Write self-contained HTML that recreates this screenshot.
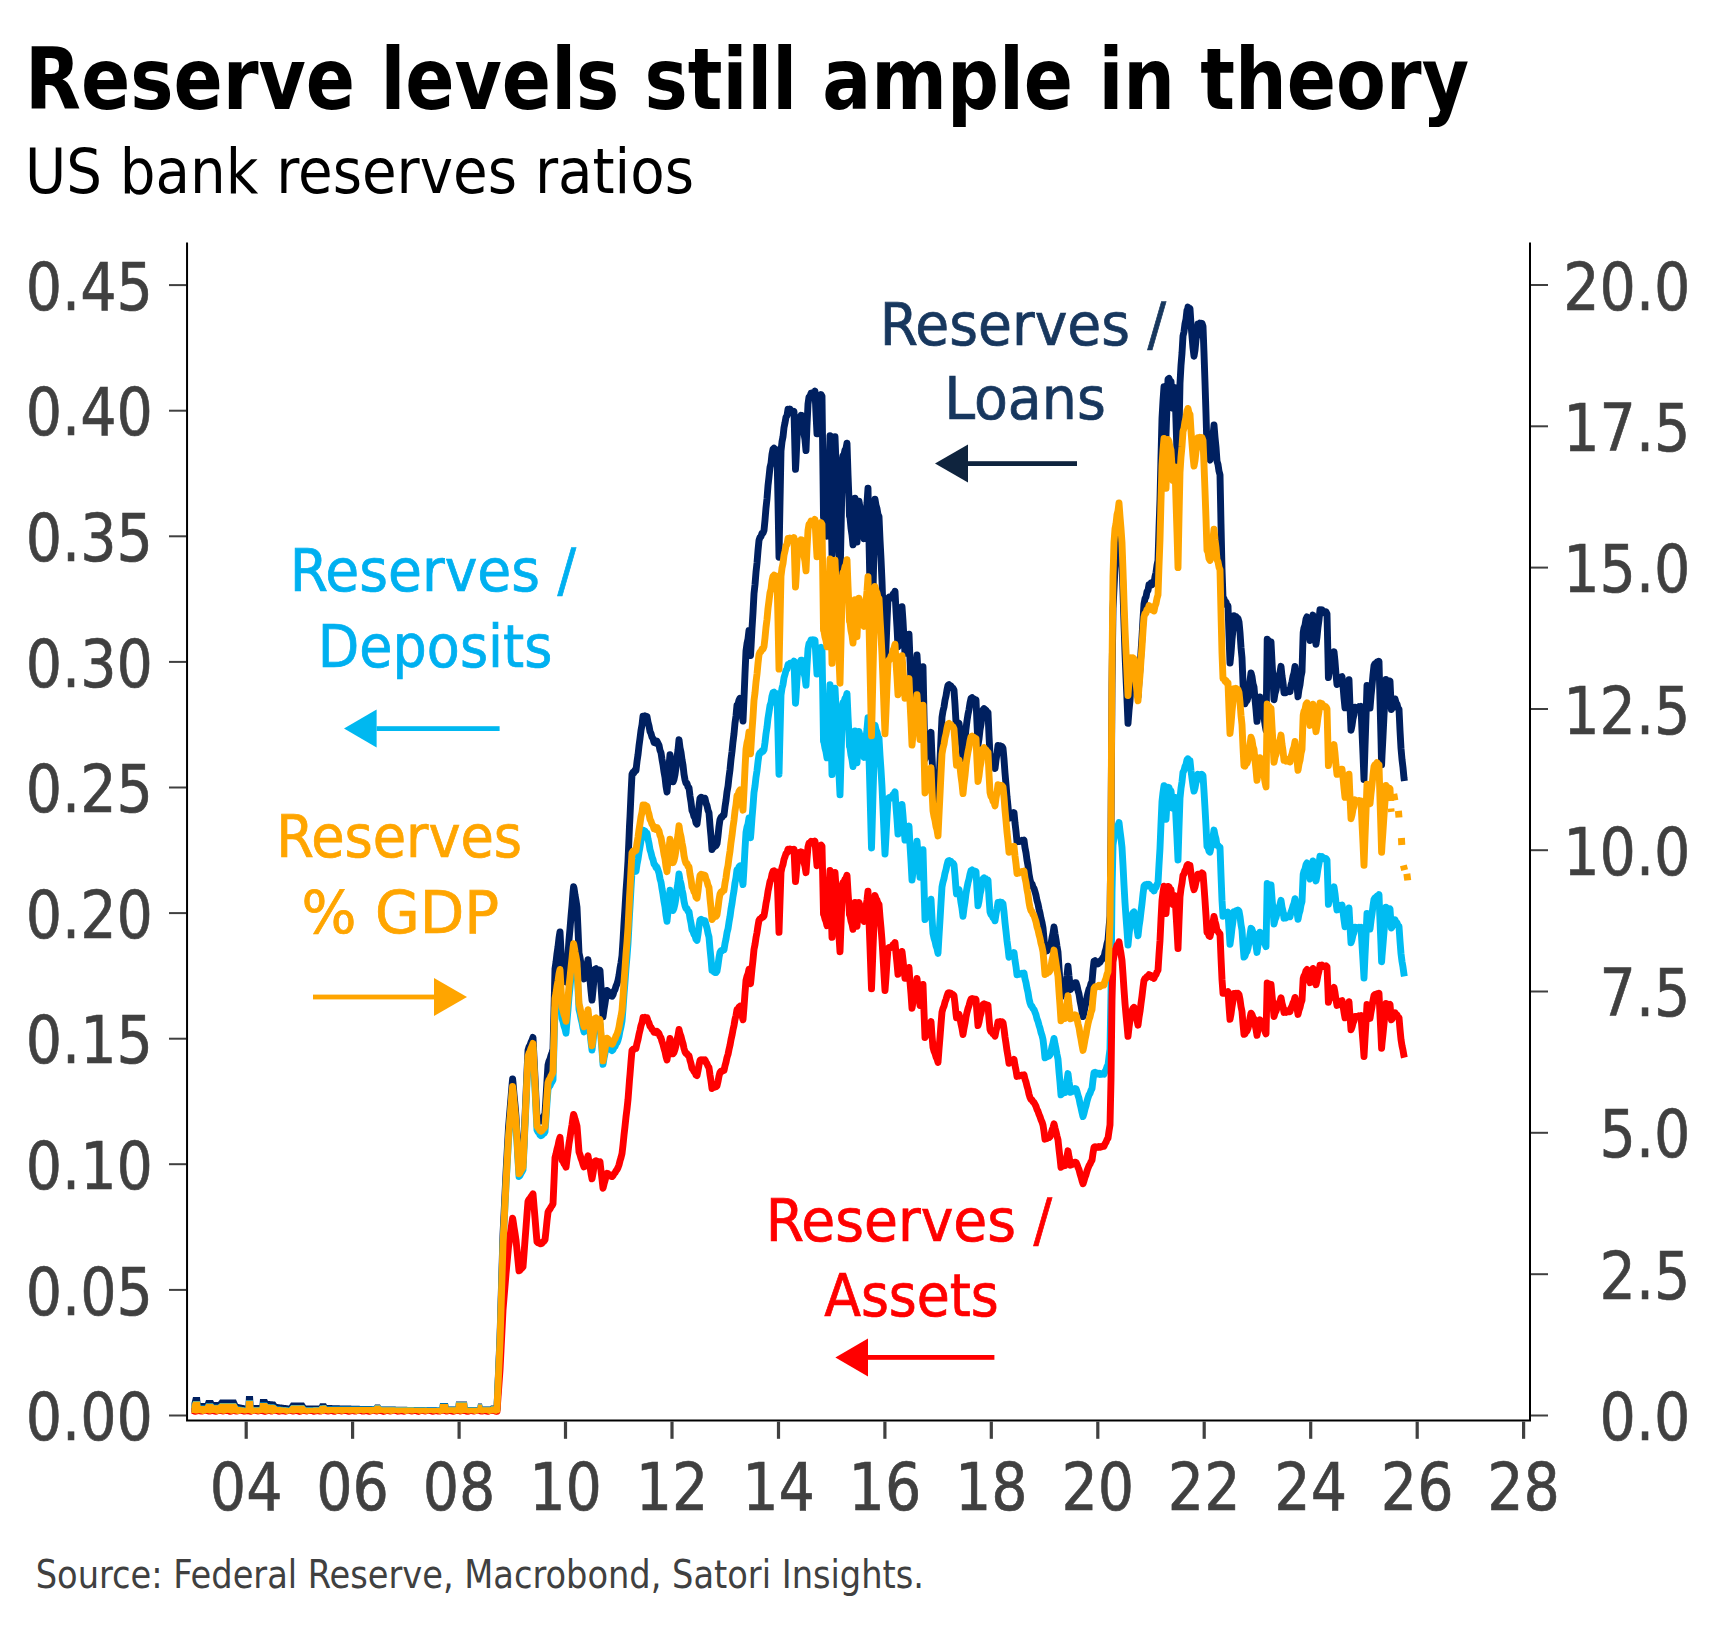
<!DOCTYPE html>
<html lang="en"><head><meta charset="utf-8"><title>Reserve levels still ample in theory</title>
<style>
html,body{margin:0;padding:0;background:#fff;}
body{width:1718px;height:1635px;overflow:hidden;}
svg{display:block;}
text{font-family:"DejaVu Sans Condensed", "Liberation Sans", sans-serif;}
.tk{fill:#404040;font-size:66px;stroke:#404040;stroke-width:0.6px;}
.lbl{font-size:60px;text-anchor:middle;}
.ln{fill:none;stroke-width:6.9;stroke-linejoin:round;stroke-linecap:butt;}
</style></head><body>
<svg width="1718" height="1635" viewBox="0 0 1718 1635">
<rect width="1718" height="1635" fill="#fff"/>

<text id="title" x="25" y="109" font-size="85" font-weight="bold" fill="#000" textLength="1444" lengthAdjust="spacingAndGlyphs">Reserve levels still ample in theory</text>
<text id="sub" x="25" y="193" font-size="62" fill="#000" textLength="669" lengthAdjust="spacingAndGlyphs">US bank reserves ratios</text>
<path fill="#002060" d="M191.5 1403.0 L192.0 1401.0 L192.5 1399.0 L193.0 1397.0 L193.5 1397.0 L194.0 1397.0 L194.5 1397.0 L195.0 1397.0 L195.5 1397.0 L196.0 1397.0 L196.5 1397.0 L197.0 1397.0 L197.5 1397.0 L198.0 1397.0 L198.5 1397.0 L199.0 1397.0 L199.5 1397.0 L200.0 1397.0 L200.5 1403.0 L201.0 1403.0 L201.5 1403.0 L202.0 1403.0 L202.5 1403.0 L203.0 1403.0 L203.5 1403.0 L204.0 1403.0 L204.5 1403.0 L205.0 1403.0 L205.5 1401.5 L206.0 1400.0 L206.5 1400.0 L207.0 1400.0 L207.5 1400.0 L208.0 1400.0 L208.5 1400.0 L209.0 1400.0 L209.5 1400.0 L210.0 1400.0 L210.5 1400.0 L211.0 1400.0 L211.5 1400.0 L212.0 1400.0 L212.5 1400.0 L213.0 1400.0 L213.5 1401.0 L214.0 1402.0 L214.5 1402.0 L215.0 1402.0 L215.5 1402.0 L216.0 1402.0 L216.5 1402.0 L217.0 1402.0 L217.5 1402.0 L218.0 1402.0 L218.5 1401.4 L219.0 1400.8 L219.5 1400.2 L220.0 1399.6 L220.5 1399.6 L221.0 1399.6 L221.5 1399.6 L222.0 1399.6 L222.5 1399.6 L223.0 1399.6 L223.5 1399.6 L224.0 1399.6 L224.5 1399.6 L225.0 1399.6 L225.5 1399.6 L226.0 1399.6 L226.5 1399.6 L227.0 1399.6 L227.5 1399.6 L228.0 1399.6 L228.5 1399.6 L229.0 1399.6 L229.5 1399.6 L230.0 1399.6 L230.5 1399.6 L231.0 1399.6 L231.5 1399.6 L232.0 1399.6 L232.5 1399.6 L233.0 1399.6 L233.5 1399.6 L234.0 1399.6 L234.5 1399.6 L235.0 1399.6 L235.5 1399.6 L236.0 1399.6 L236.5 1400.7 L237.0 1401.8 L237.5 1402.9 L238.0 1404.0 L238.5 1404.1 L239.0 1404.2 L239.5 1404.3 L240.0 1404.4 L240.5 1404.5 L241.0 1404.6 L241.5 1404.7 L242.0 1404.8 L242.5 1404.9 L243.0 1405.0 L243.5 1405.1 L244.0 1405.2 L244.5 1405.3 L245.0 1405.4 L245.5 1405.5 L246.0 1396.0 L246.5 1396.0 L247.0 1396.0 L247.5 1396.0 L248.0 1396.0 L248.5 1396.0 L249.0 1396.0 L249.5 1396.0 L250.0 1396.0 L250.5 1396.0 L251.0 1396.0 L251.5 1396.0 L252.0 1396.0 L252.5 1396.0 L253.0 1396.0 L253.5 1405.0 L254.0 1405.0 L254.5 1405.0 L255.0 1405.0 L255.5 1405.0 L256.0 1405.0 L256.5 1405.0 L257.0 1405.0 L257.5 1405.0 L258.0 1405.0 L258.5 1405.0 L259.0 1405.0 L259.5 1405.0 L260.0 1399.0 L260.5 1399.0 L261.0 1399.0 L261.5 1399.0 L262.0 1399.0 L262.5 1399.0 L263.0 1399.0 L263.5 1399.0 L264.0 1399.0 L264.5 1399.0 L265.0 1399.0 L265.5 1399.0 L266.0 1399.0 L266.5 1399.0 L267.0 1399.0 L267.5 1400.0 L268.0 1401.0 L268.5 1401.0 L269.0 1401.1 L269.5 1401.1 L270.0 1401.1 L270.5 1401.2 L271.0 1401.2 L271.5 1401.2 L272.0 1401.3 L272.5 1401.3 L273.0 1401.4 L273.5 1401.4 L274.0 1401.4 L274.5 1401.5 L275.0 1401.5 L275.5 1402.1 L276.0 1402.8 L276.5 1403.4 L277.0 1404.0 L277.5 1404.1 L278.0 1404.1 L278.5 1404.2 L279.0 1404.2 L279.5 1404.3 L280.0 1404.4 L280.5 1404.4 L281.0 1404.5 L281.5 1404.6 L282.0 1404.6 L282.5 1404.7 L283.0 1404.8 L283.5 1404.8 L284.0 1404.9 L284.5 1404.9 L285.0 1405.0 L285.5 1405.1 L286.0 1405.1 L286.5 1405.2 L287.0 1405.2 L287.5 1405.3 L288.0 1405.4 L288.5 1405.4 L289.0 1405.5 L289.5 1404.8 L290.0 1404.0 L290.5 1403.2 L291.0 1402.5 L291.5 1402.5 L292.0 1402.5 L292.5 1402.5 L293.0 1402.5 L293.5 1402.5 L294.0 1402.5 L294.5 1402.5 L295.0 1402.5 L295.5 1402.5 L296.0 1402.5 L296.5 1402.5 L297.0 1402.5 L297.5 1402.5 L298.0 1402.5 L298.5 1402.5 L299.0 1402.5 L299.5 1402.5 L300.0 1402.5 L300.5 1402.5 L301.0 1402.5 L301.5 1402.5 L302.0 1402.5 L302.5 1402.5 L303.0 1402.5 L303.5 1402.5 L304.0 1402.5 L304.5 1403.3 L305.0 1404.0 L305.5 1404.8 L306.0 1405.6 L306.5 1405.6 L307.0 1405.6 L307.5 1405.6 L308.0 1405.6 L308.5 1405.6 L309.0 1405.6 L309.5 1405.6 L310.0 1405.6 L310.5 1405.6 L311.0 1405.6 L311.5 1405.6 L312.0 1405.6 L312.5 1405.6 L313.0 1405.6 L313.5 1405.6 L314.0 1405.6 L314.5 1405.6 L315.0 1405.6 L315.5 1405.6 L316.0 1405.6 L316.5 1405.6 L317.0 1405.6 L317.5 1405.6 L318.0 1405.6 L318.5 1405.6 L319.0 1405.6 L319.5 1404.4 L320.0 1403.3 L320.5 1403.3 L321.0 1403.3 L321.5 1403.3 L322.0 1403.3 L322.5 1403.3 L323.0 1403.3 L323.5 1403.3 L324.0 1403.3 L324.5 1403.3 L325.0 1403.3 L325.5 1403.3 L326.0 1403.3 L326.5 1404.2 L327.0 1405.0 L327.5 1405.0 L328.0 1405.0 L328.5 1405.0 L329.0 1405.1 L329.5 1405.1 L330.0 1405.1 L330.5 1405.1 L331.0 1405.1 L331.5 1405.1 L332.0 1405.1 L332.5 1405.2 L333.0 1405.2 L333.5 1405.2 L334.0 1405.2 L334.5 1405.2 L335.0 1405.2 L335.5 1405.2 L336.0 1405.2 L336.5 1405.3 L337.0 1405.3 L337.5 1405.3 L338.0 1405.3 L338.5 1405.3 L339.0 1405.3 L339.5 1405.3 L340.0 1405.4 L340.5 1405.4 L341.0 1405.4 L341.5 1405.4 L342.0 1405.4 L342.5 1405.4 L343.0 1405.4 L343.5 1405.5 L344.0 1405.5 L344.5 1405.5 L345.0 1405.5 L345.5 1405.5 L346.0 1405.5 L346.5 1405.5 L347.0 1405.5 L347.5 1405.6 L348.0 1405.6 L348.5 1405.6 L349.0 1405.6 L349.5 1405.6 L350.0 1405.6 L350.5 1405.6 L351.0 1405.6 L351.5 1405.7 L352.0 1405.7 L352.5 1405.7 L353.0 1405.7 L353.5 1405.7 L354.0 1405.7 L354.5 1405.7 L355.0 1405.7 L355.5 1405.8 L356.0 1405.8 L356.5 1405.8 L357.0 1405.8 L357.5 1405.8 L358.0 1405.8 L358.5 1405.8 L359.0 1405.8 L359.5 1405.8 L360.0 1405.9 L360.5 1405.9 L361.0 1405.9 L361.5 1405.9 L362.0 1405.9 L362.5 1405.9 L363.0 1405.9 L363.5 1405.9 L364.0 1406.0 L364.5 1406.0 L365.0 1406.0 L365.5 1406.0 L366.0 1406.0 L366.5 1406.0 L367.0 1406.0 L367.5 1406.0 L368.0 1406.1 L368.5 1406.1 L369.0 1406.1 L369.5 1406.1 L370.0 1406.1 L370.5 1406.1 L371.0 1406.1 L371.5 1406.1 L372.0 1406.2 L372.5 1406.2 L373.0 1406.2 L373.5 1406.2 L374.0 1406.2 L374.5 1405.4 L375.0 1404.6 L375.5 1404.6 L376.0 1404.6 L376.5 1404.6 L377.0 1404.6 L377.5 1404.6 L378.0 1404.6 L378.5 1404.6 L379.0 1404.6 L379.5 1404.6 L380.0 1404.6 L380.5 1405.5 L381.0 1406.4 L381.5 1406.4 L382.0 1406.4 L382.5 1406.4 L383.0 1406.4 L383.5 1406.4 L384.0 1406.5 L384.5 1406.5 L385.0 1406.5 L385.5 1406.5 L386.0 1406.5 L386.5 1406.5 L387.0 1406.5 L387.5 1406.5 L388.0 1406.5 L388.5 1406.5 L389.0 1406.5 L389.5 1406.5 L390.0 1406.6 L390.5 1406.6 L391.0 1406.6 L391.5 1406.6 L392.0 1406.6 L392.5 1406.6 L393.0 1406.6 L393.5 1406.6 L394.0 1406.6 L394.5 1406.6 L395.0 1406.6 L395.5 1406.6 L396.0 1406.7 L396.5 1406.7 L397.0 1406.7 L397.5 1406.7 L398.0 1406.7 L398.5 1406.7 L399.0 1406.7 L399.5 1406.7 L400.0 1406.7 L400.5 1406.7 L401.0 1406.7 L401.5 1406.8 L402.0 1406.8 L402.5 1406.8 L403.0 1406.8 L403.5 1406.8 L404.0 1406.8 L404.5 1406.8 L405.0 1406.8 L405.5 1406.8 L406.0 1406.8 L406.5 1406.8 L407.0 1406.8 L407.5 1406.9 L408.0 1406.9 L408.5 1406.9 L409.0 1406.9 L409.5 1406.9 L410.0 1406.9 L410.5 1406.9 L411.0 1406.9 L411.5 1406.9 L412.0 1406.9 L412.5 1406.9 L413.0 1406.9 L413.5 1407.0 L414.0 1407.0 L414.5 1407.0 L415.0 1407.0 L415.5 1407.0 L416.0 1407.0 L416.5 1407.0 L417.0 1407.0 L417.5 1407.0 L418.0 1407.0 L418.5 1407.0 L419.0 1407.0 L419.5 1407.1 L420.0 1407.1 L420.5 1407.1 L421.0 1407.1 L421.5 1407.1 L422.0 1407.1 L422.5 1407.1 L423.0 1407.1 L423.5 1407.1 L424.0 1407.1 L424.5 1407.1 L425.0 1407.2 L425.5 1407.2 L426.0 1407.2 L426.5 1407.2 L427.0 1407.2 L427.5 1407.2 L428.0 1407.2 L428.5 1407.2 L429.0 1407.2 L429.5 1407.2 L430.0 1407.2 L430.5 1407.2 L431.0 1407.3 L431.5 1407.3 L432.0 1407.3 L432.5 1407.3 L433.0 1407.3 L433.5 1407.3 L434.0 1407.3 L434.5 1407.3 L435.0 1407.3 L435.5 1407.3 L436.0 1407.3 L436.5 1407.3 L437.0 1407.4 L437.5 1407.4 L438.0 1407.4 L438.5 1407.4 L439.0 1407.4 L439.5 1407.4 L440.0 1403.0 L440.5 1403.0 L441.0 1403.0 L441.5 1403.0 L442.0 1403.0 L442.5 1403.0 L443.0 1403.0 L443.5 1403.0 L444.0 1403.0 L444.5 1403.0 L445.0 1403.0 L445.5 1403.0 L446.0 1403.0 L446.5 1403.0 L447.0 1403.0 L447.5 1403.0 L448.0 1403.0 L448.5 1406.6 L449.0 1406.6 L449.5 1406.6 L450.0 1406.6 L450.5 1406.6 L451.0 1406.6 L451.5 1406.6 L452.0 1406.6 L452.5 1406.6 L453.0 1406.6 L453.5 1406.6 L454.0 1406.6 L454.5 1406.6 L455.0 1406.6 L455.5 1406.6 L456.0 1401.4 L456.5 1401.4 L457.0 1401.4 L457.5 1401.4 L458.0 1401.4 L458.5 1401.4 L459.0 1401.4 L459.5 1401.4 L460.0 1401.4 L460.5 1401.4 L461.0 1401.4 L461.5 1401.4 L462.0 1401.4 L462.5 1401.4 L463.0 1401.4 L463.5 1401.4 L464.0 1401.4 L464.5 1401.4 L465.0 1401.4 L465.5 1401.4 L466.0 1401.4 L466.5 1401.4 L467.0 1401.4 L467.5 1407.0 L468.0 1407.0 L468.5 1407.0 L469.0 1407.0 L469.5 1407.0 L470.0 1407.0 L470.5 1407.0 L471.0 1407.0 L471.5 1407.0 L472.0 1407.0 L472.5 1407.0 L473.0 1407.0 L473.5 1407.0 L474.0 1407.0 L474.5 1407.0 L475.0 1407.0 L475.5 1407.0 L476.0 1407.0 L476.5 1407.0 L477.0 1407.0 L477.5 1407.0 L478.0 1403.5 L478.5 1403.5 L479.0 1403.5 L479.5 1403.5 L480.0 1403.5 L480.5 1403.5 L481.0 1403.5 L481.5 1403.5 L482.0 1403.5 L482.5 1406.6 L483.0 1406.6 L483.5 1406.6 L484.0 1406.6 L484.5 1406.6 L485.0 1406.6 L485.5 1406.6 L486.0 1406.6 L486.5 1406.6 L487.0 1406.6 L487.5 1406.6 L488.0 1406.6 L488.5 1406.6 L489.0 1406.6 L489.5 1406.6 L490.0 1406.6 L490.5 1406.1 L491.0 1405.6 L491.5 1405.6 L492.0 1405.6 L492.5 1405.6 L493.0 1405.6 L493.5 1405.6 L494.0 1405.6 L494.5 1405.6 L495.0 1405.6 L495.5 1405.6 L496.0 1405.6 L496.5 1405.6 L497.0 1405.6 L497.0 1412.0 L496.5 1412.0 L496.0 1412.0 L495.5 1412.0 L495.0 1412.0 L494.5 1412.0 L494.0 1412.0 L493.5 1412.0 L493.0 1412.0 L492.5 1412.0 L492.0 1412.0 L491.5 1412.0 L491.0 1412.0 L490.5 1412.0 L490.0 1412.0 L489.5 1412.0 L489.0 1412.0 L488.5 1412.0 L488.0 1412.0 L487.5 1412.0 L487.0 1412.0 L486.5 1412.0 L486.0 1412.0 L485.5 1412.0 L485.0 1412.0 L484.5 1412.0 L484.0 1412.0 L483.5 1412.0 L483.0 1412.0 L482.5 1412.0 L482.0 1412.0 L481.5 1412.0 L481.0 1412.0 L480.5 1412.0 L480.0 1412.0 L479.5 1412.0 L479.0 1412.0 L478.5 1412.0 L478.0 1412.0 L477.5 1412.0 L477.0 1412.0 L476.5 1412.0 L476.0 1412.0 L475.5 1412.0 L475.0 1412.0 L474.5 1412.0 L474.0 1412.0 L473.5 1412.0 L473.0 1412.0 L472.5 1412.0 L472.0 1412.0 L471.5 1412.0 L471.0 1412.0 L470.5 1412.0 L470.0 1412.0 L469.5 1412.0 L469.0 1412.0 L468.5 1412.0 L468.0 1412.0 L467.5 1412.0 L467.0 1412.0 L466.5 1412.0 L466.0 1412.0 L465.5 1412.0 L465.0 1412.0 L464.5 1412.0 L464.0 1412.0 L463.5 1412.0 L463.0 1412.0 L462.5 1412.0 L462.0 1412.0 L461.5 1412.0 L461.0 1412.0 L460.5 1412.0 L460.0 1412.0 L459.5 1412.0 L459.0 1412.0 L458.5 1412.0 L458.0 1412.0 L457.5 1412.0 L457.0 1412.0 L456.5 1412.0 L456.0 1412.0 L455.5 1412.0 L455.0 1412.0 L454.5 1412.0 L454.0 1412.0 L453.5 1412.0 L453.0 1412.0 L452.5 1412.0 L452.0 1412.0 L451.5 1412.0 L451.0 1412.0 L450.5 1412.0 L450.0 1412.0 L449.5 1412.0 L449.0 1412.0 L448.5 1412.0 L448.0 1412.0 L447.5 1412.0 L447.0 1412.0 L446.5 1412.0 L446.0 1412.0 L445.5 1412.0 L445.0 1412.0 L444.5 1412.0 L444.0 1412.0 L443.5 1412.0 L443.0 1412.0 L442.5 1412.0 L442.0 1412.0 L441.5 1412.0 L441.0 1412.0 L440.5 1412.0 L440.0 1412.0 L439.5 1412.0 L439.0 1412.0 L438.5 1412.0 L438.0 1412.0 L437.5 1412.0 L437.0 1412.0 L436.5 1412.0 L436.0 1412.0 L435.5 1412.0 L435.0 1412.0 L434.5 1412.0 L434.0 1412.0 L433.5 1412.0 L433.0 1412.0 L432.5 1412.0 L432.0 1412.0 L431.5 1412.0 L431.0 1412.0 L430.5 1412.0 L430.0 1412.0 L429.5 1412.0 L429.0 1412.0 L428.5 1412.0 L428.0 1412.0 L427.5 1412.0 L427.0 1412.0 L426.5 1412.0 L426.0 1412.0 L425.5 1412.0 L425.0 1412.0 L424.5 1412.0 L424.0 1412.0 L423.5 1412.0 L423.0 1412.0 L422.5 1412.0 L422.0 1412.0 L421.5 1412.0 L421.0 1412.0 L420.5 1412.0 L420.0 1412.0 L419.5 1412.0 L419.0 1412.0 L418.5 1412.0 L418.0 1412.0 L417.5 1412.0 L417.0 1412.0 L416.5 1412.0 L416.0 1412.0 L415.5 1412.0 L415.0 1412.0 L414.5 1412.0 L414.0 1412.0 L413.5 1412.0 L413.0 1412.0 L412.5 1412.0 L412.0 1412.0 L411.5 1412.0 L411.0 1412.0 L410.5 1412.0 L410.0 1412.0 L409.5 1412.0 L409.0 1412.0 L408.5 1412.0 L408.0 1412.0 L407.5 1412.0 L407.0 1412.0 L406.5 1412.0 L406.0 1412.0 L405.5 1412.0 L405.0 1412.0 L404.5 1412.0 L404.0 1412.0 L403.5 1412.0 L403.0 1412.0 L402.5 1412.0 L402.0 1412.0 L401.5 1412.0 L401.0 1412.0 L400.5 1412.0 L400.0 1412.0 L399.5 1412.0 L399.0 1412.0 L398.5 1412.0 L398.0 1412.0 L397.5 1412.0 L397.0 1412.0 L396.5 1412.0 L396.0 1412.0 L395.5 1412.0 L395.0 1412.0 L394.5 1412.0 L394.0 1412.0 L393.5 1412.0 L393.0 1412.0 L392.5 1412.0 L392.0 1412.0 L391.5 1412.0 L391.0 1412.0 L390.5 1412.0 L390.0 1412.0 L389.5 1412.0 L389.0 1412.0 L388.5 1412.0 L388.0 1412.0 L387.5 1412.0 L387.0 1412.0 L386.5 1412.0 L386.0 1412.0 L385.5 1412.0 L385.0 1412.0 L384.5 1412.0 L384.0 1412.0 L383.5 1412.0 L383.0 1412.0 L382.5 1412.0 L382.0 1412.0 L381.5 1412.0 L381.0 1412.0 L380.5 1412.0 L380.0 1412.0 L379.5 1412.0 L379.0 1412.0 L378.5 1412.0 L378.0 1412.0 L377.5 1412.0 L377.0 1412.0 L376.5 1412.0 L376.0 1412.0 L375.5 1412.0 L375.0 1412.0 L374.5 1412.0 L374.0 1412.0 L373.5 1412.0 L373.0 1412.0 L372.5 1412.0 L372.0 1412.0 L371.5 1412.0 L371.0 1412.0 L370.5 1412.0 L370.0 1412.0 L369.5 1412.0 L369.0 1412.0 L368.5 1412.0 L368.0 1412.0 L367.5 1412.0 L367.0 1412.0 L366.5 1412.0 L366.0 1412.0 L365.5 1412.0 L365.0 1412.0 L364.5 1412.0 L364.0 1412.0 L363.5 1412.0 L363.0 1412.0 L362.5 1412.0 L362.0 1412.0 L361.5 1412.0 L361.0 1412.0 L360.5 1412.0 L360.0 1412.0 L359.5 1412.0 L359.0 1412.0 L358.5 1412.0 L358.0 1412.0 L357.5 1412.0 L357.0 1412.0 L356.5 1412.0 L356.0 1412.0 L355.5 1412.0 L355.0 1412.0 L354.5 1412.0 L354.0 1412.0 L353.5 1412.0 L353.0 1412.0 L352.5 1412.0 L352.0 1412.0 L351.5 1412.0 L351.0 1412.0 L350.5 1412.0 L350.0 1412.0 L349.5 1412.0 L349.0 1412.0 L348.5 1412.0 L348.0 1412.0 L347.5 1412.0 L347.0 1412.0 L346.5 1412.0 L346.0 1412.0 L345.5 1412.0 L345.0 1412.0 L344.5 1412.0 L344.0 1412.0 L343.5 1412.0 L343.0 1412.0 L342.5 1412.0 L342.0 1412.0 L341.5 1412.0 L341.0 1412.0 L340.5 1412.0 L340.0 1412.0 L339.5 1412.0 L339.0 1412.0 L338.5 1412.0 L338.0 1412.0 L337.5 1412.0 L337.0 1412.0 L336.5 1412.0 L336.0 1412.0 L335.5 1412.0 L335.0 1412.0 L334.5 1412.0 L334.0 1412.0 L333.5 1412.0 L333.0 1412.0 L332.5 1412.0 L332.0 1412.0 L331.5 1412.0 L331.0 1412.0 L330.5 1412.0 L330.0 1412.0 L329.5 1412.0 L329.0 1412.0 L328.5 1412.0 L328.0 1412.0 L327.5 1412.0 L327.0 1412.0 L326.5 1412.0 L326.0 1412.0 L325.5 1412.0 L325.0 1412.0 L324.5 1412.0 L324.0 1412.0 L323.5 1412.0 L323.0 1412.0 L322.5 1412.0 L322.0 1412.0 L321.5 1412.0 L321.0 1412.0 L320.5 1412.0 L320.0 1412.0 L319.5 1412.0 L319.0 1412.0 L318.5 1412.0 L318.0 1412.0 L317.5 1412.0 L317.0 1412.0 L316.5 1412.0 L316.0 1412.0 L315.5 1412.0 L315.0 1412.0 L314.5 1412.0 L314.0 1412.0 L313.5 1412.0 L313.0 1412.0 L312.5 1412.0 L312.0 1412.0 L311.5 1412.0 L311.0 1412.0 L310.5 1412.0 L310.0 1412.0 L309.5 1412.0 L309.0 1412.0 L308.5 1412.0 L308.0 1412.0 L307.5 1412.0 L307.0 1412.0 L306.5 1412.0 L306.0 1412.0 L305.5 1412.0 L305.0 1412.0 L304.5 1412.0 L304.0 1412.0 L303.5 1412.0 L303.0 1412.0 L302.5 1412.0 L302.0 1412.0 L301.5 1412.0 L301.0 1412.0 L300.5 1412.0 L300.0 1412.0 L299.5 1412.0 L299.0 1412.0 L298.5 1412.0 L298.0 1412.0 L297.5 1412.0 L297.0 1412.0 L296.5 1412.0 L296.0 1412.0 L295.5 1412.0 L295.0 1412.0 L294.5 1412.0 L294.0 1412.0 L293.5 1412.0 L293.0 1412.0 L292.5 1412.0 L292.0 1412.0 L291.5 1412.0 L291.0 1412.0 L290.5 1412.0 L290.0 1412.0 L289.5 1412.0 L289.0 1412.0 L288.5 1412.0 L288.0 1412.0 L287.5 1412.0 L287.0 1412.0 L286.5 1412.0 L286.0 1412.0 L285.5 1412.0 L285.0 1412.0 L284.5 1412.0 L284.0 1412.0 L283.5 1412.0 L283.0 1412.0 L282.5 1412.0 L282.0 1412.0 L281.5 1412.0 L281.0 1412.0 L280.5 1412.0 L280.0 1412.0 L279.5 1412.0 L279.0 1412.0 L278.5 1412.0 L278.0 1412.0 L277.5 1412.0 L277.0 1412.0 L276.5 1412.0 L276.0 1412.0 L275.5 1412.0 L275.0 1412.0 L274.5 1412.0 L274.0 1412.0 L273.5 1412.0 L273.0 1412.0 L272.5 1412.0 L272.0 1412.0 L271.5 1412.0 L271.0 1412.0 L270.5 1412.0 L270.0 1412.0 L269.5 1412.0 L269.0 1412.0 L268.5 1412.0 L268.0 1412.0 L267.5 1412.0 L267.0 1412.0 L266.5 1412.0 L266.0 1412.0 L265.5 1412.0 L265.0 1412.0 L264.5 1412.0 L264.0 1412.0 L263.5 1412.0 L263.0 1412.0 L262.5 1412.0 L262.0 1412.0 L261.5 1412.0 L261.0 1412.0 L260.5 1412.0 L260.0 1412.0 L259.5 1412.0 L259.0 1412.0 L258.5 1412.0 L258.0 1412.0 L257.5 1412.0 L257.0 1412.0 L256.5 1412.0 L256.0 1412.0 L255.5 1412.0 L255.0 1412.0 L254.5 1412.0 L254.0 1412.0 L253.5 1412.0 L253.0 1412.0 L252.5 1412.0 L252.0 1412.0 L251.5 1412.0 L251.0 1412.0 L250.5 1412.0 L250.0 1412.0 L249.5 1412.0 L249.0 1412.0 L248.5 1412.0 L248.0 1412.0 L247.5 1412.0 L247.0 1412.0 L246.5 1412.0 L246.0 1412.0 L245.5 1412.0 L245.0 1412.0 L244.5 1412.0 L244.0 1412.0 L243.5 1412.0 L243.0 1412.0 L242.5 1412.0 L242.0 1412.0 L241.5 1412.0 L241.0 1412.0 L240.5 1412.0 L240.0 1412.0 L239.5 1412.0 L239.0 1412.0 L238.5 1412.0 L238.0 1412.0 L237.5 1412.0 L237.0 1412.0 L236.5 1412.0 L236.0 1412.0 L235.5 1412.0 L235.0 1412.0 L234.5 1412.0 L234.0 1412.0 L233.5 1412.0 L233.0 1412.0 L232.5 1412.0 L232.0 1412.0 L231.5 1412.0 L231.0 1412.0 L230.5 1412.0 L230.0 1412.0 L229.5 1412.0 L229.0 1412.0 L228.5 1412.0 L228.0 1412.0 L227.5 1412.0 L227.0 1412.0 L226.5 1412.0 L226.0 1412.0 L225.5 1412.0 L225.0 1412.0 L224.5 1412.0 L224.0 1412.0 L223.5 1412.0 L223.0 1412.0 L222.5 1412.0 L222.0 1412.0 L221.5 1412.0 L221.0 1412.0 L220.5 1412.0 L220.0 1412.0 L219.5 1412.0 L219.0 1412.0 L218.5 1412.0 L218.0 1412.0 L217.5 1412.0 L217.0 1412.0 L216.5 1412.0 L216.0 1412.0 L215.5 1412.0 L215.0 1412.0 L214.5 1412.0 L214.0 1412.0 L213.5 1412.0 L213.0 1412.0 L212.5 1412.0 L212.0 1412.0 L211.5 1412.0 L211.0 1412.0 L210.5 1412.0 L210.0 1412.0 L209.5 1412.0 L209.0 1412.0 L208.5 1412.0 L208.0 1412.0 L207.5 1412.0 L207.0 1412.0 L206.5 1412.0 L206.0 1412.0 L205.5 1412.0 L205.0 1412.0 L204.5 1412.0 L204.0 1412.0 L203.5 1412.0 L203.0 1412.0 L202.5 1412.0 L202.0 1412.0 L201.5 1412.0 L201.0 1412.0 L200.5 1412.0 L200.0 1412.0 L199.5 1412.0 L199.0 1412.0 L198.5 1412.0 L198.0 1412.0 L197.5 1412.0 L197.0 1412.0 L196.5 1412.0 L196.0 1412.0 L195.5 1412.0 L195.0 1412.0 L194.5 1412.0 L194.0 1412.0 L193.5 1412.0 L193.0 1412.0 L192.5 1412.0 L192.0 1412.0 L191.5 1412.0 Z"/>
<path class="ln" stroke="#002060" d="M495.5 1408.8 L497.0 1408.8 L497.0 1407.9 L498.0 1384.4 L499.0 1360.9 L500.0 1337.5 L501.0 1303.2 L502.0 1269.0 L503.0 1234.7 L504.0 1214.3 L505.0 1193.8 L506.0 1173.4 L507.0 1155.0 L508.0 1136.7 L508.5 1127.5 L509.0 1121.5 L510.0 1109.6 L511.0 1097.7 L512.0 1085.5 L512.6 1079.0 L513.0 1082.6 L514.0 1094.5 L515.0 1104.9 L516.0 1116.6 L517.0 1133.7 L518.0 1151.8 L519.0 1168.8 L520.0 1167.7 L521.0 1165.6 L522.0 1164.2 L523.0 1162.2 L524.0 1140.2 L525.0 1116.9 L526.0 1094.9 L527.0 1071.7 L528.0 1050.3 L529.0 1046.9 L530.0 1045.3 L531.0 1042.3 L532.0 1040.3 L533.0 1037.4 L534.0 1058.1 L535.0 1078.0 L536.0 1098.7 L537.0 1118.7 L538.0 1119.7 L539.0 1119.8 L540.0 1121.1 L541.0 1121.1 L542.0 1119.8 L543.0 1117.2 L544.0 1115.9 L545.0 1113.3 L546.0 1097.5 L547.0 1080.5 L548.0 1065.2 L549.0 1061.2 L550.0 1059.1 L551.0 1055.4 L552.0 1052.8 L553.0 1049.3 L554.0 1009.6 L555.0 968.7 L556.0 962.1 L557.0 953.4 L558.0 946.8 L559.0 938.1 L560.0 931.9 L561.0 950.7 L562.0 970.8 L563.0 972.6 L564.0 976.4 L565.0 978.1 L566.0 981.9 L567.0 967.6 L568.0 954.6 L569.0 939.7 L570.0 928.9 L571.0 916.6 L572.0 905.4 L573.0 892.3 L573.6 886.7 L574.0 888.1 L575.0 894.9 L576.0 900.6 L577.0 907.3 L578.0 929.3 L579.0 953.0 L580.0 957.6 L581.0 963.7 L582.0 968.4 L583.0 974.5 L584.0 979.0 L585.0 974.9 L586.0 969.4 L587.0 965.1 L588.0 959.7 L589.0 970.4 L590.0 979.5 L591.0 990.9 L592.0 1000.1 L593.0 990.5 L594.0 979.1 L595.0 969.2 L596.0 968.6 L597.0 970.1 L598.0 969.7 L599.0 971.0 L600.0 970.4 L601.0 986.2 L602.0 1000.6 L603.0 1016.7 L604.0 1009.5 L605.0 1003.4 L606.0 996.4 L607.0 990.5 L608.0 991.1 L609.0 993.3 L610.0 993.9 L611.0 996.0 L612.0 996.3 L613.0 994.7 L614.0 991.2 L615.0 989.6 L616.0 986.1 L617.0 983.9 L618.0 980.4 L619.0 975.5 L620.0 968.4 L621.0 962.8 L622.0 955.8 L623.0 940.7 L624.0 923.3 L625.0 907.9 L626.0 891.2 L627.0 877.3 L628.0 861.0 L629.0 838.2 L629.5 826.0 L630.0 816.6 L631.0 794.2 L632.0 774.3 L633.0 772.2 L634.0 772.6 L635.0 770.1 L636.0 770.3 L637.0 761.6 L638.0 754.8 L639.0 745.8 L640.0 738.5 L641.0 730.4 L642.0 725.0 L643.0 716.2 L644.0 717.4 L645.0 715.9 L646.0 717.3 L647.0 716.6 L648.0 722.1 L649.0 725.8 L650.0 731.4 L651.0 733.5 L652.0 737.1 L653.0 738.6 L654.0 742.4 L655.0 741.6 L656.0 743.2 L657.0 741.2 L658.0 743.2 L659.0 745.2 L660.0 750.3 L661.0 752.8 L662.0 759.3 L663.0 764.8 L664.0 771.9 L665.0 777.3 L666.0 786.1 L667.0 792.0 L668.0 780.2 L669.0 766.1 L670.0 754.7 L671.0 762.9 L672.0 773.8 L673.0 781.9 L674.0 779.4 L675.0 774.5 L676.0 767.6 L677.0 757.2 L678.0 750.1 L679.0 739.7 L680.0 747.7 L681.0 752.3 L682.0 759.6 L683.0 765.1 L684.0 774.2 L685.0 779.9 L686.0 783.3 L687.0 783.5 L688.0 787.0 L689.0 787.6 L690.0 796.0 L691.0 802.1 L692.0 810.6 L693.0 812.7 L694.0 816.6 L695.0 818.0 L696.0 822.8 L697.0 824.1 L698.0 816.3 L699.0 806.0 L700.0 798.3 L701.0 797.4 L702.0 799.0 L703.0 798.1 L704.0 799.3 L705.0 798.5 L706.0 803.1 L707.0 805.6 L708.0 810.2 L709.0 812.8 L710.0 825.8 L711.0 836.4 L712.0 849.6 L713.0 847.4 L714.0 847.0 L715.0 845.5 L716.0 845.6 L717.0 843.7 L718.0 836.0 L719.0 826.4 L720.0 819.6 L721.0 817.3 L722.0 817.5 L723.0 815.1 L724.0 815.1 L725.0 806.8 L726.0 800.4 L727.0 791.8 L728.0 786.3 L729.0 777.2 L730.0 769.7 L731.0 759.4 L732.0 751.6 L733.0 741.7 L734.0 733.7 L735.0 723.0 L736.0 715.9 L737.0 705.0 L738.0 704.3 L739.0 700.1 L740.0 698.3 L741.0 705.1 L742.0 714.1 L743.0 721.1 L744.0 698.4 L745.0 673.2 L746.0 651.0 L747.0 643.6 L748.0 639.0 L749.0 630.5 L750.0 648.5 L750.5 655.5 L751.0 647.4 L752.0 628.5 L753.0 612.5 L754.0 593.7 L755.0 584.6 L756.0 572.2 L757.0 563.0 L758.0 550.6 L759.0 540.3 L760.0 537.3 L761.0 536.6 L762.0 533.3 L763.0 533.2 L764.0 530.4 L765.0 520.2 L766.0 507.8 L767.0 498.6 L768.0 485.7 L769.0 476.8 L770.0 467.3 L771.0 463.4 L772.0 454.1 L773.0 449.1 L774.0 448.1 L775.0 449.9 L776.0 449.5 L777.0 451.1 L778.0 502.3 L779.0 557.2 L780.0 502.8 L781.0 450.8 L782.0 441.8 L783.0 436.8 L784.0 427.6 L785.0 422.8 L786.0 417.2 L787.0 415.7 L788.0 409.3 L789.0 411.2 L790.0 409.2 L791.0 412.5 L792.0 411.2 L793.0 413.1 L794.0 411.5 L795.0 452.4 L795.5 469.3 L796.0 461.4 L797.0 438.8 L798.0 421.3 L799.0 417.3 L800.0 418.5 L801.0 415.2 L802.0 415.7 L803.0 422.5 L804.0 433.6 L805.0 439.7 L806.0 450.6 L807.0 425.4 L808.0 404.0 L809.0 397.0 L810.0 396.3 L811.0 393.3 L812.0 395.4 L813.0 392.9 L814.0 394.6 L815.0 391.1 L816.0 414.2 L817.0 433.9 L818.0 422.2 L819.0 407.2 L820.0 396.5 L821.0 394.6 L822.0 396.3 L823.0 475.3 L823.5 517.3 L824.0 518.3 L825.0 525.2 L826.0 529.2 L827.0 536.2 L828.0 501.8 L829.0 469.9 L830.0 435.6 L831.0 497.4 L832.0 554.9 L833.0 517.1 L834.0 474.5 L835.0 436.7 L836.0 463.3 L837.0 494.1 L838.0 522.1 L839.0 552.5 L840.0 580.0 L841.0 532.8 L842.0 481.7 L842.5 459.3 L843.0 455.5 L844.0 454.8 L845.0 450.0 L846.0 448.4 L847.0 443.2 L848.0 474.1 L849.0 500.2 L849.5 516.1 L850.0 517.6 L851.0 528.3 L852.0 534.9 L853.0 544.8 L854.0 519.9 L855.0 498.3 L856.0 518.6 L857.0 542.1 L858.0 519.7 L859.0 501.3 L860.0 507.6 L861.0 517.4 L862.0 523.1 L863.0 532.7 L864.0 538.7 L865.0 527.5 L866.0 513.7 L867.0 502.9 L868.0 488.2 L869.0 540.4 L870.0 588.0 L871.0 638.7 L871.5 662.2 L872.0 640.0 L873.0 591.8 L874.0 547.8 L875.0 499.3 L876.0 505.3 L877.0 508.6 L878.0 514.5 L879.0 516.6 L880.0 539.4 L881.0 558.8 L882.0 581.2 L883.0 610.7 L884.0 641.9 L885.0 670.8 L886.0 647.5 L887.0 621.7 L888.0 598.6 L889.0 597.1 L890.0 598.4 L891.0 596.9 L892.0 596.8 L893.0 594.1 L894.0 593.8 L895.0 591.3 L896.0 610.8 L897.0 627.4 L898.0 646.7 L899.0 635.2 L900.0 626.3 L901.0 615.4 L902.0 606.7 L903.0 621.1 L904.0 639.1 L905.0 653.4 L906.0 650.5 L907.0 643.8 L908.0 640.5 L909.0 634.2 L910.0 659.7 L911.0 681.1 L912.0 706.1 L913.0 695.2 L914.0 686.9 L915.0 675.5 L916.0 667.2 L917.0 655.0 L918.0 671.8 L919.0 686.3 L920.0 702.9 L921.0 690.1 L922.0 679.6 L923.0 666.8 L924.0 714.6 L925.0 759.3 L926.0 756.0 L927.0 750.6 L928.0 747.4 L929.0 741.9 L930.0 738.0 L931.0 732.3 L932.0 756.7 L933.0 777.4 L934.0 783.6 L935.0 787.7 L936.0 794.1 L937.0 797.6 L938.0 803.9 L939.0 781.3 L940.0 760.4 L941.0 738.3 L942.0 717.3 L943.0 711.0 L944.0 707.0 L945.0 700.2 L946.0 696.0 L947.0 689.8 L948.0 685.3 L949.0 684.6 L950.0 687.5 L951.0 685.9 L952.0 688.0 L953.0 688.1 L954.0 690.3 L955.0 704.5 L956.0 722.1 L956.5 728.7 L957.0 728.5 L958.0 724.6 L959.0 723.2 L960.0 730.6 L961.0 740.3 L962.0 748.1 L963.0 758.5 L964.0 747.9 L965.0 739.5 L966.0 728.7 L967.0 720.8 L968.0 714.3 L969.0 709.6 L970.0 703.1 L971.0 698.5 L972.0 697.7 L973.0 700.2 L974.0 698.9 L975.0 701.3 L976.0 699.9 L977.0 723.8 L978.0 745.0 L979.0 739.0 L980.0 729.8 L981.0 724.4 L982.0 715.6 L983.0 709.7 L984.0 708.6 L985.0 711.3 L986.0 710.2 L987.0 712.9 L988.0 712.5 L989.0 735.6 L990.0 754.8 L991.0 759.0 L992.0 759.8 L993.0 763.7 L994.0 764.9 L995.0 768.5 L996.0 760.2 L997.0 753.8 L998.0 745.5 L999.0 746.7 L1000.0 745.9 L1001.0 747.6 L1002.0 746.6 L1003.0 748.3 L1004.0 759.1 L1005.0 773.0 L1006.0 784.4 L1007.0 796.7 L1008.0 806.3 L1009.0 818.3 L1010.0 816.0 L1011.0 816.8 L1012.0 814.6 L1013.0 815.2 L1014.0 812.6 L1015.0 823.0 L1016.0 831.3 L1017.0 841.9 L1018.0 840.7 L1019.0 841.5 L1020.0 840.7 L1021.0 841.2 L1022.0 840.3 L1023.0 840.9 L1024.0 840.2 L1025.0 847.8 L1026.0 852.7 L1027.0 860.1 L1028.0 865.7 L1029.0 874.0 L1030.0 879.4 L1031.0 883.1 L1032.0 883.9 L1033.0 887.0 L1034.0 888.4 L1035.0 891.8 L1036.0 895.3 L1037.0 900.6 L1038.0 903.9 L1039.0 909.0 L1040.0 913.0 L1041.0 918.5 L1042.0 922.3 L1043.0 927.8 L1044.0 938.7 L1045.0 951.7 L1046.0 950.3 L1047.0 950.8 L1048.0 949.3 L1049.0 949.5 L1050.0 948.1 L1051.0 943.8 L1052.0 937.7 L1053.0 933.3 L1054.0 927.0 L1055.0 933.8 L1056.0 939.6 L1057.0 946.3 L1058.0 952.1 L1059.0 967.7 L1060.0 981.5 L1061.0 997.2 L1062.0 994.8 L1063.0 994.2 L1064.0 992.2 L1065.0 992.2 L1066.0 983.1 L1067.0 975.6 L1068.0 966.2 L1069.0 976.1 L1070.0 984.1 L1070.5 989.6 L1071.0 988.3 L1072.0 988.0 L1073.0 985.5 L1074.0 985.1 L1075.0 982.7 L1076.0 982.6 L1077.0 985.7 L1078.0 990.5 L1079.0 994.0 L1080.0 1000.5 L1081.0 1005.5 L1082.0 1011.5 L1083.0 1016.6 L1084.0 1012.3 L1085.0 1006.8 L1086.0 1002.7 L1087.0 997.0 L1088.0 992.8 L1089.0 989.2 L1090.0 987.3 L1091.0 983.5 L1092.0 981.8 L1093.0 970.2 L1094.0 961.3 L1095.0 960.7 L1096.0 962.2 L1097.0 962.3 L1098.0 963.9 L1099.0 961.8 L1100.0 962.2 L1101.0 960.1 L1102.0 959.5 L1103.0 957.5 L1104.0 957.3 L1105.0 952.1 L1106.0 948.9 L1107.0 943.6 L1108.0 940.2 L1109.0 927.7 L1110.0 916.0 L1111.0 831.9 L1112.0 684.4 L1113.0 608.4 L1114.0 588.6 L1115.0 568.5 L1116.0 556.8 L1117.0 541.1 L1118.0 530.5 L1119.0 515.7 L1120.0 531.6 L1121.0 545.8 L1122.0 562.1 L1123.0 591.6 L1124.0 623.7 L1125.0 653.2 L1126.0 677.3 L1127.0 699.6 L1128.0 723.4 L1129.0 710.4 L1130.0 700.6 L1131.0 683.2 L1132.0 679.8 L1133.0 674.0 L1134.0 670.4 L1135.0 675.5 L1136.0 684.1 L1137.0 689.5 L1138.0 696.9 L1139.0 681.1 L1140.0 668.4 L1141.0 652.0 L1142.0 637.0 L1143.0 619.3 L1144.0 603.9 L1145.0 598.7 L1146.0 596.8 L1147.0 591.6 L1148.0 590.3 L1149.0 584.7 L1150.0 585.6 L1151.0 583.1 L1152.0 584.8 L1153.0 582.2 L1154.0 583.0 L1155.0 576.5 L1156.0 572.5 L1157.0 565.3 L1158.0 560.5 L1159.0 528.6 L1160.0 499.6 L1161.0 457.1 L1162.0 418.2 L1163.0 400.6 L1164.0 386.7 L1165.0 409.9 L1166.0 435.9 L1167.0 406.0 L1168.0 379.3 L1169.0 378.5 L1170.0 382.2 L1171.0 381.5 L1172.0 396.1 L1173.0 408.2 L1174.0 400.0 L1175.0 387.7 L1176.0 421.9 L1177.0 453.3 L1178.0 488.5 L1179.0 433.2 L1180.0 383.1 L1181.0 365.3 L1182.0 353.1 L1183.0 336.0 L1184.0 331.8 L1185.0 323.8 L1186.0 319.1 L1187.0 310.1 L1187.6 309.5 L1188.0 307.1 L1189.0 309.5 L1190.0 308.7 L1191.0 324.2 L1192.0 336.3 L1193.0 347.9 L1194.0 356.2 L1195.0 350.1 L1196.0 339.7 L1197.0 334.4 L1198.0 324.0 L1199.0 325.7 L1200.0 323.1 L1201.0 325.7 L1202.0 323.4 L1203.0 326.3 L1204.0 353.2 L1205.0 382.5 L1206.0 413.8 L1207.0 449.0 L1208.0 450.9 L1209.0 458.0 L1210.0 460.1 L1211.0 452.7 L1212.0 442.3 L1213.0 435.6 L1214.0 425.0 L1215.0 437.3 L1216.0 447.1 L1217.0 461.1 L1218.0 464.5 L1219.0 471.2 L1220.0 474.8 L1221.0 523.8 L1222.0 568.8 L1223.0 597.7 L1224.0 598.6 L1225.0 602.0 L1226.0 602.0 L1227.0 605.7 L1228.0 605.9 L1229.0 636.0 L1230.0 663.1 L1231.0 653.2 L1232.0 639.7 L1233.0 629.4 L1234.0 615.8 L1235.0 618.2 L1236.0 616.5 L1237.0 618.9 L1238.0 618.5 L1239.0 621.9 L1240.0 632.5 L1241.0 647.3 L1242.0 657.8 L1243.0 682.8 L1244.0 703.4 L1245.0 703.8 L1246.0 700.7 L1247.0 700.8 L1248.0 697.4 L1249.0 690.4 L1250.0 680.6 L1251.0 673.0 L1252.0 676.7 L1253.0 683.8 L1254.0 687.1 L1255.0 699.1 L1256.0 709.4 L1257.0 721.4 L1258.0 712.4 L1259.0 706.2 L1260.0 697.0 L1261.0 702.7 L1262.0 706.8 L1263.0 712.8 L1264.0 717.2 L1265.0 724.6 L1266.0 730.0 L1267.0 655.9 L1267.2 639.2 L1268.0 641.7 L1269.0 640.9 L1270.0 642.1 L1271.0 641.9 L1272.0 661.6 L1273.0 679.6 L1274.0 699.7 L1275.0 693.5 L1276.0 690.1 L1277.0 684.7 L1278.0 681.0 L1279.0 675.6 L1280.0 672.3 L1281.0 666.3 L1282.0 676.0 L1283.0 682.6 L1284.0 692.7 L1285.0 691.3 L1286.0 692.6 L1287.0 690.2 L1288.0 691.5 L1289.0 690.0 L1290.0 691.6 L1291.0 685.2 L1292.0 681.7 L1293.0 676.3 L1294.0 673.1 L1295.0 666.4 L1296.0 677.6 L1297.0 685.8 L1298.0 696.9 L1299.0 689.4 L1300.0 684.8 L1301.0 676.6 L1302.0 671.7 L1303.0 638.1 L1303.2 632.6 L1304.0 627.9 L1305.0 625.3 L1306.0 619.1 L1307.0 616.8 L1308.0 623.9 L1309.0 633.1 L1310.0 640.5 L1311.0 632.7 L1312.0 622.1 L1313.0 615.1 L1314.0 623.6 L1315.0 636.0 L1316.0 644.4 L1317.0 637.0 L1318.0 627.0 L1319.0 619.7 L1320.0 609.7 L1321.0 611.6 L1322.0 609.8 L1323.0 612.6 L1324.0 611.6 L1325.0 613.0 L1326.0 611.9 L1327.0 613.8 L1328.0 658.1 L1328.4 677.6 L1329.0 673.0 L1330.0 670.3 L1331.0 663.9 L1332.0 660.8 L1333.0 654.7 L1334.0 651.7 L1335.0 661.4 L1336.0 674.4 L1337.0 684.5 L1338.0 684.0 L1339.0 680.8 L1340.0 680.3 L1341.0 677.2 L1342.0 676.7 L1343.0 686.0 L1344.0 697.9 L1345.0 707.9 L1346.0 701.7 L1347.0 693.6 L1348.0 688.2 L1349.0 679.8 L1350.0 706.3 L1351.0 730.2 L1352.0 725.5 L1353.0 718.6 L1354.0 714.7 L1355.0 707.1 L1356.0 708.7 L1357.0 707.5 L1358.0 708.2 L1359.0 706.6 L1360.0 707.8 L1361.0 706.5 L1362.0 731.7 L1363.0 754.6 L1364.0 779.6 L1365.0 747.0 L1366.0 717.5 L1367.0 685.4 L1368.0 693.8 L1369.0 699.8 L1370.0 708.1 L1371.0 696.0 L1372.0 686.1 L1373.0 674.6 L1374.0 665.6 L1375.0 663.7 L1376.0 664.1 L1377.0 662.2 L1378.0 663.4 L1379.0 661.3 L1380.0 700.3 L1381.0 739.4 L1381.6 764.9 L1382.0 755.5 L1383.0 736.6 L1384.0 715.7 L1385.0 698.5 L1386.0 679.4 L1387.0 681.7 L1388.0 680.8 L1389.0 682.3 L1390.0 681.1 L1391.0 702.6 L1391.4 709.5 L1392.0 708.5 L1393.0 704.8 L1394.0 702.7 L1395.0 698.9 L1396.0 702.7 L1397.0 704.2 L1398.0 708.2 L1399.0 709.2 L1400.0 730.3 L1401.0 748.3 L1402.0 759.5 L1403.0 767.6 L1404.0 778.1 L1404.4 780.9"/>
<path fill="#00BCF2" d="M191.5 1405.6 L192.0 1404.0 L192.5 1402.5 L193.0 1401.0 L193.5 1401.0 L194.0 1401.0 L194.5 1401.0 L195.0 1401.0 L195.5 1401.0 L196.0 1401.0 L196.5 1401.0 L197.0 1401.0 L197.5 1401.0 L198.0 1401.0 L198.5 1401.0 L199.0 1401.0 L199.5 1401.0 L200.0 1401.0 L200.5 1405.6 L201.0 1405.6 L201.5 1405.6 L202.0 1405.6 L202.5 1405.6 L203.0 1405.6 L203.5 1405.6 L204.0 1405.6 L204.5 1405.6 L205.0 1405.6 L205.5 1404.4 L206.0 1403.3 L206.5 1403.3 L207.0 1403.3 L207.5 1403.3 L208.0 1403.3 L208.5 1403.3 L209.0 1403.3 L209.5 1403.3 L210.0 1403.3 L210.5 1403.3 L211.0 1403.3 L211.5 1403.3 L212.0 1403.3 L212.5 1403.3 L213.0 1403.3 L213.5 1404.0 L214.0 1404.8 L214.5 1404.8 L215.0 1404.8 L215.5 1404.8 L216.0 1404.8 L216.5 1404.8 L217.0 1404.8 L217.5 1404.8 L218.0 1404.8 L218.5 1404.3 L219.0 1403.9 L219.5 1403.4 L220.0 1403.0 L220.5 1403.0 L221.0 1403.0 L221.5 1403.0 L222.0 1403.0 L222.5 1403.0 L223.0 1403.0 L223.5 1403.0 L224.0 1403.0 L224.5 1403.0 L225.0 1403.0 L225.5 1403.0 L226.0 1403.0 L226.5 1403.0 L227.0 1403.0 L227.5 1403.0 L228.0 1403.0 L228.5 1403.0 L229.0 1403.0 L229.5 1403.0 L230.0 1403.0 L230.5 1403.0 L231.0 1403.0 L231.5 1403.0 L232.0 1403.0 L232.5 1403.0 L233.0 1403.0 L233.5 1403.0 L234.0 1403.0 L234.5 1403.0 L235.0 1403.0 L235.5 1403.0 L236.0 1403.0 L236.5 1403.8 L237.0 1404.6 L237.5 1405.5 L238.0 1406.3 L238.5 1406.4 L239.0 1406.5 L239.5 1406.5 L240.0 1406.6 L240.5 1406.7 L241.0 1406.8 L241.5 1406.8 L242.0 1406.9 L242.5 1407.0 L243.0 1407.1 L243.5 1407.1 L244.0 1407.2 L244.5 1407.3 L245.0 1407.4 L245.5 1407.4 L246.0 1400.3 L246.5 1400.3 L247.0 1400.3 L247.5 1400.3 L248.0 1400.3 L248.5 1400.3 L249.0 1400.3 L249.5 1400.3 L250.0 1400.3 L250.5 1400.3 L251.0 1400.3 L251.5 1400.3 L252.0 1400.3 L252.5 1400.3 L253.0 1400.3 L253.5 1407.1 L254.0 1407.1 L254.5 1407.1 L255.0 1407.1 L255.5 1407.1 L256.0 1407.1 L256.5 1407.1 L257.0 1407.1 L257.5 1407.1 L258.0 1407.1 L258.5 1407.1 L259.0 1407.1 L259.5 1407.1 L260.0 1402.5 L260.5 1402.5 L261.0 1402.5 L261.5 1402.5 L262.0 1402.5 L262.5 1402.5 L263.0 1402.5 L263.5 1402.5 L264.0 1402.5 L264.5 1402.5 L265.0 1402.5 L265.5 1402.5 L266.0 1402.5 L266.5 1402.5 L267.0 1402.5 L267.5 1403.3 L268.0 1404.0 L268.5 1404.1 L269.0 1404.1 L269.5 1404.1 L270.0 1404.2 L270.5 1404.2 L271.0 1404.2 L271.5 1404.2 L272.0 1404.3 L272.5 1404.3 L273.0 1404.3 L273.5 1404.3 L274.0 1404.4 L274.5 1404.4 L275.0 1404.4 L275.5 1404.9 L276.0 1405.4 L276.5 1405.8 L277.0 1406.3 L277.5 1406.4 L278.0 1406.4 L278.5 1406.4 L279.0 1406.5 L279.5 1406.5 L280.0 1406.6 L280.5 1406.6 L281.0 1406.7 L281.5 1406.7 L282.0 1406.8 L282.5 1406.8 L283.0 1406.9 L283.5 1406.9 L284.0 1407.0 L284.5 1407.0 L285.0 1407.1 L285.5 1407.1 L286.0 1407.1 L286.5 1407.2 L287.0 1407.2 L287.5 1407.3 L288.0 1407.3 L288.5 1407.4 L289.0 1407.4 L289.5 1406.9 L290.0 1406.3 L290.5 1405.7 L291.0 1405.2 L291.5 1405.1 L292.0 1405.1 L292.5 1405.1 L293.0 1405.1 L293.5 1405.1 L294.0 1405.1 L294.5 1405.1 L295.0 1405.1 L295.5 1405.1 L296.0 1405.1 L296.5 1405.0 L297.0 1405.0 L297.5 1405.0 L298.0 1405.0 L298.5 1405.0 L299.0 1405.0 L299.5 1405.0 L300.0 1405.0 L300.5 1405.0 L301.0 1405.0 L301.5 1404.9 L302.0 1404.9 L302.5 1404.9 L303.0 1404.9 L303.5 1404.9 L304.0 1404.9 L304.5 1405.5 L305.0 1406.1 L305.5 1406.7 L306.0 1407.3 L306.5 1407.3 L307.0 1407.2 L307.5 1407.2 L308.0 1407.2 L308.5 1407.2 L309.0 1407.2 L309.5 1407.2 L310.0 1407.2 L310.5 1407.2 L311.0 1407.2 L311.5 1407.2 L312.0 1407.2 L312.5 1407.2 L313.0 1407.2 L313.5 1407.1 L314.0 1407.1 L314.5 1407.1 L315.0 1407.1 L315.5 1407.1 L316.0 1407.1 L316.5 1407.1 L317.0 1407.1 L317.5 1407.1 L318.0 1407.1 L318.5 1407.1 L319.0 1407.1 L319.5 1406.1 L320.0 1405.2 L320.5 1405.2 L321.0 1405.2 L321.5 1405.2 L322.0 1405.2 L322.5 1405.1 L323.0 1405.1 L323.5 1405.1 L324.0 1405.1 L324.5 1405.1 L325.0 1405.1 L325.5 1405.1 L326.0 1405.1 L326.5 1405.8 L327.0 1406.4 L327.5 1406.4 L328.0 1406.4 L328.5 1406.4 L329.0 1406.4 L329.5 1406.4 L330.0 1406.4 L330.5 1406.5 L331.0 1406.5 L331.5 1406.5 L332.0 1406.5 L332.5 1406.5 L333.0 1406.5 L333.5 1406.5 L334.0 1406.5 L334.5 1406.5 L335.0 1406.5 L335.5 1406.5 L336.0 1406.5 L336.5 1406.5 L337.0 1406.5 L337.5 1406.5 L338.0 1406.5 L338.5 1406.5 L339.0 1406.5 L339.5 1406.5 L340.0 1406.5 L340.5 1406.5 L341.0 1406.5 L341.5 1406.5 L342.0 1406.5 L342.5 1406.5 L343.0 1406.5 L343.5 1406.5 L344.0 1406.5 L344.5 1406.5 L345.0 1406.5 L345.5 1406.5 L346.0 1406.5 L346.5 1406.5 L347.0 1406.5 L347.5 1406.5 L348.0 1406.5 L348.5 1406.5 L349.0 1406.5 L349.5 1406.5 L350.0 1406.5 L350.5 1406.5 L351.0 1406.5 L351.5 1406.5 L352.0 1406.5 L352.5 1406.5 L353.0 1406.5 L353.5 1406.5 L354.0 1406.5 L354.5 1406.5 L355.0 1406.5 L355.5 1406.5 L356.0 1406.5 L356.5 1406.5 L357.0 1406.5 L357.5 1406.5 L358.0 1406.5 L358.5 1406.5 L359.0 1406.5 L359.5 1406.5 L360.0 1406.5 L360.5 1406.5 L361.0 1406.5 L361.5 1406.5 L362.0 1406.5 L362.5 1406.5 L363.0 1406.6 L363.5 1406.6 L364.0 1406.6 L364.5 1406.6 L365.0 1406.6 L365.5 1406.6 L366.0 1406.6 L366.5 1406.6 L367.0 1406.6 L367.5 1406.6 L368.0 1406.6 L368.5 1406.6 L369.0 1406.6 L369.5 1406.6 L370.0 1406.6 L370.5 1406.6 L371.0 1406.6 L371.5 1406.6 L372.0 1406.6 L372.5 1406.6 L373.0 1406.6 L373.5 1406.6 L374.0 1406.6 L374.5 1405.8 L375.0 1405.1 L375.5 1405.1 L376.0 1405.1 L376.5 1405.1 L377.0 1405.1 L377.5 1405.0 L378.0 1405.0 L378.5 1405.0 L379.0 1405.0 L379.5 1405.0 L380.0 1405.0 L380.5 1405.8 L381.0 1406.6 L381.5 1406.6 L382.0 1406.7 L382.5 1406.7 L383.0 1406.7 L383.5 1406.7 L384.0 1406.7 L384.5 1406.7 L385.0 1406.7 L385.5 1406.7 L386.0 1406.7 L386.5 1406.7 L387.0 1406.7 L387.5 1406.7 L388.0 1406.7 L388.5 1406.8 L389.0 1406.8 L389.5 1406.8 L390.0 1406.8 L390.5 1406.8 L391.0 1406.8 L391.5 1406.8 L392.0 1406.8 L392.5 1406.8 L393.0 1406.8 L393.5 1406.8 L394.0 1406.8 L394.5 1406.8 L395.0 1406.9 L395.5 1406.9 L396.0 1406.9 L396.5 1406.9 L397.0 1406.9 L397.5 1406.9 L398.0 1406.9 L398.5 1406.9 L399.0 1406.9 L399.5 1406.9 L400.0 1406.9 L400.5 1406.9 L401.0 1406.9 L401.5 1407.0 L402.0 1407.0 L402.5 1407.0 L403.0 1407.0 L403.5 1407.0 L404.0 1407.0 L404.5 1407.0 L405.0 1407.0 L405.5 1407.0 L406.0 1407.0 L406.5 1407.0 L407.0 1407.0 L407.5 1407.1 L408.0 1407.1 L408.5 1407.1 L409.0 1407.1 L409.5 1407.1 L410.0 1407.1 L410.5 1407.1 L411.0 1407.1 L411.5 1407.1 L412.0 1407.1 L412.5 1407.1 L413.0 1407.1 L413.5 1407.1 L414.0 1407.2 L414.5 1407.2 L415.0 1407.2 L415.5 1407.2 L416.0 1407.2 L416.5 1407.2 L417.0 1407.2 L417.5 1407.2 L418.0 1407.2 L418.5 1407.2 L419.0 1407.2 L419.5 1407.2 L420.0 1407.2 L420.5 1407.3 L421.0 1407.3 L421.5 1407.3 L422.0 1407.3 L422.5 1407.3 L423.0 1407.3 L423.5 1407.3 L424.0 1407.3 L424.5 1407.3 L425.0 1407.3 L425.5 1407.3 L426.0 1407.3 L426.5 1407.3 L427.0 1407.4 L427.5 1407.4 L428.0 1407.4 L428.5 1407.4 L429.0 1407.4 L429.5 1407.4 L430.0 1407.4 L430.5 1407.4 L431.0 1407.4 L431.5 1407.4 L432.0 1407.4 L432.5 1407.4 L433.0 1407.5 L433.5 1407.5 L434.0 1407.5 L434.5 1407.5 L435.0 1407.5 L435.5 1407.5 L436.0 1407.5 L436.5 1407.5 L437.0 1407.5 L437.5 1407.5 L438.0 1407.5 L438.5 1407.5 L439.0 1407.5 L439.5 1407.6 L440.0 1403.5 L440.5 1403.5 L441.0 1403.5 L441.5 1403.5 L442.0 1403.5 L442.5 1403.5 L443.0 1403.5 L443.5 1403.5 L444.0 1403.5 L444.5 1403.5 L445.0 1403.5 L445.5 1403.5 L446.0 1403.5 L446.5 1403.5 L447.0 1403.5 L447.5 1403.5 L448.0 1403.5 L448.5 1406.8 L449.0 1406.8 L449.5 1406.8 L450.0 1406.8 L450.5 1406.8 L451.0 1406.8 L451.5 1406.8 L452.0 1406.8 L452.5 1406.8 L453.0 1406.8 L453.5 1406.8 L454.0 1406.8 L454.5 1406.8 L455.0 1406.8 L455.5 1406.8 L456.0 1402.0 L456.5 1402.0 L457.0 1402.0 L457.5 1402.0 L458.0 1402.0 L458.5 1402.0 L459.0 1402.0 L459.5 1402.0 L460.0 1402.0 L460.5 1402.0 L461.0 1402.0 L461.5 1402.0 L462.0 1402.0 L462.5 1402.0 L463.0 1402.0 L463.5 1402.0 L464.0 1402.0 L464.5 1402.0 L465.0 1402.0 L465.5 1402.0 L466.0 1402.0 L466.5 1402.0 L467.0 1402.0 L467.5 1407.2 L468.0 1407.2 L468.5 1407.2 L469.0 1407.2 L469.5 1407.2 L470.0 1407.2 L470.5 1407.2 L471.0 1407.2 L471.5 1407.2 L472.0 1407.2 L472.5 1407.2 L473.0 1407.2 L473.5 1407.2 L474.0 1407.2 L474.5 1407.2 L475.0 1407.2 L475.5 1407.2 L476.0 1407.2 L476.5 1407.2 L477.0 1407.2 L477.5 1407.2 L478.0 1404.0 L478.5 1404.0 L479.0 1404.0 L479.5 1404.0 L480.0 1404.0 L480.5 1404.0 L481.0 1404.0 L481.5 1404.0 L482.0 1404.0 L482.5 1406.8 L483.0 1406.8 L483.5 1406.8 L484.0 1406.8 L484.5 1406.8 L485.0 1406.8 L485.5 1406.8 L486.0 1406.8 L486.5 1406.8 L487.0 1406.8 L487.5 1406.8 L488.0 1406.8 L488.5 1406.8 L489.0 1406.8 L489.5 1406.8 L490.0 1406.8 L490.5 1406.4 L491.0 1405.9 L491.5 1405.9 L492.0 1405.9 L492.5 1405.9 L493.0 1405.9 L493.5 1405.9 L494.0 1405.9 L494.5 1405.9 L495.0 1405.9 L495.5 1405.9 L496.0 1405.9 L496.5 1405.9 L497.0 1405.9 L497.0 1412.5 L496.5 1412.5 L496.0 1412.5 L495.5 1412.5 L495.0 1412.5 L494.5 1412.5 L494.0 1412.5 L493.5 1412.5 L493.0 1412.5 L492.5 1412.5 L492.0 1412.5 L491.5 1412.5 L491.0 1412.5 L490.5 1412.5 L490.0 1412.5 L489.5 1412.5 L489.0 1412.5 L488.5 1412.5 L488.0 1412.5 L487.5 1412.5 L487.0 1412.5 L486.5 1412.5 L486.0 1412.5 L485.5 1412.5 L485.0 1412.5 L484.5 1412.5 L484.0 1412.5 L483.5 1412.5 L483.0 1412.5 L482.5 1412.5 L482.0 1412.5 L481.5 1412.5 L481.0 1412.5 L480.5 1412.5 L480.0 1412.5 L479.5 1412.5 L479.0 1412.5 L478.5 1412.5 L478.0 1412.5 L477.5 1412.5 L477.0 1412.5 L476.5 1412.5 L476.0 1412.5 L475.5 1412.5 L475.0 1412.5 L474.5 1412.5 L474.0 1412.5 L473.5 1412.5 L473.0 1412.5 L472.5 1412.5 L472.0 1412.5 L471.5 1412.5 L471.0 1412.5 L470.5 1412.5 L470.0 1412.5 L469.5 1412.5 L469.0 1412.5 L468.5 1412.5 L468.0 1412.5 L467.5 1412.5 L467.0 1412.5 L466.5 1412.5 L466.0 1412.5 L465.5 1412.5 L465.0 1412.5 L464.5 1412.5 L464.0 1412.5 L463.5 1412.5 L463.0 1412.5 L462.5 1412.5 L462.0 1412.5 L461.5 1412.5 L461.0 1412.5 L460.5 1412.5 L460.0 1412.5 L459.5 1412.5 L459.0 1412.5 L458.5 1412.5 L458.0 1412.5 L457.5 1412.5 L457.0 1412.5 L456.5 1412.5 L456.0 1412.5 L455.5 1412.5 L455.0 1412.5 L454.5 1412.5 L454.0 1412.5 L453.5 1412.5 L453.0 1412.5 L452.5 1412.5 L452.0 1412.5 L451.5 1412.5 L451.0 1412.5 L450.5 1412.5 L450.0 1412.5 L449.5 1412.5 L449.0 1412.5 L448.5 1412.5 L448.0 1412.5 L447.5 1412.5 L447.0 1412.5 L446.5 1412.5 L446.0 1412.5 L445.5 1412.5 L445.0 1412.5 L444.5 1412.5 L444.0 1412.5 L443.5 1412.5 L443.0 1412.5 L442.5 1412.5 L442.0 1412.5 L441.5 1412.5 L441.0 1412.5 L440.5 1412.5 L440.0 1412.5 L439.5 1412.5 L439.0 1412.5 L438.5 1412.5 L438.0 1412.5 L437.5 1412.5 L437.0 1412.5 L436.5 1412.5 L436.0 1412.5 L435.5 1412.5 L435.0 1412.5 L434.5 1412.5 L434.0 1412.5 L433.5 1412.5 L433.0 1412.5 L432.5 1412.5 L432.0 1412.5 L431.5 1412.5 L431.0 1412.5 L430.5 1412.5 L430.0 1412.5 L429.5 1412.5 L429.0 1412.5 L428.5 1412.5 L428.0 1412.5 L427.5 1412.5 L427.0 1412.5 L426.5 1412.5 L426.0 1412.5 L425.5 1412.5 L425.0 1412.5 L424.5 1412.5 L424.0 1412.5 L423.5 1412.5 L423.0 1412.5 L422.5 1412.5 L422.0 1412.5 L421.5 1412.5 L421.0 1412.5 L420.5 1412.5 L420.0 1412.5 L419.5 1412.5 L419.0 1412.5 L418.5 1412.5 L418.0 1412.5 L417.5 1412.5 L417.0 1412.5 L416.5 1412.5 L416.0 1412.5 L415.5 1412.5 L415.0 1412.5 L414.5 1412.5 L414.0 1412.5 L413.5 1412.5 L413.0 1412.5 L412.5 1412.5 L412.0 1412.5 L411.5 1412.5 L411.0 1412.5 L410.5 1412.5 L410.0 1412.5 L409.5 1412.5 L409.0 1412.5 L408.5 1412.5 L408.0 1412.5 L407.5 1412.5 L407.0 1412.5 L406.5 1412.5 L406.0 1412.5 L405.5 1412.5 L405.0 1412.5 L404.5 1412.5 L404.0 1412.5 L403.5 1412.5 L403.0 1412.5 L402.5 1412.5 L402.0 1412.5 L401.5 1412.5 L401.0 1412.5 L400.5 1412.5 L400.0 1412.5 L399.5 1412.5 L399.0 1412.5 L398.5 1412.5 L398.0 1412.5 L397.5 1412.5 L397.0 1412.5 L396.5 1412.5 L396.0 1412.5 L395.5 1412.5 L395.0 1412.5 L394.5 1412.5 L394.0 1412.5 L393.5 1412.5 L393.0 1412.5 L392.5 1412.5 L392.0 1412.5 L391.5 1412.5 L391.0 1412.5 L390.5 1412.5 L390.0 1412.5 L389.5 1412.5 L389.0 1412.5 L388.5 1412.5 L388.0 1412.5 L387.5 1412.5 L387.0 1412.5 L386.5 1412.5 L386.0 1412.5 L385.5 1412.5 L385.0 1412.5 L384.5 1412.5 L384.0 1412.5 L383.5 1412.5 L383.0 1412.5 L382.5 1412.5 L382.0 1412.5 L381.5 1412.5 L381.0 1412.5 L380.5 1412.5 L380.0 1412.5 L379.5 1412.5 L379.0 1412.5 L378.5 1412.5 L378.0 1412.5 L377.5 1412.5 L377.0 1412.5 L376.5 1412.5 L376.0 1412.5 L375.5 1412.5 L375.0 1412.5 L374.5 1412.5 L374.0 1412.5 L373.5 1412.5 L373.0 1412.5 L372.5 1412.5 L372.0 1412.5 L371.5 1412.5 L371.0 1412.5 L370.5 1412.5 L370.0 1412.5 L369.5 1412.5 L369.0 1412.5 L368.5 1412.5 L368.0 1412.5 L367.5 1412.5 L367.0 1412.5 L366.5 1412.5 L366.0 1412.5 L365.5 1412.5 L365.0 1412.5 L364.5 1412.5 L364.0 1412.5 L363.5 1412.5 L363.0 1412.5 L362.5 1412.5 L362.0 1412.5 L361.5 1412.5 L361.0 1412.5 L360.5 1412.5 L360.0 1412.5 L359.5 1412.5 L359.0 1412.5 L358.5 1412.5 L358.0 1412.5 L357.5 1412.5 L357.0 1412.5 L356.5 1412.5 L356.0 1412.5 L355.5 1412.5 L355.0 1412.5 L354.5 1412.5 L354.0 1412.5 L353.5 1412.5 L353.0 1412.5 L352.5 1412.5 L352.0 1412.5 L351.5 1412.5 L351.0 1412.5 L350.5 1412.5 L350.0 1412.5 L349.5 1412.5 L349.0 1412.5 L348.5 1412.5 L348.0 1412.5 L347.5 1412.5 L347.0 1412.5 L346.5 1412.5 L346.0 1412.5 L345.5 1412.5 L345.0 1412.5 L344.5 1412.5 L344.0 1412.5 L343.5 1412.5 L343.0 1412.5 L342.5 1412.5 L342.0 1412.5 L341.5 1412.5 L341.0 1412.5 L340.5 1412.5 L340.0 1412.5 L339.5 1412.5 L339.0 1412.5 L338.5 1412.5 L338.0 1412.5 L337.5 1412.5 L337.0 1412.5 L336.5 1412.5 L336.0 1412.5 L335.5 1412.5 L335.0 1412.5 L334.5 1412.5 L334.0 1412.5 L333.5 1412.5 L333.0 1412.5 L332.5 1412.5 L332.0 1412.5 L331.5 1412.5 L331.0 1412.5 L330.5 1412.5 L330.0 1412.5 L329.5 1412.5 L329.0 1412.5 L328.5 1412.5 L328.0 1412.5 L327.5 1412.5 L327.0 1412.5 L326.5 1412.5 L326.0 1412.5 L325.5 1412.5 L325.0 1412.5 L324.5 1412.5 L324.0 1412.5 L323.5 1412.5 L323.0 1412.5 L322.5 1412.5 L322.0 1412.5 L321.5 1412.5 L321.0 1412.5 L320.5 1412.5 L320.0 1412.5 L319.5 1412.5 L319.0 1412.5 L318.5 1412.5 L318.0 1412.5 L317.5 1412.5 L317.0 1412.5 L316.5 1412.5 L316.0 1412.5 L315.5 1412.5 L315.0 1412.5 L314.5 1412.5 L314.0 1412.5 L313.5 1412.5 L313.0 1412.5 L312.5 1412.5 L312.0 1412.5 L311.5 1412.5 L311.0 1412.5 L310.5 1412.5 L310.0 1412.5 L309.5 1412.5 L309.0 1412.5 L308.5 1412.5 L308.0 1412.5 L307.5 1412.5 L307.0 1412.5 L306.5 1412.5 L306.0 1412.5 L305.5 1412.5 L305.0 1412.5 L304.5 1412.5 L304.0 1412.5 L303.5 1412.5 L303.0 1412.5 L302.5 1412.5 L302.0 1412.5 L301.5 1412.5 L301.0 1412.5 L300.5 1412.5 L300.0 1412.5 L299.5 1412.5 L299.0 1412.5 L298.5 1412.5 L298.0 1412.5 L297.5 1412.5 L297.0 1412.5 L296.5 1412.5 L296.0 1412.5 L295.5 1412.5 L295.0 1412.5 L294.5 1412.5 L294.0 1412.5 L293.5 1412.5 L293.0 1412.5 L292.5 1412.5 L292.0 1412.5 L291.5 1412.5 L291.0 1412.5 L290.5 1412.5 L290.0 1412.5 L289.5 1412.5 L289.0 1412.5 L288.5 1412.5 L288.0 1412.5 L287.5 1412.5 L287.0 1412.5 L286.5 1412.5 L286.0 1412.5 L285.5 1412.5 L285.0 1412.5 L284.5 1412.5 L284.0 1412.5 L283.5 1412.5 L283.0 1412.5 L282.5 1412.5 L282.0 1412.5 L281.5 1412.5 L281.0 1412.5 L280.5 1412.5 L280.0 1412.5 L279.5 1412.5 L279.0 1412.5 L278.5 1412.5 L278.0 1412.5 L277.5 1412.5 L277.0 1412.5 L276.5 1412.5 L276.0 1412.5 L275.5 1412.5 L275.0 1412.5 L274.5 1412.5 L274.0 1412.5 L273.5 1412.5 L273.0 1412.5 L272.5 1412.5 L272.0 1412.5 L271.5 1412.5 L271.0 1412.5 L270.5 1412.5 L270.0 1412.5 L269.5 1412.5 L269.0 1412.5 L268.5 1412.5 L268.0 1412.5 L267.5 1412.5 L267.0 1412.5 L266.5 1412.5 L266.0 1412.5 L265.5 1412.5 L265.0 1412.5 L264.5 1412.5 L264.0 1412.5 L263.5 1412.5 L263.0 1412.5 L262.5 1412.5 L262.0 1412.5 L261.5 1412.5 L261.0 1412.5 L260.5 1412.5 L260.0 1412.5 L259.5 1412.5 L259.0 1412.5 L258.5 1412.5 L258.0 1412.5 L257.5 1412.5 L257.0 1412.5 L256.5 1412.5 L256.0 1412.5 L255.5 1412.5 L255.0 1412.5 L254.5 1412.5 L254.0 1412.5 L253.5 1412.5 L253.0 1412.5 L252.5 1412.5 L252.0 1412.5 L251.5 1412.5 L251.0 1412.5 L250.5 1412.5 L250.0 1412.5 L249.5 1412.5 L249.0 1412.5 L248.5 1412.5 L248.0 1412.5 L247.5 1412.5 L247.0 1412.5 L246.5 1412.5 L246.0 1412.5 L245.5 1412.5 L245.0 1412.5 L244.5 1412.5 L244.0 1412.5 L243.5 1412.5 L243.0 1412.5 L242.5 1412.5 L242.0 1412.5 L241.5 1412.5 L241.0 1412.5 L240.5 1412.5 L240.0 1412.5 L239.5 1412.5 L239.0 1412.5 L238.5 1412.5 L238.0 1412.5 L237.5 1412.5 L237.0 1412.5 L236.5 1412.5 L236.0 1412.5 L235.5 1412.5 L235.0 1412.5 L234.5 1412.5 L234.0 1412.5 L233.5 1412.5 L233.0 1412.5 L232.5 1412.5 L232.0 1412.5 L231.5 1412.5 L231.0 1412.5 L230.5 1412.5 L230.0 1412.5 L229.5 1412.5 L229.0 1412.5 L228.5 1412.5 L228.0 1412.5 L227.5 1412.5 L227.0 1412.5 L226.5 1412.5 L226.0 1412.5 L225.5 1412.5 L225.0 1412.5 L224.5 1412.5 L224.0 1412.5 L223.5 1412.5 L223.0 1412.5 L222.5 1412.5 L222.0 1412.5 L221.5 1412.5 L221.0 1412.5 L220.5 1412.5 L220.0 1412.5 L219.5 1412.5 L219.0 1412.5 L218.5 1412.5 L218.0 1412.5 L217.5 1412.5 L217.0 1412.5 L216.5 1412.5 L216.0 1412.5 L215.5 1412.5 L215.0 1412.5 L214.5 1412.5 L214.0 1412.5 L213.5 1412.5 L213.0 1412.5 L212.5 1412.5 L212.0 1412.5 L211.5 1412.5 L211.0 1412.5 L210.5 1412.5 L210.0 1412.5 L209.5 1412.5 L209.0 1412.5 L208.5 1412.5 L208.0 1412.5 L207.5 1412.5 L207.0 1412.5 L206.5 1412.5 L206.0 1412.5 L205.5 1412.5 L205.0 1412.5 L204.5 1412.5 L204.0 1412.5 L203.5 1412.5 L203.0 1412.5 L202.5 1412.5 L202.0 1412.5 L201.5 1412.5 L201.0 1412.5 L200.5 1412.5 L200.0 1412.5 L199.5 1412.5 L199.0 1412.5 L198.5 1412.5 L198.0 1412.5 L197.5 1412.5 L197.0 1412.5 L196.5 1412.5 L196.0 1412.5 L195.5 1412.5 L195.0 1412.5 L194.5 1412.5 L194.0 1412.5 L193.5 1412.5 L193.0 1412.5 L192.5 1412.5 L192.0 1412.5 L191.5 1412.5 Z"/>
<path class="ln" stroke="#00BCF2" d="M495.5 1409.2 L497.0 1409.2 L497.0 1408.4 L498.0 1386.5 L499.0 1364.5 L500.0 1342.4 L501.0 1310.0 L502.0 1277.5 L503.0 1244.8 L504.0 1225.1 L505.0 1205.2 L506.0 1185.2 L507.0 1167.2 L508.0 1149.1 L508.5 1140.0 L509.0 1133.9 L510.0 1121.8 L511.0 1109.6 L512.0 1097.1 L512.6 1090.3 L513.0 1093.5 L514.0 1104.9 L515.0 1114.9 L516.0 1126.1 L517.0 1142.6 L518.0 1160.0 L519.0 1176.5 L520.0 1175.4 L521.0 1173.2 L522.0 1171.8 L523.0 1169.8 L524.0 1148.3 L525.0 1125.6 L526.0 1104.2 L527.0 1081.6 L528.0 1060.7 L529.0 1057.3 L530.0 1055.6 L531.0 1052.6 L532.0 1050.5 L533.0 1047.6 L534.0 1068.8 L535.0 1089.0 L536.0 1109.9 L537.0 1130.0 L538.0 1131.9 L539.0 1132.8 L540.0 1134.9 L541.0 1135.7 L542.0 1135.2 L543.0 1133.7 L544.0 1133.3 L545.0 1131.7 L546.0 1117.7 L547.0 1102.7 L548.0 1089.4 L549.0 1086.6 L550.0 1085.7 L551.0 1083.2 L552.0 1081.9 L553.0 1079.7 L554.0 1044.4 L555.0 1008.2 L556.0 1003.4 L557.0 996.8 L558.0 992.1 L559.0 985.5 L560.0 981.3 L561.0 999.4 L562.0 1018.7 L563.0 1021.5 L564.0 1026.1 L565.0 1028.7 L566.0 1033.2 L567.0 1020.9 L568.0 1009.7 L569.0 996.8 L570.0 987.5 L571.0 977.0 L572.0 967.4 L573.0 956.2 L573.6 951.5 L574.0 952.8 L575.0 958.7 L576.0 963.6 L577.0 969.4 L578.0 988.6 L579.0 1009.4 L580.0 1013.3 L581.0 1018.7 L582.0 1022.7 L583.0 1028.0 L584.0 1031.9 L585.0 1028.2 L586.0 1023.3 L587.0 1019.6 L588.0 1014.7 L589.0 1024.0 L590.0 1032.0 L591.0 1041.9 L592.0 1050.0 L593.0 1041.5 L594.0 1031.5 L595.0 1022.7 L596.0 1022.2 L597.0 1023.5 L598.0 1023.2 L599.0 1024.3 L600.0 1023.7 L601.0 1037.6 L602.0 1050.3 L603.0 1064.4 L604.0 1058.1 L605.0 1053.2 L606.0 1047.6 L607.0 1042.9 L608.0 1044.0 L609.0 1046.4 L610.0 1047.4 L611.0 1049.8 L612.0 1050.6 L613.0 1049.8 L614.0 1047.3 L615.0 1046.4 L616.0 1043.9 L617.0 1042.6 L618.0 1040.1 L619.0 1036.4 L620.0 1030.9 L621.0 1026.6 L622.0 1021.2 L623.0 1008.8 L624.0 994.5 L625.0 982.0 L626.0 968.2 L627.0 956.8 L628.0 943.4 L629.0 924.7 L629.5 914.6 L630.0 906.9 L631.0 888.4 L632.0 872.1 L633.0 870.9 L634.0 871.8 L635.0 870.3 L636.0 871.2 L637.0 864.4 L638.0 859.3 L639.0 852.4 L640.0 846.9 L641.0 840.7 L642.0 836.8 L643.0 830.1 L644.0 831.8 L645.0 831.1 L646.0 833.0 L647.0 833.1 L648.0 839.0 L649.0 843.5 L650.0 849.6 L651.0 852.7 L652.0 857.1 L653.0 859.6 L654.0 864.1 L655.0 864.8 L656.0 867.5 L657.0 867.3 L658.0 870.2 L659.0 873.2 L660.0 878.7 L661.0 882.1 L662.0 888.7 L663.0 894.4 L664.0 901.4 L665.0 907.0 L666.0 915.3 L667.0 921.3 L668.0 911.4 L669.0 899.8 L670.0 890.3 L671.0 896.3 L672.0 904.5 L673.0 910.5 L674.0 908.1 L675.0 903.7 L676.0 897.7 L677.0 888.9 L678.0 882.8 L679.0 874.0 L680.0 880.3 L681.0 883.9 L682.0 889.7 L683.0 894.0 L684.0 901.2 L685.0 905.8 L686.0 908.4 L687.0 908.5 L688.0 911.2 L689.0 911.6 L690.0 918.3 L691.0 923.1 L692.0 929.8 L693.0 931.4 L694.0 934.5 L695.0 935.5 L696.0 939.3 L697.0 940.4 L698.0 934.2 L699.0 926.1 L700.0 920.1 L701.0 919.4 L702.0 920.9 L703.0 920.3 L704.0 921.4 L705.0 920.9 L706.0 924.7 L707.0 928.2 L708.0 933.4 L709.0 937.0 L710.0 948.8 L711.0 958.6 L712.0 970.4 L713.0 970.5 L714.0 971.9 L715.0 972.5 L716.0 972.6 L717.0 971.1 L718.0 965.1 L719.0 957.7 L720.0 952.4 L721.0 950.6 L722.0 950.8 L723.0 949.3 L724.0 949.7 L725.0 943.6 L726.0 939.0 L727.0 932.7 L728.0 928.9 L729.0 922.2 L730.0 916.7 L731.0 909.2 L732.0 903.6 L733.0 896.4 L734.0 890.6 L735.0 882.8 L736.0 877.7 L737.0 869.8 L738.0 869.7 L739.0 866.8 L740.0 865.9 L741.0 871.6 L742.0 878.8 L743.0 884.6 L744.0 867.7 L745.0 848.9 L746.0 832.4 L747.0 827.1 L748.0 824.1 L749.0 818.1 L750.0 832.2 L750.5 837.8 L751.0 831.9 L752.0 818.0 L753.0 806.3 L754.0 792.5 L755.0 786.1 L756.0 777.2 L757.0 770.7 L758.0 761.8 L759.0 754.6 L760.0 752.8 L761.0 752.8 L762.0 750.8 L763.0 751.3 L764.0 749.7 L765.0 742.5 L766.0 733.7 L767.0 727.3 L768.0 718.2 L769.0 712.0 L770.0 705.5 L771.0 702.8 L772.0 696.1 L773.0 692.6 L774.0 692.1 L775.0 693.6 L776.0 693.4 L777.0 694.7 L778.0 733.1 L779.0 774.2 L780.0 733.6 L781.0 694.9 L782.0 688.2 L783.0 684.6 L784.0 677.8 L785.0 674.4 L786.0 670.2 L787.0 669.3 L788.0 664.6 L789.0 665.4 L790.0 663.4 L791.0 664.8 L792.0 662.9 L793.0 663.3 L794.0 661.2 L795.0 691.0 L795.5 703.2 L796.0 696.8 L797.0 679.4 L798.0 665.9 L799.0 662.5 L800.0 663.1 L801.0 660.2 L802.0 660.3 L803.0 665.0 L804.0 673.1 L805.0 677.3 L806.0 685.2 L807.0 665.8 L808.0 649.2 L809.0 643.5 L810.0 642.7 L811.0 640.0 L812.0 641.2 L813.0 640.0 L814.0 642.0 L815.0 640.2 L816.0 658.4 L817.0 674.0 L818.0 665.9 L819.0 655.4 L820.0 648.0 L821.0 647.3 L822.0 649.4 L823.0 709.5 L823.5 741.3 L824.0 742.4 L825.0 748.2 L826.0 751.9 L827.0 757.8 L828.0 732.7 L829.0 709.6 L830.0 684.7 L831.0 731.3 L832.0 774.6 L833.0 746.9 L834.0 715.7 L835.0 688.1 L836.0 707.9 L837.0 730.9 L838.0 751.7 L839.0 774.3 L840.0 794.8 L841.0 759.8 L842.0 721.9 L842.5 705.3 L843.0 702.5 L844.0 701.9 L845.0 698.5 L846.0 697.3 L847.0 693.5 L848.0 716.0 L849.0 735.0 L849.5 746.6 L850.0 747.5 L851.0 755.1 L852.0 759.6 L853.0 766.5 L854.0 747.5 L855.0 731.0 L856.0 745.7 L857.0 762.8 L858.0 745.7 L859.0 731.5 L860.0 735.8 L861.0 742.7 L862.0 746.6 L863.0 753.3 L864.0 757.4 L865.0 748.6 L866.0 737.8 L867.0 729.2 L868.0 717.7 L869.0 756.8 L870.0 792.4 L871.0 830.3 L871.5 848.0 L872.0 831.2 L873.0 794.8 L874.0 761.6 L875.0 725.1 L876.0 729.6 L877.0 732.0 L878.0 736.5 L879.0 738.1 L880.0 755.2 L881.0 769.8 L882.0 786.7 L883.0 808.9 L884.0 832.4 L885.0 854.1 L886.0 836.4 L887.0 816.7 L888.0 799.0 L889.0 797.7 L890.0 798.4 L891.0 797.0 L892.0 796.7 L893.0 794.5 L894.0 794.0 L895.0 791.8 L896.0 806.7 L897.0 819.4 L898.0 834.1 L899.0 825.6 L900.0 819.0 L901.0 810.9 L902.0 804.4 L903.0 815.5 L904.0 829.1 L905.0 840.1 L906.0 838.0 L907.0 833.1 L908.0 830.7 L909.0 826.1 L910.0 845.3 L911.0 861.3 L912.0 880.1 L913.0 871.8 L914.0 865.5 L915.0 856.8 L916.0 850.5 L917.0 841.3 L918.0 853.9 L919.0 864.7 L920.0 877.2 L921.0 867.5 L922.0 859.5 L923.0 849.8 L924.0 885.9 L925.0 919.6 L926.0 917.1 L927.0 913.1 L928.0 910.7 L929.0 906.5 L930.0 903.5 L931.0 899.2 L932.0 917.7 L933.0 933.3 L934.0 938.1 L935.0 941.1 L936.0 945.9 L937.0 948.6 L938.0 953.4 L939.0 936.1 L940.0 920.0 L941.0 903.0 L942.0 886.9 L943.0 881.9 L944.0 878.6 L945.0 873.2 L946.0 869.7 L947.0 864.8 L948.0 861.1 L949.0 860.6 L950.0 862.7 L951.0 861.5 L952.0 863.1 L953.0 863.2 L954.0 864.8 L955.0 875.6 L956.0 888.9 L956.5 893.9 L957.0 893.7 L958.0 890.7 L959.0 889.7 L960.0 895.3 L961.0 902.7 L962.0 908.5 L963.0 916.4 L964.0 908.3 L965.0 901.9 L966.0 893.7 L967.0 887.7 L968.0 882.7 L969.0 879.1 L970.0 874.2 L971.0 870.7 L972.0 870.0 L973.0 871.9 L974.0 870.9 L975.0 872.6 L976.0 871.6 L977.0 889.7 L978.0 905.8 L979.0 901.2 L980.0 894.2 L981.0 890.0 L982.0 883.3 L983.0 878.8 L984.0 877.9 L985.0 879.9 L986.0 879.0 L987.0 880.8 L988.0 880.2 L989.0 897.5 L990.0 911.8 L991.0 914.7 L992.0 915.1 L993.0 917.8 L994.0 918.4 L995.0 920.8 L996.0 914.2 L997.0 909.1 L998.0 902.4 L999.0 903.1 L1000.0 902.2 L1001.0 903.4 L1002.0 902.6 L1003.0 903.8 L1004.0 912.0 L1005.0 922.6 L1006.0 931.3 L1007.0 940.7 L1008.0 948.0 L1009.0 957.2 L1010.0 955.3 L1011.0 955.9 L1012.0 954.1 L1013.0 954.5 L1014.0 952.5 L1015.0 960.4 L1016.0 966.7 L1017.0 974.8 L1018.0 973.8 L1019.0 974.3 L1020.0 973.7 L1021.0 974.0 L1022.0 973.3 L1023.0 973.7 L1024.0 973.1 L1025.0 978.8 L1026.0 982.6 L1027.0 988.3 L1028.0 992.4 L1029.0 998.8 L1030.0 1002.9 L1031.0 1005.7 L1032.0 1006.3 L1033.0 1008.6 L1034.0 1009.6 L1035.0 1012.2 L1036.0 1014.8 L1037.0 1018.9 L1038.0 1021.4 L1039.0 1025.2 L1040.0 1028.3 L1041.0 1032.5 L1042.0 1035.3 L1043.0 1039.5 L1044.0 1047.9 L1045.0 1057.9 L1046.0 1056.8 L1047.0 1057.0 L1048.0 1055.9 L1049.0 1056.0 L1050.0 1054.8 L1051.0 1051.5 L1052.0 1046.7 L1053.0 1043.3 L1054.0 1038.4 L1055.0 1044.0 L1056.0 1048.8 L1057.0 1054.4 L1058.0 1059.3 L1059.0 1071.6 L1060.0 1082.5 L1061.0 1094.9 L1062.0 1093.4 L1063.0 1093.3 L1064.0 1092.1 L1065.0 1092.4 L1066.0 1085.8 L1067.0 1080.4 L1068.0 1073.6 L1069.0 1081.5 L1070.0 1087.9 L1070.5 1092.3 L1071.0 1091.4 L1072.0 1091.6 L1073.0 1090.0 L1074.0 1090.0 L1075.0 1088.5 L1076.0 1088.8 L1077.0 1091.5 L1078.0 1095.4 L1079.0 1098.4 L1080.0 1103.6 L1081.0 1107.7 L1082.0 1112.5 L1083.0 1116.6 L1084.0 1113.2 L1085.0 1108.9 L1086.0 1105.7 L1087.0 1101.2 L1088.0 1097.8 L1089.0 1094.9 L1090.0 1093.3 L1091.0 1090.3 L1092.0 1088.7 L1093.0 1079.8 L1094.0 1072.8 L1095.0 1072.2 L1096.0 1073.1 L1097.0 1073.0 L1098.0 1073.9 L1099.0 1073.3 L1100.0 1074.4 L1101.0 1073.7 L1102.0 1074.2 L1103.0 1073.5 L1104.0 1074.2 L1105.0 1071.3 L1106.0 1069.8 L1107.0 1066.7 L1108.0 1065.1 L1109.0 1056.8 L1110.0 1049.1 L1111.0 992.7 L1112.0 892.3 L1113.0 844.9 L1114.0 837.8 L1115.0 830.8 L1116.0 829.7 L1117.0 825.9 L1118.0 825.6 L1119.0 822.5 L1120.0 831.0 L1121.0 838.5 L1122.0 847.4 L1123.0 865.1 L1124.0 884.8 L1125.0 902.8 L1126.0 917.3 L1127.0 930.6 L1128.0 945.1 L1129.0 934.6 L1130.0 926.2 L1131.0 915.8 L1132.0 915.1 L1133.0 912.7 L1134.0 911.8 L1135.0 916.9 L1136.0 924.2 L1137.0 929.3 L1138.0 935.8 L1139.0 926.8 L1140.0 920.3 L1141.0 911.5 L1142.0 903.6 L1143.0 894.1 L1144.0 886.1 L1145.0 884.8 L1146.0 885.8 L1147.0 884.5 L1148.0 885.8 L1149.0 884.3 L1150.0 886.4 L1151.0 886.4 L1152.0 889.0 L1153.0 888.9 L1154.0 891.0 L1155.0 888.3 L1156.0 887.4 L1157.0 884.4 L1158.0 882.9 L1159.0 864.7 L1160.0 848.3 L1161.0 823.7 L1162.0 801.5 L1163.0 792.4 L1164.0 785.7 L1165.0 801.7 L1166.0 819.3 L1167.0 802.8 L1168.0 787.3 L1169.0 787.6 L1170.0 790.6 L1171.0 790.8 L1172.0 800.4 L1173.0 808.4 L1174.0 804.1 L1175.0 797.4 L1176.0 818.7 L1177.0 838.2 L1178.0 860.0 L1179.0 827.5 L1180.0 798.2 L1181.0 788.3 L1182.0 781.7 L1183.0 772.2 L1184.0 770.5 L1185.0 766.5 L1186.0 764.4 L1187.0 759.8 L1187.6 759.9 L1188.0 758.7 L1189.0 760.8 L1190.0 760.8 L1191.0 770.6 L1192.0 778.3 L1193.0 785.6 L1194.0 791.1 L1195.0 788.0 L1196.0 782.5 L1197.0 779.9 L1198.0 774.3 L1199.0 775.9 L1200.0 774.9 L1201.0 776.1 L1202.0 774.4 L1203.0 775.7 L1204.0 791.2 L1205.0 808.1 L1206.0 826.1 L1207.0 846.5 L1208.0 847.3 L1209.0 851.2 L1210.0 852.1 L1211.0 847.4 L1212.0 841.0 L1213.0 836.7 L1214.0 830.1 L1215.0 835.3 L1216.0 839.0 L1217.0 845.3 L1218.0 845.3 L1219.0 847.3 L1220.0 847.4 L1221.0 875.0 L1222.0 900.4 L1223.0 916.2 L1224.0 914.9 L1225.0 915.2 L1226.0 913.4 L1227.0 913.8 L1228.0 912.1 L1229.0 929.0 L1230.0 944.2 L1231.0 937.3 L1232.0 928.2 L1233.0 921.0 L1234.0 911.8 L1235.0 912.6 L1236.0 910.9 L1237.0 911.6 L1238.0 910.1 L1239.0 911.0 L1240.0 916.5 L1241.0 924.7 L1242.0 930.2 L1243.0 945.0 L1244.0 957.1 L1245.0 956.1 L1246.0 952.8 L1247.0 951.6 L1248.0 948.1 L1249.0 942.3 L1250.0 934.5 L1251.0 928.3 L1252.0 929.4 L1253.0 932.7 L1254.0 933.5 L1255.0 940.2 L1256.0 945.7 L1257.0 952.4 L1258.0 945.1 L1259.0 939.6 L1260.0 932.1 L1261.0 934.7 L1262.0 936.1 L1263.0 938.8 L1264.0 940.5 L1265.0 944.2 L1266.0 946.6 L1267.0 894.9 L1267.2 883.5 L1268.0 885.1 L1269.0 884.4 L1270.0 885.1 L1271.0 884.9 L1272.0 898.2 L1273.0 910.4 L1274.0 924.1 L1275.0 919.7 L1276.0 917.3 L1277.0 913.5 L1278.0 910.8 L1279.0 907.0 L1280.0 904.6 L1281.0 900.3 L1282.0 906.9 L1283.0 911.3 L1284.0 918.2 L1285.0 917.1 L1286.0 917.8 L1287.0 916.1 L1288.0 916.9 L1289.0 915.7 L1290.0 916.7 L1291.0 912.1 L1292.0 909.6 L1293.0 905.8 L1294.0 903.5 L1295.0 898.7 L1296.0 906.3 L1297.0 911.9 L1298.0 919.4 L1299.0 914.1 L1300.0 910.8 L1301.0 905.0 L1302.0 901.5 L1303.0 878.2 L1303.2 874.3 L1304.0 871.0 L1305.0 869.1 L1306.0 864.7 L1307.0 862.9 L1308.0 867.7 L1309.0 874.0 L1310.0 879.0 L1311.0 873.4 L1312.0 866.0 L1313.0 861.0 L1314.0 866.8 L1315.0 875.2 L1316.0 880.9 L1317.0 875.6 L1318.0 868.6 L1319.0 863.4 L1320.0 856.3 L1321.0 857.7 L1322.0 856.6 L1323.0 858.6 L1324.0 858.1 L1325.0 859.1 L1326.0 858.5 L1327.0 859.9 L1328.0 890.7 L1328.4 904.3 L1329.0 901.1 L1330.0 899.4 L1331.0 895.0 L1332.0 893.0 L1333.0 888.9 L1334.0 886.9 L1335.0 893.7 L1336.0 902.8 L1337.0 909.9 L1338.0 909.6 L1339.0 907.5 L1340.0 907.3 L1341.0 905.3 L1342.0 905.0 L1343.0 911.5 L1344.0 919.8 L1345.0 926.8 L1346.0 922.7 L1347.0 917.2 L1348.0 913.6 L1349.0 907.9 L1350.0 926.2 L1351.0 942.8 L1352.0 939.6 L1353.0 935.0 L1354.0 932.4 L1355.0 927.2 L1356.0 928.5 L1357.0 927.7 L1358.0 928.3 L1359.0 927.3 L1360.0 928.2 L1361.0 927.4 L1362.0 944.8 L1363.0 960.7 L1364.0 978.0 L1365.0 955.6 L1366.0 935.4 L1367.0 913.4 L1368.0 919.1 L1369.0 923.3 L1370.0 929.1 L1371.0 920.8 L1372.0 914.1 L1373.0 905.8 L1374.0 899.4 L1375.0 897.7 L1376.0 897.7 L1377.0 896.1 L1378.0 896.5 L1379.0 894.6 L1380.0 921.2 L1381.0 945.3 L1381.6 961.7 L1382.0 955.9 L1383.0 944.5 L1384.0 931.9 L1385.0 920.1 L1386.0 907.1 L1387.0 908.8 L1388.0 908.4 L1389.0 909.5 L1390.0 908.9 L1391.0 923.4 L1391.4 928.0 L1392.0 927.2 L1393.0 924.4 L1394.0 922.6 L1395.0 919.8 L1396.0 922.1 L1397.0 922.8 L1398.0 925.7 L1399.0 926.4 L1400.0 941.1 L1401.0 953.6 L1402.0 961.5 L1403.0 967.2 L1404.0 974.5 L1404.4 976.4"/>
<path fill="#FF0000" d="M191.5 1408.0 L192.0 1408.0 L192.5 1408.0 L193.0 1408.0 L193.5 1408.0 L194.0 1408.0 L194.5 1408.0 L195.0 1408.0 L195.5 1408.0 L196.0 1408.0 L196.5 1408.0 L197.0 1408.0 L197.5 1408.0 L198.0 1408.0 L198.5 1408.0 L199.0 1408.0 L199.5 1408.0 L200.0 1408.0 L200.5 1408.0 L201.0 1408.0 L201.5 1408.0 L202.0 1408.0 L202.5 1408.0 L203.0 1408.0 L203.5 1408.0 L204.0 1408.0 L204.5 1408.0 L205.0 1408.0 L205.5 1408.0 L206.0 1408.0 L206.5 1408.0 L207.0 1408.0 L207.5 1408.0 L208.0 1408.0 L208.5 1408.0 L209.0 1408.0 L209.5 1408.0 L210.0 1408.0 L210.5 1408.0 L211.0 1408.0 L211.5 1408.0 L212.0 1408.0 L212.5 1408.0 L213.0 1408.0 L213.5 1408.0 L214.0 1408.0 L214.5 1408.0 L215.0 1408.0 L215.5 1408.0 L216.0 1408.0 L216.5 1408.0 L217.0 1408.0 L217.5 1408.0 L218.0 1408.0 L218.5 1408.0 L219.0 1408.0 L219.5 1408.0 L220.0 1408.0 L220.5 1408.0 L221.0 1408.0 L221.5 1408.0 L222.0 1408.0 L222.5 1408.0 L223.0 1408.0 L223.5 1408.0 L224.0 1408.0 L224.5 1408.0 L225.0 1408.0 L225.5 1408.0 L226.0 1408.0 L226.5 1408.0 L227.0 1408.0 L227.5 1408.0 L228.0 1408.0 L228.5 1408.0 L229.0 1408.0 L229.5 1408.0 L230.0 1408.0 L230.5 1408.0 L231.0 1408.0 L231.5 1408.0 L232.0 1408.0 L232.5 1408.0 L233.0 1408.0 L233.5 1408.0 L234.0 1408.0 L234.5 1408.0 L235.0 1408.0 L235.5 1408.0 L236.0 1408.0 L236.5 1408.0 L237.0 1408.0 L237.5 1408.0 L238.0 1408.0 L238.5 1408.0 L239.0 1408.0 L239.5 1408.0 L240.0 1408.0 L240.5 1408.0 L241.0 1408.0 L241.5 1408.0 L242.0 1408.0 L242.5 1408.0 L243.0 1408.0 L243.5 1408.0 L244.0 1408.0 L244.5 1408.0 L245.0 1408.0 L245.5 1408.0 L246.0 1408.0 L246.5 1408.0 L247.0 1408.0 L247.5 1408.0 L248.0 1408.0 L248.5 1408.0 L249.0 1408.0 L249.5 1408.0 L250.0 1408.0 L250.5 1408.0 L251.0 1408.0 L251.5 1408.0 L252.0 1408.0 L252.5 1408.0 L253.0 1408.0 L253.5 1408.0 L254.0 1408.0 L254.5 1408.0 L255.0 1408.0 L255.5 1408.0 L256.0 1408.0 L256.5 1408.0 L257.0 1408.0 L257.5 1408.0 L258.0 1408.0 L258.5 1408.0 L259.0 1408.0 L259.5 1408.0 L260.0 1408.0 L260.5 1408.0 L261.0 1408.0 L261.5 1408.0 L262.0 1408.0 L262.5 1408.0 L263.0 1408.0 L263.5 1408.0 L264.0 1408.0 L264.5 1408.0 L265.0 1408.0 L265.5 1408.0 L266.0 1408.0 L266.5 1408.0 L267.0 1408.0 L267.5 1408.0 L268.0 1408.0 L268.5 1408.0 L269.0 1408.0 L269.5 1408.0 L270.0 1408.0 L270.5 1408.0 L271.0 1408.0 L271.5 1408.0 L272.0 1408.0 L272.5 1408.0 L273.0 1408.0 L273.5 1408.0 L274.0 1408.0 L274.5 1408.0 L275.0 1408.0 L275.5 1408.0 L276.0 1408.0 L276.5 1408.0 L277.0 1408.0 L277.5 1408.0 L278.0 1408.0 L278.5 1408.0 L279.0 1408.0 L279.5 1408.0 L280.0 1408.0 L280.5 1408.0 L281.0 1408.0 L281.5 1408.0 L282.0 1408.0 L282.5 1408.0 L283.0 1408.0 L283.5 1408.0 L284.0 1408.0 L284.5 1408.0 L285.0 1408.0 L285.5 1408.0 L286.0 1408.0 L286.5 1408.0 L287.0 1408.0 L287.5 1408.0 L288.0 1408.0 L288.5 1408.0 L289.0 1408.0 L289.5 1408.0 L290.0 1408.0 L290.5 1408.0 L291.0 1408.0 L291.5 1408.0 L292.0 1408.0 L292.5 1408.0 L293.0 1408.0 L293.5 1408.0 L294.0 1408.0 L294.5 1408.0 L295.0 1408.0 L295.5 1408.0 L296.0 1408.0 L296.5 1408.0 L297.0 1408.0 L297.5 1408.0 L298.0 1408.0 L298.5 1408.0 L299.0 1408.0 L299.5 1408.0 L300.0 1408.0 L300.5 1408.0 L301.0 1408.0 L301.5 1408.0 L302.0 1408.0 L302.5 1408.0 L303.0 1408.0 L303.5 1408.0 L304.0 1408.0 L304.5 1408.0 L305.0 1408.0 L305.5 1408.0 L306.0 1408.0 L306.5 1408.0 L307.0 1408.0 L307.5 1408.0 L308.0 1408.0 L308.5 1408.0 L309.0 1408.0 L309.5 1408.0 L310.0 1408.0 L310.5 1408.0 L311.0 1408.0 L311.5 1408.0 L312.0 1408.0 L312.5 1408.0 L313.0 1408.0 L313.5 1408.0 L314.0 1408.0 L314.5 1408.0 L315.0 1408.0 L315.5 1408.0 L316.0 1408.0 L316.5 1408.0 L317.0 1408.0 L317.5 1408.0 L318.0 1408.0 L318.5 1408.0 L319.0 1408.0 L319.5 1408.0 L320.0 1408.0 L320.5 1408.0 L321.0 1408.0 L321.5 1408.0 L322.0 1408.0 L322.5 1408.0 L323.0 1408.0 L323.5 1408.0 L324.0 1408.0 L324.5 1408.0 L325.0 1408.0 L325.5 1408.0 L326.0 1408.0 L326.5 1408.0 L327.0 1408.0 L327.5 1408.0 L328.0 1408.0 L328.5 1408.0 L329.0 1408.0 L329.5 1408.0 L330.0 1408.0 L330.5 1408.0 L331.0 1408.0 L331.5 1408.0 L332.0 1408.0 L332.5 1408.0 L333.0 1408.0 L333.5 1408.0 L334.0 1408.0 L334.5 1408.0 L335.0 1408.0 L335.5 1408.0 L336.0 1408.0 L336.5 1408.0 L337.0 1408.0 L337.5 1408.0 L338.0 1408.0 L338.5 1408.0 L339.0 1408.0 L339.5 1408.0 L340.0 1408.0 L340.5 1408.0 L341.0 1408.0 L341.5 1408.0 L342.0 1408.0 L342.5 1408.0 L343.0 1408.0 L343.5 1408.0 L344.0 1408.0 L344.5 1408.0 L345.0 1408.0 L345.5 1408.0 L346.0 1408.0 L346.5 1408.0 L347.0 1408.0 L347.5 1408.0 L348.0 1408.0 L348.5 1408.0 L349.0 1408.0 L349.5 1408.0 L350.0 1408.0 L350.5 1408.0 L351.0 1408.0 L351.5 1408.0 L352.0 1408.0 L352.5 1408.0 L353.0 1408.0 L353.5 1408.0 L354.0 1408.0 L354.5 1408.0 L355.0 1408.0 L355.5 1408.0 L356.0 1408.0 L356.5 1408.0 L357.0 1408.0 L357.5 1408.0 L358.0 1408.0 L358.5 1408.0 L359.0 1408.0 L359.5 1408.0 L360.0 1408.0 L360.5 1408.0 L361.0 1408.0 L361.5 1408.0 L362.0 1408.0 L362.5 1408.0 L363.0 1408.0 L363.5 1408.0 L364.0 1408.0 L364.5 1408.0 L365.0 1408.0 L365.5 1408.0 L366.0 1408.0 L366.5 1408.0 L367.0 1408.0 L367.5 1408.0 L368.0 1408.0 L368.5 1408.0 L369.0 1408.0 L369.5 1408.0 L370.0 1408.0 L370.5 1408.0 L371.0 1408.0 L371.5 1408.0 L372.0 1408.0 L372.5 1408.0 L373.0 1408.0 L373.5 1408.0 L374.0 1408.0 L374.5 1408.0 L375.0 1408.0 L375.5 1408.0 L376.0 1408.0 L376.5 1408.0 L377.0 1408.0 L377.5 1408.0 L378.0 1408.0 L378.5 1408.0 L379.0 1408.0 L379.5 1408.0 L380.0 1408.0 L380.5 1408.0 L381.0 1408.0 L381.5 1408.0 L382.0 1408.0 L382.5 1408.0 L383.0 1408.0 L383.5 1408.0 L384.0 1408.0 L384.5 1408.0 L385.0 1408.0 L385.5 1408.0 L386.0 1408.0 L386.5 1408.0 L387.0 1408.0 L387.5 1408.0 L388.0 1408.0 L388.5 1408.0 L389.0 1408.0 L389.5 1408.0 L390.0 1408.0 L390.5 1408.0 L391.0 1408.0 L391.5 1408.0 L392.0 1408.0 L392.5 1408.0 L393.0 1408.0 L393.5 1408.0 L394.0 1408.0 L394.5 1408.0 L395.0 1408.0 L395.5 1408.0 L396.0 1408.0 L396.5 1408.0 L397.0 1408.0 L397.5 1408.0 L398.0 1408.0 L398.5 1408.0 L399.0 1408.0 L399.5 1408.0 L400.0 1408.0 L400.5 1408.0 L401.0 1408.0 L401.5 1408.0 L402.0 1408.0 L402.5 1408.0 L403.0 1408.0 L403.5 1408.0 L404.0 1408.0 L404.5 1408.0 L405.0 1408.0 L405.5 1408.0 L406.0 1408.0 L406.5 1408.0 L407.0 1408.0 L407.5 1408.0 L408.0 1408.0 L408.5 1408.0 L409.0 1408.0 L409.5 1408.0 L410.0 1408.0 L410.5 1408.0 L411.0 1408.0 L411.5 1408.0 L412.0 1408.0 L412.5 1408.0 L413.0 1408.0 L413.5 1408.0 L414.0 1408.0 L414.5 1408.0 L415.0 1408.0 L415.5 1408.0 L416.0 1408.0 L416.5 1408.0 L417.0 1408.0 L417.5 1408.0 L418.0 1408.0 L418.5 1408.0 L419.0 1408.0 L419.5 1408.0 L420.0 1408.0 L420.5 1408.0 L421.0 1408.0 L421.5 1408.0 L422.0 1408.0 L422.5 1408.0 L423.0 1408.0 L423.5 1408.0 L424.0 1408.0 L424.5 1408.0 L425.0 1408.0 L425.5 1408.0 L426.0 1408.0 L426.5 1408.0 L427.0 1408.0 L427.5 1408.0 L428.0 1408.0 L428.5 1408.0 L429.0 1408.0 L429.5 1408.0 L430.0 1408.0 L430.5 1408.0 L431.0 1408.0 L431.5 1408.0 L432.0 1408.0 L432.5 1408.0 L433.0 1408.0 L433.5 1408.0 L434.0 1408.0 L434.5 1408.0 L435.0 1408.0 L435.5 1408.0 L436.0 1408.0 L436.5 1408.0 L437.0 1408.0 L437.5 1408.0 L438.0 1408.0 L438.5 1408.0 L439.0 1408.0 L439.5 1408.0 L440.0 1408.0 L440.5 1408.0 L441.0 1408.0 L441.5 1408.0 L442.0 1408.0 L442.5 1408.0 L443.0 1408.0 L443.5 1408.0 L444.0 1408.0 L444.5 1408.0 L445.0 1408.0 L445.5 1408.0 L446.0 1408.0 L446.5 1408.0 L447.0 1408.0 L447.5 1408.0 L448.0 1408.0 L448.5 1408.0 L449.0 1408.0 L449.5 1408.0 L450.0 1408.0 L450.5 1408.0 L451.0 1408.0 L451.5 1408.0 L452.0 1408.0 L452.5 1408.0 L453.0 1408.0 L453.5 1408.0 L454.0 1408.0 L454.5 1408.0 L455.0 1408.0 L455.5 1408.0 L456.0 1408.0 L456.5 1408.0 L457.0 1408.0 L457.5 1408.0 L458.0 1408.0 L458.5 1408.0 L459.0 1408.0 L459.5 1408.0 L460.0 1408.0 L460.5 1408.0 L461.0 1408.0 L461.5 1408.0 L462.0 1408.0 L462.5 1408.0 L463.0 1408.0 L463.5 1408.0 L464.0 1408.0 L464.5 1408.0 L465.0 1408.0 L465.5 1408.0 L466.0 1408.0 L466.5 1408.0 L467.0 1408.0 L467.5 1408.0 L468.0 1408.0 L468.5 1408.0 L469.0 1408.0 L469.5 1408.0 L470.0 1408.0 L470.5 1408.0 L471.0 1408.0 L471.5 1408.0 L472.0 1408.0 L472.5 1408.0 L473.0 1408.0 L473.5 1408.0 L474.0 1408.0 L474.5 1408.0 L475.0 1408.0 L475.5 1408.0 L476.0 1408.0 L476.5 1408.0 L477.0 1408.0 L477.5 1408.0 L478.0 1408.0 L478.5 1408.0 L479.0 1408.0 L479.5 1408.0 L480.0 1408.0 L480.5 1408.0 L481.0 1408.0 L481.5 1408.0 L482.0 1408.0 L482.5 1408.0 L483.0 1408.0 L483.5 1408.0 L484.0 1408.0 L484.5 1408.0 L485.0 1408.0 L485.5 1408.0 L486.0 1408.0 L486.5 1408.0 L487.0 1408.0 L487.5 1408.0 L488.0 1408.0 L488.5 1408.0 L489.0 1408.0 L489.5 1408.0 L490.0 1408.0 L490.5 1408.0 L491.0 1408.0 L491.5 1408.0 L492.0 1408.0 L492.5 1408.0 L493.0 1408.0 L493.5 1408.0 L494.0 1408.0 L494.5 1408.0 L495.0 1408.0 L495.5 1408.0 L496.0 1408.0 L496.5 1408.0 L497.0 1408.0 L497.0 1414.2 L496.5 1414.3 L496.0 1414.4 L495.5 1414.4 L495.0 1414.4 L494.5 1414.4 L494.0 1414.3 L493.5 1414.1 L493.0 1414.0 L492.5 1413.9 L492.0 1413.8 L491.5 1413.9 L491.0 1414.0 L490.5 1414.1 L490.0 1414.3 L489.5 1414.5 L489.0 1414.7 L488.5 1414.8 L488.0 1414.8 L487.5 1414.8 L487.0 1414.7 L486.5 1414.5 L486.0 1414.4 L485.5 1414.2 L485.0 1414.2 L484.5 1414.1 L484.0 1414.2 L483.5 1414.3 L483.0 1414.4 L482.5 1414.5 L482.0 1414.6 L481.5 1414.6 L481.0 1414.6 L480.5 1414.5 L480.0 1414.3 L479.5 1414.2 L479.0 1414.0 L478.5 1413.8 L478.0 1413.8 L477.5 1413.7 L477.0 1413.8 L476.5 1413.9 L476.0 1414.1 L475.5 1414.3 L475.0 1414.4 L474.5 1414.5 L474.0 1414.6 L473.5 1414.5 L473.0 1414.5 L472.5 1414.3 L472.0 1414.2 L471.5 1414.1 L471.0 1414.1 L470.5 1414.1 L470.0 1414.2 L469.5 1414.4 L469.0 1414.5 L468.5 1414.7 L468.0 1414.8 L467.5 1414.8 L467.0 1414.8 L466.5 1414.7 L466.0 1414.5 L465.5 1414.4 L465.0 1414.2 L464.5 1414.0 L464.0 1413.9 L463.5 1413.9 L463.0 1413.9 L462.5 1414.0 L462.0 1414.1 L461.5 1414.3 L461.0 1414.4 L460.5 1414.4 L460.0 1414.4 L459.5 1414.4 L459.0 1414.3 L458.5 1414.1 L458.0 1414.0 L457.5 1413.9 L457.0 1413.9 L456.5 1413.9 L456.0 1414.1 L455.5 1414.2 L455.0 1414.4 L454.5 1414.6 L454.0 1414.7 L453.5 1414.8 L453.0 1414.8 L452.5 1414.8 L452.0 1414.6 L451.5 1414.5 L451.0 1414.3 L450.5 1414.2 L450.0 1414.1 L449.5 1414.1 L449.0 1414.1 L448.5 1414.2 L448.0 1414.3 L447.5 1414.5 L447.0 1414.5 L446.5 1414.6 L446.0 1414.5 L445.5 1414.4 L445.0 1414.3 L444.5 1414.1 L444.0 1413.9 L443.5 1413.8 L443.0 1413.7 L442.5 1413.8 L442.0 1413.9 L441.5 1414.0 L441.0 1414.2 L440.5 1414.4 L440.0 1414.5 L439.5 1414.6 L439.0 1414.6 L438.5 1414.6 L438.0 1414.5 L437.5 1414.4 L437.0 1414.3 L436.5 1414.2 L436.0 1414.1 L435.5 1414.2 L435.0 1414.3 L434.5 1414.4 L434.0 1414.5 L433.5 1414.7 L433.0 1414.8 L432.5 1414.8 L432.0 1414.7 L431.5 1414.6 L431.0 1414.4 L430.5 1414.2 L430.0 1414.1 L429.5 1413.9 L429.0 1413.8 L428.5 1413.8 L428.0 1413.9 L427.5 1414.0 L427.0 1414.1 L426.5 1414.3 L426.0 1414.4 L425.5 1414.5 L425.0 1414.4 L424.5 1414.4 L424.0 1414.3 L423.5 1414.2 L423.0 1414.1 L422.5 1414.0 L422.0 1414.0 L421.5 1414.0 L421.0 1414.1 L420.5 1414.3 L420.0 1414.5 L419.5 1414.7 L419.0 1414.8 L418.5 1414.9 L418.0 1414.8 L417.5 1414.7 L417.0 1414.6 L416.5 1414.4 L416.0 1414.3 L415.5 1414.1 L415.0 1414.0 L414.5 1414.0 L414.0 1414.1 L413.5 1414.2 L413.0 1414.3 L412.5 1414.4 L412.0 1414.5 L411.5 1414.5 L411.0 1414.4 L410.5 1414.3 L410.0 1414.2 L409.5 1414.0 L409.0 1413.9 L408.5 1413.8 L408.0 1413.8 L407.5 1413.8 L407.0 1413.9 L406.5 1414.1 L406.0 1414.3 L405.5 1414.5 L405.0 1414.6 L404.5 1414.7 L404.0 1414.7 L403.5 1414.7 L403.0 1414.5 L402.5 1414.4 L402.0 1414.3 L401.5 1414.2 L401.0 1414.2 L400.5 1414.2 L400.0 1414.3 L399.5 1414.4 L399.0 1414.5 L398.5 1414.6 L398.0 1414.7 L397.5 1414.7 L397.0 1414.6 L396.5 1414.5 L396.0 1414.3 L395.5 1414.1 L395.0 1414.0 L394.5 1413.8 L394.0 1413.8 L393.5 1413.8 L393.0 1413.9 L392.5 1414.0 L392.0 1414.2 L391.5 1414.3 L391.0 1414.4 L390.5 1414.5 L390.0 1414.5 L389.5 1414.4 L389.0 1414.3 L388.5 1414.2 L388.0 1414.1 L387.5 1414.0 L387.0 1414.0 L386.5 1414.1 L386.0 1414.2 L385.5 1414.4 L385.0 1414.6 L384.5 1414.7 L384.0 1414.8 L383.5 1414.9 L383.0 1414.8 L382.5 1414.7 L382.0 1414.5 L381.5 1414.3 L381.0 1414.2 L380.5 1414.0 L380.0 1414.0 L379.5 1414.0 L379.0 1414.0 L378.5 1414.1 L378.0 1414.3 L377.5 1414.4 L377.0 1414.4 L376.5 1414.5 L376.0 1414.4 L375.5 1414.3 L375.0 1414.2 L374.5 1414.0 L374.0 1413.9 L373.5 1413.8 L373.0 1413.8 L372.5 1413.9 L372.0 1414.0 L371.5 1414.2 L371.0 1414.4 L370.5 1414.6 L370.0 1414.7 L369.5 1414.8 L369.0 1414.8 L368.5 1414.7 L368.0 1414.6 L367.5 1414.4 L367.0 1414.3 L366.5 1414.2 L366.0 1414.1 L365.5 1414.2 L365.0 1414.2 L364.5 1414.4 L364.0 1414.5 L363.5 1414.6 L363.0 1414.6 L362.5 1414.6 L362.0 1414.5 L361.5 1414.4 L361.0 1414.2 L360.5 1414.0 L360.0 1413.9 L359.5 1413.8 L359.0 1413.7 L358.5 1413.8 L358.0 1413.9 L357.5 1414.0 L357.0 1414.2 L356.5 1414.4 L356.0 1414.5 L355.5 1414.6 L355.0 1414.6 L354.5 1414.5 L354.0 1414.4 L353.5 1414.3 L353.0 1414.2 L352.5 1414.1 L352.0 1414.1 L351.5 1414.2 L351.0 1414.3 L350.5 1414.5 L350.0 1414.6 L349.5 1414.7 L349.0 1414.8 L348.5 1414.8 L348.0 1414.8 L347.5 1414.6 L347.0 1414.4 L346.5 1414.2 L346.0 1414.1 L345.5 1413.9 L345.0 1413.9 L344.5 1413.9 L344.0 1414.0 L343.5 1414.1 L343.0 1414.2 L342.5 1414.3 L342.0 1414.4 L341.5 1414.4 L341.0 1414.4 L340.5 1414.3 L340.0 1414.2 L339.5 1414.0 L339.0 1413.9 L338.5 1413.9 L338.0 1413.9 L337.5 1414.0 L337.0 1414.1 L336.5 1414.3 L336.0 1414.5 L335.5 1414.7 L335.0 1414.8 L334.5 1414.8 L334.0 1414.8 L333.5 1414.7 L333.0 1414.5 L332.5 1414.4 L332.0 1414.2 L331.5 1414.1 L331.0 1414.1 L330.5 1414.1 L330.0 1414.2 L329.5 1414.3 L329.0 1414.4 L328.5 1414.5 L328.0 1414.6 L327.5 1414.5 L327.0 1414.5 L326.5 1414.3 L326.0 1414.2 L325.5 1414.0 L325.0 1413.8 L324.5 1413.8 L324.0 1413.7 L323.5 1413.8 L323.0 1413.9 L322.5 1414.1 L322.0 1414.3 L321.5 1414.5 L321.0 1414.6 L320.5 1414.6 L320.0 1414.6 L319.5 1414.5 L319.0 1414.4 L318.5 1414.3 L318.0 1414.2 L317.5 1414.1 L317.0 1414.2 L316.5 1414.2 L316.0 1414.3 L315.5 1414.5 L315.0 1414.6 L314.5 1414.7 L314.0 1414.8 L313.5 1414.8 L313.0 1414.7 L312.5 1414.5 L312.0 1414.3 L311.5 1414.1 L311.0 1414.0 L310.5 1413.9 L310.0 1413.8 L309.5 1413.9 L309.0 1414.0 L308.5 1414.1 L308.0 1414.2 L307.5 1414.4 L307.0 1414.4 L306.5 1414.5 L306.0 1414.4 L305.5 1414.3 L305.0 1414.2 L304.5 1414.1 L304.0 1414.0 L303.5 1414.0 L303.0 1414.0 L302.5 1414.1 L302.0 1414.2 L301.5 1414.4 L301.0 1414.6 L300.5 1414.7 L300.0 1414.8 L299.5 1414.9 L299.0 1414.8 L298.5 1414.7 L298.0 1414.5 L297.5 1414.3 L297.0 1414.2 L296.5 1414.1 L296.0 1414.0 L295.5 1414.1 L295.0 1414.2 L294.5 1414.3 L294.0 1414.4 L293.5 1414.5 L293.0 1414.5 L292.5 1414.5 L292.0 1414.4 L291.5 1414.3 L291.0 1414.1 L290.5 1413.9 L290.0 1413.8 L289.5 1413.8 L289.0 1413.8 L288.5 1413.9 L288.0 1414.0 L287.5 1414.2 L287.0 1414.4 L286.5 1414.6 L286.0 1414.7 L285.5 1414.7 L285.0 1414.7 L284.5 1414.6 L284.0 1414.5 L283.5 1414.3 L283.0 1414.2 L282.5 1414.2 L282.0 1414.2 L281.5 1414.2 L281.0 1414.3 L280.5 1414.5 L280.0 1414.6 L279.5 1414.7 L279.0 1414.7 L278.5 1414.7 L278.0 1414.6 L277.5 1414.4 L277.0 1414.2 L276.5 1414.0 L276.0 1413.9 L275.5 1413.8 L275.0 1413.8 L274.5 1413.8 L274.0 1414.0 L273.5 1414.1 L273.0 1414.3 L272.5 1414.4 L272.0 1414.5 L271.5 1414.5 L271.0 1414.4 L270.5 1414.4 L270.0 1414.2 L269.5 1414.1 L269.0 1414.0 L268.5 1414.0 L268.0 1414.1 L267.5 1414.2 L267.0 1414.3 L266.5 1414.5 L266.0 1414.7 L265.5 1414.8 L265.0 1414.9 L264.5 1414.8 L264.0 1414.8 L263.5 1414.6 L263.0 1414.4 L262.5 1414.2 L262.0 1414.1 L261.5 1414.0 L261.0 1414.0 L260.5 1414.0 L260.0 1414.1 L259.5 1414.2 L259.0 1414.3 L258.5 1414.4 L258.0 1414.5 L257.5 1414.4 L257.0 1414.3 L256.5 1414.2 L256.0 1414.1 L255.5 1413.9 L255.0 1413.8 L254.5 1413.8 L254.0 1413.8 L253.5 1414.0 L253.0 1414.1 L252.5 1414.3 L252.0 1414.5 L251.5 1414.7 L251.0 1414.8 L250.5 1414.8 L250.0 1414.7 L249.5 1414.6 L249.0 1414.5 L248.5 1414.3 L248.0 1414.2 L247.5 1414.2 L247.0 1414.2 L246.5 1414.2 L246.0 1414.3 L245.5 1414.5 L245.0 1414.6 L244.5 1414.6 L244.0 1414.7 L243.5 1414.6 L243.0 1414.5 L242.5 1414.3 L242.0 1414.1 L241.5 1414.0 L241.0 1413.8 L240.5 1413.8 L240.0 1413.8 L239.5 1413.8 L239.0 1414.0 L238.5 1414.2 L238.0 1414.3 L237.5 1414.5 L237.0 1414.5 L236.5 1414.5 L236.0 1414.5 L235.5 1414.4 L235.0 1414.3 L234.5 1414.2 L234.0 1414.1 L233.5 1414.1 L233.0 1414.1 L232.5 1414.2 L232.0 1414.4 L231.5 1414.6 L231.0 1414.7 L230.5 1414.8 L230.0 1414.8 L229.5 1414.8 L229.0 1414.7 L228.5 1414.5 L228.0 1414.3 L227.5 1414.1 L227.0 1414.0 L226.5 1413.9 L226.0 1413.9 L225.5 1414.0 L225.0 1414.1 L224.5 1414.2 L224.0 1414.3 L223.5 1414.4 L223.0 1414.4 L222.5 1414.4 L222.0 1414.3 L221.5 1414.2 L221.0 1414.1 L220.5 1414.0 L220.0 1413.9 L219.5 1413.9 L219.0 1413.9 L218.5 1414.1 L218.0 1414.2 L217.5 1414.4 L217.0 1414.6 L216.5 1414.7 L216.0 1414.8 L215.5 1414.8 L215.0 1414.7 L214.5 1414.6 L214.0 1414.4 L213.5 1414.3 L213.0 1414.2 L212.5 1414.1 L212.0 1414.1 L211.5 1414.2 L211.0 1414.3 L210.5 1414.4 L210.0 1414.5 L209.5 1414.6 L209.0 1414.6 L208.5 1414.5 L208.0 1414.4 L207.5 1414.2 L207.0 1414.0 L206.5 1413.9 L206.0 1413.8 L205.5 1413.7 L205.0 1413.8 L204.5 1413.9 L204.0 1414.0 L203.5 1414.2 L203.0 1414.4 L202.5 1414.5 L202.0 1414.6 L201.5 1414.6 L201.0 1414.6 L200.5 1414.5 L200.0 1414.3 L199.5 1414.2 L199.0 1414.2 L198.5 1414.1 L198.0 1414.2 L197.5 1414.3 L197.0 1414.4 L196.5 1414.6 L196.0 1414.7 L195.5 1414.8 L195.0 1414.8 L194.5 1414.7 L194.0 1414.6 L193.5 1414.4 L193.0 1414.2 L192.5 1414.0 L192.0 1413.9 L191.5 1413.8 Z"/>
<path class="ln" stroke="#FF0000" d="M495.5 1411.2 L497.0 1411.2 L497.0 1411.0 L498.0 1397.3 L499.0 1383.7 L500.0 1370.0 L501.0 1350.0 L502.0 1330.0 L503.0 1310.0 L504.0 1298.0 L505.0 1286.0 L506.0 1274.0 L507.0 1263.2 L508.0 1252.4 L508.5 1247.0 L509.0 1243.5 L510.0 1236.4 L511.0 1229.3 L512.0 1222.1 L512.6 1218.2 L513.0 1220.3 L514.0 1227.2 L515.0 1233.4 L516.0 1240.2 L517.0 1250.2 L518.0 1260.8 L519.0 1270.8 L520.0 1270.2 L521.0 1268.9 L522.0 1268.1 L523.0 1266.9 L524.0 1254.0 L525.0 1240.4 L526.0 1227.5 L527.0 1213.9 L528.0 1201.3 L529.0 1199.4 L530.0 1198.4 L531.0 1196.7 L532.0 1195.5 L533.0 1193.8 L534.0 1206.1 L535.0 1217.9 L536.0 1230.1 L537.0 1241.9 L538.0 1242.7 L539.0 1242.8 L540.0 1243.7 L541.0 1243.8 L542.0 1243.2 L543.0 1241.8 L544.0 1241.2 L545.0 1239.8 L546.0 1230.8 L547.0 1221.0 L548.0 1212.3 L549.0 1210.1 L550.0 1209.1 L551.0 1207.0 L552.0 1205.7 L553.0 1203.9 L554.0 1181.1 L555.0 1157.7 L556.0 1154.0 L557.0 1149.2 L558.0 1145.6 L559.0 1140.8 L560.0 1137.4 L561.0 1148.4 L562.0 1160.2 L563.0 1161.4 L564.0 1163.7 L565.0 1164.9 L566.0 1167.2 L567.0 1159.2 L568.0 1152.0 L569.0 1143.6 L570.0 1137.7 L571.0 1130.8 L572.0 1124.7 L573.0 1117.5 L573.6 1114.4 L574.0 1115.3 L575.0 1119.1 L576.0 1122.3 L577.0 1126.1 L578.0 1138.6 L579.0 1152.1 L580.0 1154.7 L581.0 1158.2 L582.0 1160.9 L583.0 1164.3 L584.0 1166.9 L585.0 1164.5 L586.0 1161.4 L587.0 1159.0 L588.0 1155.8 L589.0 1161.9 L590.0 1167.1 L591.0 1173.6 L592.0 1178.8 L593.0 1173.4 L594.0 1166.9 L595.0 1161.2 L596.0 1160.8 L597.0 1161.7 L598.0 1161.5 L599.0 1162.2 L600.0 1161.8 L601.0 1170.8 L602.0 1179.0 L603.0 1188.2 L604.0 1184.1 L605.0 1180.6 L606.0 1176.6 L607.0 1173.3 L608.0 1173.6 L609.0 1174.9 L610.0 1175.2 L611.0 1176.4 L612.0 1176.6 L613.0 1175.7 L614.0 1173.7 L615.0 1172.8 L616.0 1170.9 L617.0 1169.6 L618.0 1167.6 L619.0 1164.8 L620.0 1160.8 L621.0 1157.6 L622.0 1153.7 L623.0 1145.1 L624.0 1135.2 L625.0 1126.4 L626.0 1116.9 L627.0 1109.0 L628.0 1099.7 L629.0 1086.8 L629.5 1079.9 L630.0 1074.5 L631.0 1061.8 L632.0 1050.4 L633.0 1049.3 L634.0 1049.5 L635.0 1048.1 L636.0 1048.3 L637.0 1043.3 L638.0 1039.5 L639.0 1034.3 L640.0 1030.2 L641.0 1025.6 L642.0 1022.6 L643.0 1017.6 L644.0 1018.3 L645.0 1017.4 L646.0 1018.2 L647.0 1017.9 L648.0 1020.9 L649.0 1023.0 L650.0 1026.2 L651.0 1027.3 L652.0 1029.3 L653.0 1030.1 L654.0 1032.2 L655.0 1031.7 L656.0 1032.6 L657.0 1031.4 L658.0 1032.4 L659.0 1033.5 L660.0 1036.4 L661.0 1037.8 L662.0 1041.5 L663.0 1044.5 L664.0 1048.5 L665.0 1051.6 L666.0 1056.6 L667.0 1059.9 L668.0 1053.1 L669.0 1045.0 L670.0 1038.5 L671.0 1043.1 L672.0 1049.3 L673.0 1053.8 L674.0 1052.4 L675.0 1049.5 L676.0 1045.5 L677.0 1039.5 L678.0 1035.5 L679.0 1029.5 L680.0 1033.9 L681.0 1036.4 L682.0 1040.4 L683.0 1043.5 L684.0 1048.5 L685.0 1051.7 L686.0 1053.5 L687.0 1053.5 L688.0 1055.4 L689.0 1055.6 L690.0 1060.3 L691.0 1063.6 L692.0 1068.4 L693.0 1069.5 L694.0 1071.6 L695.0 1072.3 L696.0 1074.9 L697.0 1075.6 L698.0 1070.9 L699.0 1064.9 L700.0 1060.4 L701.0 1059.7 L702.0 1060.5 L703.0 1059.8 L704.0 1060.5 L705.0 1059.9 L706.0 1062.4 L707.0 1063.7 L708.0 1066.2 L709.0 1067.6 L710.0 1075.0 L711.0 1081.0 L712.0 1088.5 L713.0 1087.4 L714.0 1087.3 L715.0 1086.6 L716.0 1086.8 L717.0 1085.8 L718.0 1081.5 L719.0 1076.2 L720.0 1072.4 L721.0 1071.2 L722.0 1071.5 L723.0 1070.2 L724.0 1070.4 L725.0 1065.8 L726.0 1062.3 L727.0 1057.5 L728.0 1054.5 L729.0 1049.5 L730.0 1045.3 L731.0 1039.6 L732.0 1035.3 L733.0 1029.8 L734.0 1025.4 L735.0 1019.4 L736.0 1015.6 L737.0 1009.5 L738.0 1009.3 L739.0 1007.1 L740.0 1006.2 L741.0 1010.3 L742.0 1015.6 L743.0 1019.8 L744.0 1007.0 L745.0 992.9 L746.0 980.4 L747.0 976.3 L748.0 973.9 L749.0 969.3 L750.0 979.7 L750.5 983.8 L751.0 979.3 L752.0 968.8 L753.0 959.9 L754.0 949.4 L755.0 944.5 L756.0 937.7 L757.0 932.6 L758.0 925.8 L759.0 920.2 L760.0 918.8 L761.0 918.6 L762.0 916.9 L763.0 917.1 L764.0 915.8 L765.0 910.2 L766.0 903.4 L767.0 898.5 L768.0 891.4 L769.0 886.6 L770.0 881.5 L771.0 879.3 L772.0 874.1 L773.0 871.3 L774.0 870.7 L775.0 871.8 L776.0 871.6 L777.0 872.5 L778.0 901.4 L779.0 932.3 L780.0 901.7 L781.0 872.4 L782.0 867.3 L783.0 864.5 L784.0 859.4 L785.0 856.7 L786.0 853.5 L787.0 852.8 L788.0 849.2 L789.0 850.2 L790.0 849.1 L791.0 850.7 L792.0 849.7 L793.0 850.5 L794.0 849.4 L795.0 872.1 L795.5 881.6 L796.0 877.0 L797.0 864.4 L798.0 854.8 L799.0 852.6 L800.0 853.5 L801.0 851.9 L802.0 852.3 L803.0 856.3 L804.0 862.8 L805.0 866.4 L806.0 872.7 L807.0 858.7 L808.0 846.8 L809.0 843.1 L810.0 842.9 L811.0 841.4 L812.0 842.8 L813.0 841.6 L814.0 842.9 L815.0 841.2 L816.0 854.4 L817.0 865.8 L818.0 859.5 L819.0 851.4 L820.0 845.7 L821.0 845.0 L822.0 846.2 L823.0 890.6 L823.5 914.2 L824.0 914.9 L825.0 919.0 L826.0 921.5 L827.0 925.7 L828.0 906.7 L829.0 889.3 L830.0 870.5 L831.0 905.1 L832.0 937.3 L833.0 916.6 L834.0 893.2 L835.0 872.5 L836.0 887.2 L837.0 904.2 L838.0 919.7 L839.0 936.5 L840.0 951.7 L841.0 925.4 L842.0 897.0 L842.5 884.5 L843.0 882.4 L844.0 881.9 L845.0 879.2 L846.0 878.2 L847.0 875.2 L848.0 892.0 L849.0 906.1 L849.5 914.7 L850.0 915.4 L851.0 920.9 L852.0 924.2 L853.0 929.3 L854.0 915.0 L855.0 902.5 L856.0 913.5 L857.0 926.2 L858.0 913.2 L859.0 902.5 L860.0 905.6 L861.0 910.7 L862.0 913.5 L863.0 918.5 L864.0 921.4 L865.0 914.7 L866.0 906.5 L867.0 899.9 L868.0 891.2 L869.0 920.5 L870.0 947.1 L871.0 975.6 L871.5 988.8 L872.0 976.1 L873.0 948.5 L874.0 923.3 L875.0 895.5 L876.0 898.6 L877.0 900.2 L878.0 903.3 L879.0 904.2 L880.0 916.9 L881.0 927.7 L882.0 940.2 L883.0 956.7 L884.0 974.3 L885.0 990.5 L886.0 977.0 L887.0 962.0 L888.0 948.5 L889.0 947.5 L890.0 947.9 L891.0 946.8 L892.0 946.5 L893.0 944.7 L894.0 944.3 L895.0 942.5 L896.0 953.7 L897.0 963.3 L898.0 974.4 L899.0 967.8 L900.0 962.7 L901.0 956.5 L902.0 951.5 L903.0 959.8 L904.0 970.1 L905.0 978.4 L906.0 976.7 L907.0 972.9 L908.0 971.0 L909.0 967.4 L910.0 981.9 L911.0 994.0 L912.0 1008.3 L913.0 1001.9 L914.0 997.0 L915.0 990.3 L916.0 985.5 L917.0 978.4 L918.0 987.9 L919.0 996.1 L920.0 1005.5 L921.0 998.1 L922.0 991.9 L923.0 984.4 L924.0 1011.8 L925.0 1037.5 L926.0 1035.5 L927.0 1032.3 L928.0 1030.5 L929.0 1027.2 L930.0 1024.9 L931.0 1021.5 L932.0 1035.6 L933.0 1047.4 L934.0 1051.0 L935.0 1053.3 L936.0 1056.9 L937.0 1058.9 L938.0 1062.4 L939.0 1049.3 L940.0 1037.2 L941.0 1024.3 L942.0 1012.1 L943.0 1008.4 L944.0 1006.1 L945.0 1002.1 L946.0 999.5 L947.0 995.9 L948.0 993.2 L949.0 992.7 L950.0 994.3 L951.0 993.4 L952.0 994.5 L953.0 994.5 L954.0 995.6 L955.0 1003.8 L956.0 1013.9 L956.5 1017.7 L957.0 1017.6 L958.0 1015.2 L959.0 1014.3 L960.0 1018.6 L961.0 1024.1 L962.0 1028.5 L963.0 1034.5 L964.0 1028.3 L965.0 1023.4 L966.0 1017.0 L967.0 1012.3 L968.0 1008.5 L969.0 1005.7 L970.0 1001.8 L971.0 999.1 L972.0 998.6 L973.0 1000.0 L974.0 999.1 L975.0 1000.4 L976.0 999.5 L977.0 1013.3 L978.0 1025.6 L979.0 1022.0 L980.0 1016.6 L981.0 1013.3 L982.0 1008.1 L983.0 1004.6 L984.0 1003.9 L985.0 1005.3 L986.0 1004.6 L987.0 1005.9 L988.0 1005.4 L989.0 1018.6 L990.0 1029.5 L991.0 1031.7 L992.0 1031.9 L993.0 1033.9 L994.0 1034.3 L995.0 1036.2 L996.0 1031.0 L997.0 1027.0 L998.0 1021.9 L999.0 1022.3 L1000.0 1021.6 L1001.0 1022.4 L1002.0 1021.8 L1003.0 1022.6 L1004.0 1028.9 L1005.0 1037.0 L1006.0 1043.6 L1007.0 1050.7 L1008.0 1056.3 L1009.0 1063.3 L1010.0 1061.8 L1011.0 1062.2 L1012.0 1060.8 L1013.0 1061.1 L1014.0 1059.4 L1015.0 1065.5 L1016.0 1070.3 L1017.0 1076.4 L1018.0 1075.6 L1019.0 1076.0 L1020.0 1075.4 L1021.0 1075.6 L1022.0 1075.0 L1023.0 1075.3 L1024.0 1074.8 L1025.0 1079.2 L1026.0 1082.0 L1027.0 1086.3 L1028.0 1089.5 L1029.0 1094.3 L1030.0 1097.5 L1031.0 1099.6 L1032.0 1100.0 L1033.0 1101.7 L1034.0 1102.5 L1035.0 1104.4 L1036.0 1106.4 L1037.0 1109.5 L1038.0 1111.3 L1039.0 1114.3 L1040.0 1116.6 L1041.0 1119.8 L1042.0 1121.9 L1043.0 1125.1 L1044.0 1131.6 L1045.0 1139.2 L1046.0 1138.3 L1047.0 1138.5 L1048.0 1137.6 L1049.0 1137.6 L1050.0 1136.7 L1051.0 1134.0 L1052.0 1130.3 L1053.0 1127.6 L1054.0 1123.8 L1055.0 1128.1 L1056.0 1131.8 L1057.0 1136.1 L1058.0 1139.9 L1059.0 1149.3 L1060.0 1157.8 L1061.0 1167.4 L1062.0 1166.2 L1063.0 1166.1 L1064.0 1165.1 L1065.0 1165.4 L1066.0 1160.2 L1067.0 1156.1 L1068.0 1150.8 L1069.0 1156.8 L1070.0 1161.8 L1070.5 1165.2 L1071.0 1164.5 L1072.0 1164.6 L1073.0 1163.3 L1074.0 1163.3 L1075.0 1162.1 L1076.0 1162.3 L1077.0 1164.4 L1078.0 1167.4 L1079.0 1169.7 L1080.0 1173.7 L1081.0 1176.9 L1082.0 1180.6 L1083.0 1183.8 L1084.0 1180.9 L1085.0 1177.4 L1086.0 1174.7 L1087.0 1171.0 L1088.0 1168.2 L1089.0 1165.7 L1090.0 1164.2 L1091.0 1161.7 L1092.0 1160.3 L1093.0 1153.1 L1094.0 1147.4 L1095.0 1146.7 L1096.0 1147.2 L1097.0 1146.9 L1098.0 1147.4 L1099.0 1146.6 L1100.0 1147.3 L1101.0 1146.5 L1102.0 1146.7 L1103.0 1145.9 L1104.0 1146.3 L1105.0 1143.7 L1106.0 1142.3 L1107.0 1139.6 L1108.0 1138.2 L1109.0 1131.3 L1110.0 1125.0 L1111.0 1080.0 L1112.0 1000.0 L1113.0 962.0 L1114.0 956.0 L1115.0 950.0 L1116.0 948.7 L1117.0 945.3 L1118.0 944.7 L1119.0 941.8 L1120.0 948.2 L1121.0 953.7 L1122.0 960.4 L1123.0 974.2 L1124.0 989.5 L1125.0 1003.6 L1126.0 1014.8 L1127.0 1025.2 L1128.0 1036.4 L1129.0 1027.6 L1130.0 1020.4 L1131.0 1011.7 L1132.0 1010.7 L1133.0 1008.4 L1134.0 1007.3 L1135.0 1011.0 L1136.0 1016.6 L1137.0 1020.3 L1138.0 1025.2 L1139.0 1017.5 L1140.0 1011.5 L1141.0 1003.5 L1142.0 996.2 L1143.0 987.6 L1144.0 980.3 L1145.0 978.4 L1146.0 978.3 L1147.0 976.5 L1148.0 976.7 L1149.0 974.7 L1150.0 976.0 L1151.0 975.6 L1152.0 977.5 L1153.0 977.0 L1154.0 978.3 L1155.0 975.8 L1156.0 974.6 L1157.0 971.8 L1158.0 970.2 L1159.0 954.5 L1160.0 940.4 L1161.0 919.4 L1162.0 900.4 L1163.0 892.3 L1164.0 886.2 L1165.0 899.2 L1166.0 913.6 L1167.0 899.3 L1168.0 886.4 L1169.0 886.7 L1170.0 889.3 L1171.0 889.6 L1172.0 897.8 L1173.0 904.6 L1174.0 901.1 L1175.0 895.6 L1176.0 913.6 L1177.0 930.1 L1178.0 948.5 L1179.0 921.3 L1180.0 896.8 L1181.0 888.6 L1182.0 883.1 L1183.0 875.3 L1184.0 873.9 L1185.0 870.6 L1186.0 869.0 L1187.0 865.3 L1187.6 865.4 L1188.0 864.5 L1189.0 865.8 L1190.0 865.6 L1191.0 873.4 L1192.0 879.6 L1193.0 885.4 L1194.0 889.7 L1195.0 886.8 L1196.0 881.8 L1197.0 879.3 L1198.0 874.2 L1199.0 875.2 L1200.0 874.1 L1201.0 874.7 L1202.0 872.9 L1203.0 873.8 L1204.0 886.5 L1205.0 900.5 L1206.0 915.5 L1207.0 932.5 L1208.0 932.9 L1209.0 935.9 L1210.0 936.4 L1211.0 932.1 L1212.0 926.3 L1213.0 922.4 L1214.0 916.4 L1215.0 921.3 L1216.0 924.9 L1217.0 930.7 L1218.0 931.1 L1219.0 933.2 L1220.0 933.8 L1221.0 957.6 L1222.0 979.5 L1223.0 993.3 L1224.0 992.5 L1225.0 993.1 L1226.0 992.0 L1227.0 992.7 L1228.0 991.7 L1229.0 1006.3 L1230.0 1019.4 L1231.0 1014.0 L1232.0 1006.6 L1233.0 1000.9 L1234.0 993.5 L1235.0 994.5 L1236.0 993.4 L1237.0 994.4 L1238.0 993.4 L1239.0 994.5 L1240.0 999.4 L1241.0 1006.6 L1242.0 1011.4 L1243.0 1024.1 L1244.0 1034.4 L1245.0 1033.9 L1246.0 1031.6 L1247.0 1031.0 L1248.0 1028.5 L1249.0 1024.0 L1250.0 1018.0 L1251.0 1013.2 L1252.0 1014.5 L1253.0 1017.6 L1254.0 1018.7 L1255.0 1024.5 L1256.0 1029.4 L1257.0 1035.3 L1258.0 1029.7 L1259.0 1025.6 L1260.0 1019.8 L1261.0 1022.3 L1262.0 1023.8 L1263.0 1026.4 L1264.0 1028.2 L1265.0 1031.5 L1266.0 1033.8 L1267.0 992.2 L1267.2 982.9 L1268.0 984.3 L1269.0 983.8 L1270.0 984.5 L1271.0 984.4 L1272.0 995.3 L1273.0 1005.3 L1274.0 1016.5 L1275.0 1013.0 L1276.0 1011.1 L1277.0 1008.1 L1278.0 1006.0 L1279.0 1002.9 L1280.0 1001.1 L1281.0 997.7 L1282.0 1003.1 L1283.0 1006.8 L1284.0 1012.4 L1285.0 1011.6 L1286.0 1012.3 L1287.0 1010.9 L1288.0 1011.6 L1289.0 1010.8 L1290.0 1011.6 L1291.0 1008.0 L1292.0 1006.0 L1293.0 1003.0 L1294.0 1001.2 L1295.0 997.4 L1296.0 1003.7 L1297.0 1008.3 L1298.0 1014.4 L1299.0 1010.2 L1300.0 1007.6 L1301.0 1003.0 L1302.0 1000.3 L1303.0 981.5 L1303.2 978.4 L1304.0 975.8 L1305.0 974.3 L1306.0 970.8 L1307.0 969.5 L1308.0 973.4 L1309.0 978.6 L1310.0 982.7 L1311.0 978.3 L1312.0 972.4 L1313.0 968.4 L1314.0 973.2 L1315.0 980.0 L1316.0 984.7 L1317.0 980.5 L1318.0 975.0 L1319.0 970.9 L1320.0 965.3 L1321.0 966.2 L1322.0 965.1 L1323.0 966.5 L1324.0 965.9 L1325.0 966.6 L1326.0 965.9 L1327.0 966.8 L1328.0 991.5 L1328.4 1002.4 L1329.0 999.8 L1330.0 998.2 L1331.0 994.4 L1332.0 992.7 L1333.0 989.1 L1334.0 987.4 L1335.0 992.7 L1336.0 999.8 L1337.0 1005.4 L1338.0 1005.0 L1339.0 1003.2 L1340.0 1002.8 L1341.0 1001.0 L1342.0 1000.6 L1343.0 1005.7 L1344.0 1012.3 L1345.0 1017.8 L1346.0 1014.3 L1347.0 1009.6 L1348.0 1006.5 L1349.0 1001.7 L1350.0 1016.5 L1351.0 1029.8 L1352.0 1027.1 L1353.0 1023.1 L1354.0 1020.9 L1355.0 1016.4 L1356.0 1017.3 L1357.0 1016.5 L1358.0 1016.8 L1359.0 1015.8 L1360.0 1016.4 L1361.0 1015.6 L1362.0 1029.7 L1363.0 1042.5 L1364.0 1056.6 L1365.0 1038.5 L1366.0 1022.2 L1367.0 1004.5 L1368.0 1009.6 L1369.0 1013.3 L1370.0 1018.4 L1371.0 1012.0 L1372.0 1006.8 L1373.0 1000.4 L1374.0 995.5 L1375.0 994.5 L1376.0 994.8 L1377.0 993.9 L1378.0 994.5 L1379.0 993.4 L1380.0 1015.2 L1381.0 1035.1 L1381.6 1048.3 L1382.0 1043.5 L1383.0 1034.2 L1384.0 1023.8 L1385.0 1014.2 L1386.0 1003.5 L1387.0 1004.8 L1388.0 1004.3 L1389.0 1005.1 L1390.0 1004.4 L1391.0 1016.1 L1391.4 1019.8 L1392.0 1019.1 L1393.0 1016.7 L1394.0 1015.1 L1395.0 1012.7 L1396.0 1014.4 L1397.0 1014.9 L1398.0 1017.1 L1399.0 1017.6 L1400.0 1029.4 L1401.0 1039.5 L1402.0 1045.8 L1403.0 1050.3 L1404.0 1056.1 L1404.4 1057.7"/>
<path fill="#FFA500" d="M191.5 1406.1 L192.0 1404.5 L192.5 1403.0 L193.0 1401.5 L193.5 1401.5 L194.0 1401.5 L194.5 1401.5 L195.0 1401.5 L195.5 1401.5 L196.0 1401.5 L196.5 1401.5 L197.0 1401.5 L197.5 1401.5 L198.0 1401.5 L198.5 1401.5 L199.0 1401.5 L199.5 1401.5 L200.0 1401.5 L200.5 1406.1 L201.0 1406.1 L201.5 1406.1 L202.0 1406.1 L202.5 1406.1 L203.0 1406.1 L203.5 1406.1 L204.0 1406.1 L204.5 1406.1 L205.0 1406.1 L205.5 1404.9 L206.0 1403.8 L206.5 1403.8 L207.0 1403.8 L207.5 1403.8 L208.0 1403.8 L208.5 1403.8 L209.0 1403.8 L209.5 1403.8 L210.0 1403.8 L210.5 1403.8 L211.0 1403.8 L211.5 1403.8 L212.0 1403.8 L212.5 1403.8 L213.0 1403.8 L213.5 1404.5 L214.0 1405.3 L214.5 1405.3 L215.0 1405.3 L215.5 1405.3 L216.0 1405.3 L216.5 1405.3 L217.0 1405.3 L217.5 1405.3 L218.0 1405.3 L218.5 1404.8 L219.0 1404.4 L219.5 1403.9 L220.0 1403.5 L220.5 1403.5 L221.0 1403.5 L221.5 1403.5 L222.0 1403.5 L222.5 1403.5 L223.0 1403.5 L223.5 1403.5 L224.0 1403.5 L224.5 1403.5 L225.0 1403.5 L225.5 1403.5 L226.0 1403.5 L226.5 1403.5 L227.0 1403.5 L227.5 1403.5 L228.0 1403.5 L228.5 1403.5 L229.0 1403.5 L229.5 1403.5 L230.0 1403.5 L230.5 1403.5 L231.0 1403.5 L231.5 1403.5 L232.0 1403.5 L232.5 1403.5 L233.0 1403.5 L233.5 1403.5 L234.0 1403.5 L234.5 1403.5 L235.0 1403.5 L235.5 1403.5 L236.0 1403.5 L236.5 1404.3 L237.0 1405.1 L237.5 1406.0 L238.0 1406.8 L238.5 1406.9 L239.0 1407.0 L239.5 1407.0 L240.0 1407.1 L240.5 1407.2 L241.0 1407.3 L241.5 1407.3 L242.0 1407.4 L242.5 1407.5 L243.0 1407.6 L243.5 1407.6 L244.0 1407.7 L244.5 1407.8 L245.0 1407.9 L245.5 1407.9 L246.0 1400.8 L246.5 1400.8 L247.0 1400.8 L247.5 1400.8 L248.0 1400.8 L248.5 1400.8 L249.0 1400.8 L249.5 1400.8 L250.0 1400.8 L250.5 1400.8 L251.0 1400.8 L251.5 1400.8 L252.0 1400.8 L252.5 1400.8 L253.0 1400.8 L253.5 1407.6 L254.0 1407.6 L254.5 1407.6 L255.0 1407.6 L255.5 1407.6 L256.0 1407.6 L256.5 1407.6 L257.0 1407.6 L257.5 1407.6 L258.0 1407.6 L258.5 1407.6 L259.0 1407.6 L259.5 1407.6 L260.0 1403.0 L260.5 1403.0 L261.0 1403.0 L261.5 1403.0 L262.0 1403.0 L262.5 1403.0 L263.0 1403.0 L263.5 1403.0 L264.0 1403.0 L264.5 1403.0 L265.0 1403.0 L265.5 1403.0 L266.0 1403.0 L266.5 1403.0 L267.0 1403.0 L267.5 1403.8 L268.0 1404.5 L268.5 1404.6 L269.0 1404.6 L269.5 1404.6 L270.0 1404.7 L270.5 1404.7 L271.0 1404.7 L271.5 1404.7 L272.0 1404.8 L272.5 1404.8 L273.0 1404.8 L273.5 1404.8 L274.0 1404.9 L274.5 1404.9 L275.0 1404.9 L275.5 1405.4 L276.0 1405.9 L276.5 1406.3 L277.0 1406.8 L277.5 1406.9 L278.0 1406.9 L278.5 1406.9 L279.0 1407.0 L279.5 1407.0 L280.0 1407.1 L280.5 1407.1 L281.0 1407.2 L281.5 1407.2 L282.0 1407.3 L282.5 1407.3 L283.0 1407.4 L283.5 1407.4 L284.0 1407.5 L284.5 1407.5 L285.0 1407.6 L285.5 1407.6 L286.0 1407.6 L286.5 1407.7 L287.0 1407.7 L287.5 1407.8 L288.0 1407.8 L288.5 1407.9 L289.0 1407.9 L289.5 1407.4 L290.0 1406.8 L290.5 1406.2 L291.0 1405.7 L291.5 1405.6 L292.0 1405.6 L292.5 1405.6 L293.0 1405.6 L293.5 1405.6 L294.0 1405.6 L294.5 1405.6 L295.0 1405.6 L295.5 1405.6 L296.0 1405.6 L296.5 1405.5 L297.0 1405.5 L297.5 1405.5 L298.0 1405.5 L298.5 1405.5 L299.0 1405.5 L299.5 1405.5 L300.0 1405.5 L300.5 1405.5 L301.0 1405.5 L301.5 1405.4 L302.0 1405.4 L302.5 1405.4 L303.0 1405.4 L303.5 1405.4 L304.0 1405.4 L304.5 1406.0 L305.0 1406.6 L305.5 1407.2 L306.0 1407.8 L306.5 1407.8 L307.0 1407.7 L307.5 1407.7 L308.0 1407.7 L308.5 1407.7 L309.0 1407.7 L309.5 1407.7 L310.0 1407.7 L310.5 1407.7 L311.0 1407.7 L311.5 1407.7 L312.0 1407.7 L312.5 1407.7 L313.0 1407.7 L313.5 1407.6 L314.0 1407.6 L314.5 1407.6 L315.0 1407.6 L315.5 1407.6 L316.0 1407.6 L316.5 1407.6 L317.0 1407.6 L317.5 1407.6 L318.0 1407.6 L318.5 1407.6 L319.0 1407.6 L319.5 1406.6 L320.0 1405.7 L320.5 1405.7 L321.0 1405.7 L321.5 1405.7 L322.0 1405.7 L322.5 1405.6 L323.0 1405.6 L323.5 1405.6 L324.0 1405.6 L324.5 1405.6 L325.0 1405.6 L325.5 1405.6 L326.0 1405.6 L326.5 1406.3 L327.0 1406.9 L327.5 1406.9 L328.0 1406.9 L328.5 1406.9 L329.0 1406.9 L329.5 1406.9 L330.0 1406.9 L330.5 1407.0 L331.0 1407.0 L331.5 1407.0 L332.0 1407.0 L332.5 1407.0 L333.0 1407.0 L333.5 1407.0 L334.0 1407.0 L334.5 1407.0 L335.0 1407.0 L335.5 1407.0 L336.0 1407.0 L336.5 1407.0 L337.0 1407.0 L337.5 1407.0 L338.0 1407.0 L338.5 1407.0 L339.0 1407.0 L339.5 1407.0 L340.0 1407.0 L340.5 1407.0 L341.0 1407.0 L341.5 1407.0 L342.0 1407.0 L342.5 1407.0 L343.0 1407.0 L343.5 1407.0 L344.0 1407.0 L344.5 1407.0 L345.0 1407.0 L345.5 1407.0 L346.0 1407.0 L346.5 1407.0 L347.0 1407.0 L347.5 1407.0 L348.0 1407.0 L348.5 1407.0 L349.0 1407.0 L349.5 1407.0 L350.0 1407.0 L350.5 1407.0 L351.0 1407.0 L351.5 1407.0 L352.0 1407.0 L352.5 1407.0 L353.0 1407.0 L353.5 1407.0 L354.0 1407.0 L354.5 1407.0 L355.0 1407.0 L355.5 1407.0 L356.0 1407.0 L356.5 1407.0 L357.0 1407.0 L357.5 1407.0 L358.0 1407.0 L358.5 1407.0 L359.0 1407.0 L359.5 1407.0 L360.0 1407.0 L360.5 1407.0 L361.0 1407.0 L361.5 1407.0 L362.0 1407.0 L362.5 1407.0 L363.0 1407.1 L363.5 1407.1 L364.0 1407.1 L364.5 1407.1 L365.0 1407.1 L365.5 1407.1 L366.0 1407.1 L366.5 1407.1 L367.0 1407.1 L367.5 1407.1 L368.0 1407.1 L368.5 1407.1 L369.0 1407.1 L369.5 1407.1 L370.0 1407.1 L370.5 1407.1 L371.0 1407.1 L371.5 1407.1 L372.0 1407.1 L372.5 1407.1 L373.0 1407.1 L373.5 1407.1 L374.0 1407.1 L374.5 1406.3 L375.0 1405.6 L375.5 1405.6 L376.0 1405.6 L376.5 1405.6 L377.0 1405.6 L377.5 1405.5 L378.0 1405.5 L378.5 1405.5 L379.0 1405.5 L379.5 1405.5 L380.0 1405.5 L380.5 1406.3 L381.0 1407.1 L381.5 1407.1 L382.0 1407.2 L382.5 1407.2 L383.0 1407.2 L383.5 1407.2 L384.0 1407.2 L384.5 1407.2 L385.0 1407.2 L385.5 1407.2 L386.0 1407.2 L386.5 1407.2 L387.0 1407.2 L387.5 1407.2 L388.0 1407.2 L388.5 1407.3 L389.0 1407.3 L389.5 1407.3 L390.0 1407.3 L390.5 1407.3 L391.0 1407.3 L391.5 1407.3 L392.0 1407.3 L392.5 1407.3 L393.0 1407.3 L393.5 1407.3 L394.0 1407.3 L394.5 1407.3 L395.0 1407.4 L395.5 1407.4 L396.0 1407.4 L396.5 1407.4 L397.0 1407.4 L397.5 1407.4 L398.0 1407.4 L398.5 1407.4 L399.0 1407.4 L399.5 1407.4 L400.0 1407.4 L400.5 1407.4 L401.0 1407.4 L401.5 1407.5 L402.0 1407.5 L402.5 1407.5 L403.0 1407.5 L403.5 1407.5 L404.0 1407.5 L404.5 1407.5 L405.0 1407.5 L405.5 1407.5 L406.0 1407.5 L406.5 1407.5 L407.0 1407.5 L407.5 1407.6 L408.0 1407.6 L408.5 1407.6 L409.0 1407.6 L409.5 1407.6 L410.0 1407.6 L410.5 1407.6 L411.0 1407.6 L411.5 1407.6 L412.0 1407.6 L412.5 1407.6 L413.0 1407.6 L413.5 1407.6 L414.0 1407.7 L414.5 1407.7 L415.0 1407.7 L415.5 1407.7 L416.0 1407.7 L416.5 1407.7 L417.0 1407.7 L417.5 1407.7 L418.0 1407.7 L418.5 1407.7 L419.0 1407.7 L419.5 1407.7 L420.0 1407.7 L420.5 1407.8 L421.0 1407.8 L421.5 1407.8 L422.0 1407.8 L422.5 1407.8 L423.0 1407.8 L423.5 1407.8 L424.0 1407.8 L424.5 1407.8 L425.0 1407.8 L425.5 1407.8 L426.0 1407.8 L426.5 1407.8 L427.0 1407.9 L427.5 1407.9 L428.0 1407.9 L428.5 1407.9 L429.0 1407.9 L429.5 1407.9 L430.0 1407.9 L430.5 1407.9 L431.0 1407.9 L431.5 1407.9 L432.0 1407.9 L432.5 1407.9 L433.0 1408.0 L433.5 1408.0 L434.0 1408.0 L434.5 1408.0 L435.0 1408.0 L435.5 1408.0 L436.0 1408.0 L436.5 1408.0 L437.0 1408.0 L437.5 1408.0 L438.0 1408.0 L438.5 1408.0 L439.0 1408.0 L439.5 1408.1 L440.0 1404.0 L440.5 1404.0 L441.0 1404.0 L441.5 1404.0 L442.0 1404.0 L442.5 1404.0 L443.0 1404.0 L443.5 1404.0 L444.0 1404.0 L444.5 1404.0 L445.0 1404.0 L445.5 1404.0 L446.0 1404.0 L446.5 1404.0 L447.0 1404.0 L447.5 1404.0 L448.0 1404.0 L448.5 1407.3 L449.0 1407.3 L449.5 1407.3 L450.0 1407.3 L450.5 1407.3 L451.0 1407.3 L451.5 1407.3 L452.0 1407.3 L452.5 1407.3 L453.0 1407.3 L453.5 1407.3 L454.0 1407.3 L454.5 1407.3 L455.0 1407.3 L455.5 1407.3 L456.0 1402.5 L456.5 1402.5 L457.0 1402.5 L457.5 1402.5 L458.0 1402.5 L458.5 1402.5 L459.0 1402.5 L459.5 1402.5 L460.0 1402.5 L460.5 1402.5 L461.0 1402.5 L461.5 1402.5 L462.0 1402.5 L462.5 1402.5 L463.0 1402.5 L463.5 1402.5 L464.0 1402.5 L464.5 1402.5 L465.0 1402.5 L465.5 1402.5 L466.0 1402.5 L466.5 1402.5 L467.0 1402.5 L467.5 1407.7 L468.0 1407.7 L468.5 1407.7 L469.0 1407.7 L469.5 1407.7 L470.0 1407.7 L470.5 1407.7 L471.0 1407.7 L471.5 1407.7 L472.0 1407.7 L472.5 1407.7 L473.0 1407.7 L473.5 1407.7 L474.0 1407.7 L474.5 1407.7 L475.0 1407.7 L475.5 1407.7 L476.0 1407.7 L476.5 1407.7 L477.0 1407.7 L477.5 1407.7 L478.0 1404.5 L478.5 1404.5 L479.0 1404.5 L479.5 1404.5 L480.0 1404.5 L480.5 1404.5 L481.0 1404.5 L481.5 1404.5 L482.0 1404.5 L482.5 1407.3 L483.0 1407.3 L483.5 1407.3 L484.0 1407.3 L484.5 1407.3 L485.0 1407.3 L485.5 1407.3 L486.0 1407.3 L486.5 1407.3 L487.0 1407.3 L487.5 1407.3 L488.0 1407.3 L488.5 1407.3 L489.0 1407.3 L489.5 1407.3 L490.0 1407.3 L490.5 1406.9 L491.0 1406.4 L491.5 1406.4 L492.0 1406.4 L492.5 1406.4 L493.0 1406.4 L493.5 1406.4 L494.0 1406.4 L494.5 1406.4 L495.0 1406.4 L495.5 1406.4 L496.0 1406.4 L496.5 1406.4 L497.0 1406.4 L497.0 1413.6 L496.5 1413.7 L496.0 1413.7 L495.5 1413.7 L495.0 1413.6 L494.5 1413.5 L494.0 1413.3 L493.5 1413.3 L493.0 1413.2 L492.5 1413.3 L492.0 1413.3 L491.5 1413.5 L491.0 1413.6 L490.5 1413.8 L490.0 1413.9 L489.5 1413.9 L489.0 1413.9 L488.5 1413.8 L488.0 1413.6 L487.5 1413.4 L487.0 1413.2 L486.5 1413.1 L486.0 1413.0 L485.5 1413.0 L485.0 1413.0 L484.5 1413.1 L484.0 1413.2 L483.5 1413.4 L483.0 1413.5 L482.5 1413.5 L482.0 1413.5 L481.5 1413.5 L481.0 1413.4 L480.5 1413.2 L480.0 1413.1 L479.5 1413.0 L479.0 1413.0 L478.5 1413.1 L478.0 1413.2 L477.5 1413.4 L477.0 1413.5 L476.5 1413.7 L476.0 1413.9 L475.5 1413.9 L475.0 1413.9 L474.5 1413.9 L474.0 1413.7 L473.5 1413.6 L473.0 1413.4 L472.5 1413.3 L472.0 1413.2 L471.5 1413.2 L471.0 1413.2 L470.5 1413.3 L470.0 1413.4 L469.5 1413.5 L469.0 1413.6 L468.5 1413.6 L468.0 1413.6 L467.5 1413.5 L467.0 1413.3 L466.5 1413.2 L466.0 1413.0 L465.5 1412.9 L465.0 1412.9 L464.5 1412.9 L464.0 1413.0 L463.5 1413.2 L463.0 1413.3 L462.5 1413.5 L462.0 1413.7 L461.5 1413.8 L461.0 1413.8 L460.5 1413.7 L460.0 1413.6 L459.5 1413.5 L459.0 1413.4 L458.5 1413.3 L458.0 1413.3 L457.5 1413.3 L457.0 1413.4 L456.5 1413.5 L456.0 1413.6 L455.5 1413.8 L455.0 1413.8 L454.5 1413.9 L454.0 1413.8 L453.5 1413.7 L453.0 1413.5 L452.5 1413.3 L452.0 1413.1 L451.5 1413.0 L451.0 1412.9 L450.5 1412.9 L450.0 1413.0 L449.5 1413.1 L449.0 1413.2 L448.5 1413.4 L448.0 1413.5 L447.5 1413.6 L447.0 1413.6 L446.5 1413.5 L446.0 1413.4 L445.5 1413.3 L445.0 1413.2 L444.5 1413.1 L444.0 1413.1 L443.5 1413.2 L443.0 1413.3 L442.5 1413.5 L442.0 1413.6 L441.5 1413.8 L441.0 1413.9 L440.5 1414.0 L440.0 1413.9 L439.5 1413.8 L439.0 1413.7 L438.5 1413.5 L438.0 1413.3 L437.5 1413.2 L437.0 1413.1 L436.5 1413.1 L436.0 1413.2 L435.5 1413.3 L435.0 1413.4 L434.5 1413.5 L434.0 1413.6 L433.5 1413.6 L433.0 1413.5 L432.5 1413.4 L432.0 1413.3 L431.5 1413.1 L431.0 1413.0 L430.5 1412.9 L430.0 1412.9 L429.5 1412.9 L429.0 1413.1 L428.5 1413.3 L428.0 1413.4 L427.5 1413.6 L427.0 1413.8 L426.5 1413.8 L426.0 1413.8 L425.5 1413.8 L425.0 1413.7 L424.5 1413.5 L424.0 1413.4 L423.5 1413.3 L423.0 1413.3 L422.5 1413.3 L422.0 1413.4 L421.5 1413.5 L421.0 1413.6 L420.5 1413.7 L420.0 1413.8 L419.5 1413.8 L419.0 1413.7 L418.5 1413.6 L418.0 1413.4 L417.5 1413.2 L417.0 1413.0 L416.5 1412.9 L416.0 1412.9 L415.5 1412.9 L415.0 1413.0 L414.5 1413.1 L414.0 1413.3 L413.5 1413.4 L413.0 1413.6 L412.5 1413.6 L412.0 1413.6 L411.5 1413.5 L411.0 1413.4 L410.5 1413.3 L410.0 1413.2 L409.5 1413.2 L409.0 1413.2 L408.5 1413.2 L408.0 1413.4 L407.5 1413.5 L407.0 1413.7 L406.5 1413.8 L406.0 1413.9 L405.5 1413.9 L405.0 1413.9 L404.5 1413.8 L404.0 1413.6 L403.5 1413.4 L403.0 1413.2 L402.5 1413.1 L402.0 1413.0 L401.5 1413.0 L401.0 1413.1 L400.5 1413.2 L400.0 1413.3 L399.5 1413.5 L399.0 1413.5 L398.5 1413.5 L398.0 1413.5 L397.5 1413.4 L397.0 1413.3 L396.5 1413.1 L396.0 1413.0 L395.5 1412.9 L395.0 1413.0 L394.5 1413.0 L394.0 1413.2 L393.5 1413.4 L393.0 1413.6 L392.5 1413.7 L392.0 1413.8 L391.5 1413.9 L391.0 1413.9 L390.5 1413.8 L390.0 1413.7 L389.5 1413.5 L389.0 1413.4 L388.5 1413.3 L388.0 1413.2 L387.5 1413.3 L387.0 1413.3 L386.5 1413.5 L386.0 1413.6 L385.5 1413.7 L385.0 1413.7 L384.5 1413.7 L384.0 1413.6 L383.5 1413.5 L383.0 1413.3 L382.5 1413.1 L382.0 1413.0 L381.5 1412.9 L381.0 1412.8 L380.5 1412.9 L380.0 1413.0 L379.5 1413.2 L379.0 1413.4 L378.5 1413.5 L378.0 1413.6 L377.5 1413.7 L377.0 1413.7 L376.5 1413.6 L376.0 1413.5 L375.5 1413.4 L375.0 1413.3 L374.5 1413.2 L374.0 1413.2 L373.5 1413.3 L373.0 1413.4 L372.5 1413.6 L372.0 1413.7 L371.5 1413.8 L371.0 1413.9 L370.5 1413.9 L370.0 1413.8 L369.5 1413.7 L369.0 1413.5 L368.5 1413.3 L368.0 1413.1 L367.5 1413.0 L367.0 1413.0 L366.5 1413.0 L366.0 1413.1 L365.5 1413.2 L365.0 1413.3 L364.5 1413.4 L364.0 1413.5 L363.5 1413.5 L363.0 1413.5 L362.5 1413.4 L362.0 1413.3 L361.5 1413.1 L361.0 1413.0 L360.5 1413.0 L360.0 1413.0 L359.5 1413.1 L359.0 1413.3 L358.5 1413.5 L358.0 1413.7 L357.5 1413.8 L357.0 1413.9 L356.5 1413.9 L356.0 1413.9 L355.5 1413.8 L355.0 1413.6 L354.5 1413.5 L354.0 1413.3 L353.5 1413.2 L353.0 1413.2 L352.5 1413.2 L352.0 1413.3 L351.5 1413.4 L351.0 1413.5 L350.5 1413.6 L350.0 1413.6 L349.5 1413.6 L349.0 1413.5 L348.5 1413.4 L348.0 1413.2 L347.5 1413.1 L347.0 1412.9 L346.5 1412.9 L346.0 1412.9 L345.5 1412.9 L345.0 1413.1 L344.5 1413.3 L344.0 1413.4 L343.5 1413.6 L343.0 1413.7 L342.5 1413.8 L342.0 1413.7 L341.5 1413.7 L341.0 1413.5 L340.5 1413.4 L340.0 1413.3 L339.5 1413.3 L339.0 1413.3 L338.5 1413.3 L338.0 1413.4 L337.5 1413.6 L337.0 1413.7 L336.5 1413.8 L336.0 1413.9 L335.5 1413.8 L335.0 1413.7 L334.5 1413.6 L334.0 1413.4 L333.5 1413.2 L333.0 1413.0 L332.5 1412.9 L332.0 1412.9 L331.5 1412.9 L331.0 1413.1 L330.5 1413.2 L330.0 1413.3 L329.5 1413.5 L329.0 1413.5 L328.5 1413.6 L328.0 1413.5 L327.5 1413.4 L327.0 1413.3 L326.5 1413.2 L326.0 1413.1 L325.5 1413.1 L325.0 1413.1 L324.5 1413.2 L324.0 1413.4 L323.5 1413.6 L323.0 1413.7 L322.5 1413.9 L322.0 1413.9 L321.5 1413.9 L321.0 1413.9 L320.5 1413.7 L320.0 1413.6 L319.5 1413.4 L319.0 1413.2 L318.5 1413.2 L318.0 1413.1 L317.5 1413.2 L317.0 1413.2 L316.5 1413.4 L316.0 1413.5 L315.5 1413.6 L315.0 1413.6 L314.5 1413.6 L314.0 1413.5 L313.5 1413.3 L313.0 1413.2 L312.5 1413.0 L312.0 1412.9 L311.5 1412.9 L311.0 1412.9 L310.5 1413.0 L310.0 1413.2 L309.5 1413.4 L309.0 1413.5 L308.5 1413.7 L308.0 1413.8 L307.5 1413.8 L307.0 1413.8 L306.5 1413.7 L306.0 1413.6 L305.5 1413.4 L305.0 1413.3 L304.5 1413.3 L304.0 1413.3 L303.5 1413.3 L303.0 1413.4 L302.5 1413.6 L302.0 1413.7 L301.5 1413.8 L301.0 1413.8 L300.5 1413.8 L300.0 1413.6 L299.5 1413.5 L299.0 1413.3 L298.5 1413.1 L298.0 1413.0 L297.5 1412.9 L297.0 1412.9 L296.5 1412.9 L296.0 1413.1 L295.5 1413.2 L295.0 1413.4 L294.5 1413.5 L294.0 1413.6 L293.5 1413.6 L293.0 1413.6 L292.5 1413.5 L292.0 1413.3 L291.5 1413.2 L291.0 1413.2 L290.5 1413.1 L290.0 1413.2 L289.5 1413.3 L289.0 1413.5 L288.5 1413.6 L288.0 1413.8 L287.5 1413.9 L287.0 1414.0 L286.5 1413.9 L286.0 1413.8 L285.5 1413.7 L285.0 1413.5 L284.5 1413.3 L284.0 1413.2 L283.5 1413.1 L283.0 1413.0 L282.5 1413.1 L282.0 1413.2 L281.5 1413.3 L281.0 1413.4 L280.5 1413.5 L280.0 1413.6 L279.5 1413.5 L279.0 1413.4 L278.5 1413.3 L278.0 1413.2 L277.5 1413.0 L277.0 1412.9 L276.5 1412.9 L276.0 1413.0 L275.5 1413.1 L275.0 1413.3 L274.5 1413.5 L274.0 1413.7 L273.5 1413.8 L273.0 1413.9 L272.5 1413.9 L272.0 1413.8 L271.5 1413.7 L271.0 1413.6 L270.5 1413.4 L270.0 1413.3 L269.5 1413.2 L269.0 1413.3 L268.5 1413.3 L268.0 1413.4 L267.5 1413.5 L267.0 1413.7 L266.5 1413.7 L266.0 1413.7 L265.5 1413.7 L265.0 1413.5 L264.5 1413.4 L264.0 1413.2 L263.5 1413.0 L263.0 1412.9 L262.5 1412.8 L262.0 1412.9 L261.5 1413.0 L261.0 1413.1 L260.5 1413.3 L260.0 1413.5 L259.5 1413.6 L259.0 1413.7 L258.5 1413.7 L258.0 1413.6 L257.5 1413.5 L257.0 1413.4 L256.5 1413.3 L256.0 1413.2 L255.5 1413.2 L255.0 1413.3 L254.5 1413.4 L254.0 1413.5 L253.5 1413.7 L253.0 1413.8 L252.5 1413.9 L252.0 1413.9 L251.5 1413.9 L251.0 1413.7 L250.5 1413.6 L250.0 1413.4 L249.5 1413.2 L249.0 1413.1 L248.5 1413.0 L248.0 1413.0 L247.5 1413.0 L247.0 1413.2 L246.5 1413.3 L246.0 1413.4 L245.5 1413.5 L245.0 1413.5 L244.5 1413.5 L244.0 1413.4 L243.5 1413.3 L243.0 1413.2 L242.5 1413.1 L242.0 1413.0 L241.5 1413.0 L241.0 1413.1 L240.5 1413.2 L240.0 1413.4 L239.5 1413.6 L239.0 1413.7 L238.5 1413.9 L238.0 1413.9 L237.5 1413.9 L237.0 1413.8 L236.5 1413.7 L236.0 1413.5 L235.5 1413.4 L235.0 1413.3 L234.5 1413.2 L234.0 1413.2 L233.5 1413.3 L233.0 1413.4 L232.5 1413.5 L232.0 1413.6 L231.5 1413.7 L231.0 1413.7 L230.5 1413.6 L230.0 1413.5 L229.5 1413.3 L229.0 1413.1 L228.5 1413.0 L228.0 1412.9 L227.5 1412.8 L227.0 1412.9 L226.5 1413.0 L226.0 1413.2 L225.5 1413.4 L225.0 1413.5 L224.5 1413.7 L224.0 1413.7 L223.5 1413.7 L223.0 1413.7 L222.5 1413.6 L222.0 1413.4 L221.5 1413.3 L221.0 1413.3 L220.5 1413.2 L220.0 1413.3 L219.5 1413.4 L219.0 1413.5 L218.5 1413.7 L218.0 1413.8 L217.5 1413.9 L217.0 1413.9 L216.5 1413.8 L216.0 1413.7 L215.5 1413.5 L215.0 1413.3 L214.5 1413.1 L214.0 1413.0 L213.5 1412.9 L213.0 1412.9 L212.5 1413.0 L212.0 1413.1 L211.5 1413.3 L211.0 1413.4 L210.5 1413.5 L210.0 1413.6 L209.5 1413.5 L209.0 1413.4 L208.5 1413.3 L208.0 1413.2 L207.5 1413.1 L207.0 1413.1 L206.5 1413.1 L206.0 1413.2 L205.5 1413.3 L205.0 1413.5 L204.5 1413.7 L204.0 1413.8 L203.5 1413.9 L203.0 1414.0 L202.5 1413.9 L202.0 1413.8 L201.5 1413.6 L201.0 1413.5 L200.5 1413.3 L200.0 1413.2 L199.5 1413.1 L199.0 1413.1 L198.5 1413.2 L198.0 1413.3 L197.5 1413.4 L197.0 1413.5 L196.5 1413.6 L196.0 1413.6 L195.5 1413.5 L195.0 1413.4 L194.5 1413.2 L194.0 1413.1 L193.5 1412.9 L193.0 1412.9 L192.5 1412.9 L192.0 1413.0 L191.5 1413.1 Z"/>
<path class="ln" stroke="#FFA500" d="M495.5 1409.9 L497.0 1409.9 L497.0 1408.4 L498.0 1386.5 L499.0 1364.4 L500.0 1342.2 L501.0 1309.7 L502.0 1277.0 L503.0 1244.1 L504.0 1224.0 L505.0 1203.9 L506.0 1183.7 L507.0 1165.3 L508.0 1146.8 L508.5 1137.6 L509.0 1131.3 L510.0 1118.9 L511.0 1106.3 L512.0 1093.5 L512.6 1086.5 L513.0 1089.6 L514.0 1101.1 L515.0 1111.3 L516.0 1122.6 L517.0 1139.4 L518.0 1157.0 L519.0 1173.7 L520.0 1172.5 L521.0 1170.3 L522.0 1168.9 L523.0 1166.9 L524.0 1145.2 L525.0 1122.3 L526.0 1100.5 L527.0 1077.7 L528.0 1056.5 L529.0 1053.1 L530.0 1051.5 L531.0 1048.4 L532.0 1046.3 L533.0 1043.4 L534.0 1064.6 L535.0 1084.9 L536.0 1105.9 L537.0 1126.1 L538.0 1127.8 L539.0 1128.6 L540.0 1130.6 L541.0 1131.2 L542.0 1130.6 L543.0 1128.8 L544.0 1128.3 L545.0 1126.5 L546.0 1112.1 L547.0 1096.6 L548.0 1082.9 L549.0 1079.8 L550.0 1078.7 L551.0 1076.0 L552.0 1074.4 L553.0 1071.9 L554.0 1035.6 L555.0 998.4 L556.0 993.2 L557.0 986.2 L558.0 981.1 L559.0 974.0 L560.0 969.4 L561.0 987.8 L562.0 1007.3 L563.0 1010.0 L564.0 1014.4 L565.0 1016.9 L566.0 1021.3 L567.0 1009.4 L568.0 998.6 L569.0 986.1 L570.0 977.5 L571.0 967.5 L572.0 958.5 L573.0 948.0 L573.6 943.7 L574.0 945.5 L575.0 951.6 L576.0 956.6 L577.0 962.6 L578.0 982.3 L579.0 1003.5 L580.0 1007.6 L581.0 1013.1 L582.0 1017.2 L583.0 1022.7 L584.0 1026.8 L585.0 1023.2 L586.0 1018.3 L587.0 1014.6 L588.0 1009.7 L589.0 1019.3 L590.0 1027.4 L591.0 1037.6 L592.0 1045.8 L593.0 1037.3 L594.0 1027.2 L595.0 1018.5 L596.0 1017.9 L597.0 1019.3 L598.0 1019.0 L599.0 1020.2 L600.0 1019.7 L601.0 1033.8 L602.0 1046.6 L603.0 1060.9 L604.0 1054.6 L605.0 1049.3 L606.0 1043.3 L607.0 1038.2 L608.0 1039.0 L609.0 1041.0 L610.0 1041.7 L611.0 1043.7 L612.0 1044.2 L613.0 1043.0 L614.0 1040.0 L615.0 1038.8 L616.0 1035.9 L617.0 1034.1 L618.0 1031.2 L619.0 1027.0 L620.0 1021.0 L621.0 1016.2 L622.0 1010.2 L623.0 997.1 L624.0 982.0 L625.0 968.6 L626.0 954.1 L627.0 942.1 L628.0 927.9 L629.0 908.2 L629.5 897.6 L630.0 889.5 L631.0 870.0 L632.0 852.8 L633.0 851.2 L634.0 851.8 L635.0 849.9 L636.0 850.4 L637.0 843.0 L638.0 837.3 L639.0 829.7 L640.0 823.6 L641.0 816.8 L642.0 812.3 L643.0 804.9 L644.0 806.3 L645.0 805.2 L646.0 806.7 L647.0 806.4 L648.0 811.2 L649.0 814.4 L650.0 819.3 L651.0 821.1 L652.0 824.2 L653.0 825.5 L654.0 828.7 L655.0 828.0 L656.0 829.4 L657.0 827.6 L658.0 829.3 L659.0 831.0 L660.0 835.4 L661.0 837.6 L662.0 843.3 L663.0 848.0 L664.0 854.2 L665.0 858.9 L666.0 866.6 L667.0 871.7 L668.0 861.3 L669.0 849.0 L670.0 839.1 L671.0 846.1 L672.0 855.7 L673.0 862.7 L674.0 860.5 L675.0 856.2 L676.0 850.2 L677.0 841.0 L678.0 834.9 L679.0 825.8 L680.0 832.7 L681.0 836.6 L682.0 842.9 L683.0 847.6 L684.0 855.5 L685.0 860.4 L686.0 863.3 L687.0 863.4 L688.0 866.4 L689.0 866.9 L690.0 874.1 L691.0 879.3 L692.0 886.7 L693.0 888.5 L694.0 891.8 L695.0 893.0 L696.0 897.1 L697.0 898.2 L698.0 891.3 L699.0 882.2 L700.0 875.5 L701.0 874.5 L702.0 875.9 L703.0 875.0 L704.0 876.1 L705.0 875.3 L706.0 879.2 L707.0 881.3 L708.0 885.3 L709.0 887.5 L710.0 898.8 L711.0 908.0 L712.0 919.5 L713.0 917.7 L714.0 917.5 L715.0 916.2 L716.0 916.4 L717.0 914.8 L718.0 908.1 L719.0 899.8 L720.0 894.0 L721.0 892.0 L722.0 892.3 L723.0 890.3 L724.0 890.4 L725.0 883.2 L726.0 877.8 L727.0 870.3 L728.0 865.6 L729.0 857.8 L730.0 851.2 L731.0 842.4 L732.0 835.6 L733.0 827.1 L734.0 820.2 L735.0 811.0 L736.0 804.9 L737.0 795.5 L738.0 795.0 L739.0 791.4 L740.0 790.0 L741.0 796.0 L742.0 804.0 L743.0 810.2 L744.0 790.5 L745.0 768.7 L746.0 749.4 L747.0 743.0 L748.0 739.2 L749.0 731.9 L750.0 747.7 L750.5 753.8 L751.0 746.8 L752.0 730.5 L753.0 716.7 L754.0 700.4 L755.0 692.7 L756.0 682.0 L757.0 674.1 L758.0 663.4 L759.0 654.6 L760.0 652.1 L761.0 651.6 L762.0 648.9 L763.0 649.0 L764.0 646.7 L765.0 637.9 L766.0 627.3 L767.0 619.4 L768.0 608.4 L769.0 600.8 L770.0 592.7 L771.0 589.1 L772.0 580.8 L773.0 576.3 L774.0 575.2 L775.0 576.6 L776.0 576.0 L777.0 577.2 L778.0 621.6 L779.0 669.1 L780.0 621.6 L781.0 576.2 L782.0 568.1 L783.0 563.5 L784.0 555.3 L785.0 551.0 L786.0 545.8 L787.0 544.4 L788.0 538.6 L789.0 540.0 L790.0 538.1 L791.0 540.3 L792.0 538.5 L793.0 539.5 L794.0 537.5 L795.0 572.6 L795.5 587.1 L796.0 579.8 L797.0 560.1 L798.0 544.9 L799.0 541.4 L800.0 542.5 L801.0 539.7 L802.0 540.2 L803.0 546.2 L804.0 556.0 L805.0 561.4 L806.0 570.9 L807.0 548.9 L808.0 530.2 L809.0 524.2 L810.0 523.6 L811.0 521.1 L812.0 523.0 L813.0 520.9 L814.0 522.4 L815.0 519.4 L816.0 539.6 L817.0 556.9 L818.0 546.7 L819.0 533.7 L820.0 524.4 L821.0 522.7 L822.0 524.3 L823.0 593.4 L823.5 630.2 L824.0 631.1 L825.0 637.1 L826.0 640.7 L827.0 646.8 L828.0 616.8 L829.0 588.9 L830.0 559.0 L831.0 613.1 L832.0 663.4 L833.0 630.4 L834.0 593.2 L835.0 560.2 L836.0 582.9 L837.0 609.4 L838.0 633.4 L839.0 659.5 L840.0 683.2 L841.0 641.3 L842.0 596.1 L842.5 576.2 L843.0 572.5 L844.0 571.4 L845.0 566.7 L846.0 564.8 L847.0 559.7 L848.0 585.8 L849.0 607.8 L849.5 621.3 L850.0 622.1 L851.0 630.6 L852.0 635.4 L853.0 643.1 L854.0 620.0 L855.0 599.8 L856.0 616.8 L857.0 636.7 L858.0 615.7 L859.0 598.3 L860.0 602.8 L861.0 610.5 L862.0 614.6 L863.0 622.2 L864.0 626.5 L865.0 615.5 L866.0 602.0 L867.0 591.1 L868.0 576.7 L869.0 624.5 L870.0 668.1 L871.0 714.3 L871.5 735.9 L872.0 716.1 L873.0 671.7 L874.0 631.1 L875.0 586.4 L876.0 590.8 L877.0 592.9 L878.0 597.4 L879.0 598.4 L880.0 618.2 L881.0 635.0 L882.0 654.5 L883.0 680.6 L884.0 708.3 L885.0 733.9 L886.0 711.1 L887.0 685.7 L888.0 662.8 L889.0 659.8 L890.0 659.3 L891.0 656.2 L892.0 654.4 L893.0 650.3 L894.0 648.3 L895.0 644.2 L896.0 662.0 L897.0 677.2 L898.0 694.8 L899.0 683.6 L900.0 674.9 L901.0 664.2 L902.0 655.6 L903.0 668.8 L904.0 685.2 L905.0 698.3 L906.0 695.2 L907.0 688.4 L908.0 684.9 L909.0 678.6 L910.0 702.2 L911.0 721.9 L912.0 745.1 L913.0 734.3 L914.0 726.1 L915.0 714.8 L916.0 706.6 L917.0 694.6 L918.0 710.1 L919.0 723.7 L920.0 739.5 L921.0 727.4 L922.0 717.3 L923.0 705.2 L924.0 750.6 L925.0 793.0 L926.0 789.9 L927.0 784.8 L928.0 781.9 L929.0 776.7 L930.0 773.0 L931.0 767.7 L932.0 790.9 L933.0 810.6 L934.0 816.5 L935.0 820.4 L936.0 826.5 L937.0 829.9 L938.0 835.9 L939.0 814.5 L940.0 794.7 L941.0 773.8 L942.0 754.0 L943.0 748.1 L944.0 744.4 L945.0 738.0 L946.0 734.0 L947.0 728.3 L948.0 724.1 L949.0 723.4 L950.0 726.2 L951.0 724.7 L952.0 726.7 L953.0 726.8 L954.0 728.9 L955.0 742.4 L956.0 759.0 L956.5 765.3 L957.0 765.1 L958.0 761.4 L959.0 760.1 L960.0 767.1 L961.0 776.3 L962.0 783.6 L963.0 793.6 L964.0 783.5 L965.0 775.6 L966.0 765.3 L967.0 757.8 L968.0 751.7 L969.0 747.3 L970.0 741.1 L971.0 736.8 L972.0 736.1 L973.0 738.6 L974.0 737.4 L975.0 739.8 L976.0 738.6 L977.0 761.3 L978.0 781.5 L979.0 775.9 L980.0 767.3 L981.0 762.3 L982.0 754.1 L983.0 748.7 L984.0 747.7 L985.0 750.3 L986.0 749.8 L987.0 752.5 L988.0 752.2 L989.0 774.1 L990.0 792.4 L991.0 796.5 L992.0 797.4 L993.0 801.2 L994.0 802.4 L995.0 805.9 L996.0 798.2 L997.0 792.4 L998.0 784.7 L999.0 785.9 L1000.0 785.3 L1001.0 786.8 L1002.0 785.7 L1003.0 787.1 L1004.0 797.1 L1005.0 810.1 L1006.0 820.7 L1007.0 832.2 L1008.0 841.1 L1009.0 852.3 L1010.0 850.0 L1011.0 850.6 L1012.0 848.4 L1013.0 848.9 L1014.0 846.3 L1015.0 855.9 L1016.0 863.7 L1017.0 873.5 L1018.0 872.3 L1019.0 872.9 L1020.0 872.0 L1021.0 872.3 L1022.0 871.4 L1023.0 871.9 L1024.0 871.1 L1025.0 878.1 L1026.0 882.6 L1027.0 889.6 L1028.0 894.7 L1029.0 902.4 L1030.0 907.5 L1031.0 910.8 L1032.0 911.5 L1033.0 914.4 L1034.0 915.5 L1035.0 918.7 L1036.0 921.9 L1037.0 926.8 L1038.0 929.8 L1039.0 934.5 L1040.0 938.2 L1041.0 943.4 L1042.0 946.8 L1043.0 951.9 L1044.0 962.3 L1045.0 974.5 L1046.0 973.1 L1047.0 973.4 L1048.0 971.9 L1049.0 972.0 L1050.0 970.5 L1051.0 966.3 L1052.0 960.4 L1053.0 956.1 L1054.0 950.1 L1055.0 957.1 L1056.0 963.3 L1057.0 970.3 L1058.0 976.5 L1059.0 991.7 L1060.0 1005.4 L1061.0 1020.8 L1062.0 1019.1 L1063.0 1019.1 L1064.0 1017.7 L1065.0 1018.3 L1066.0 1010.3 L1067.0 1003.9 L1068.0 995.7 L1069.0 1005.5 L1070.0 1013.5 L1070.5 1018.9 L1071.0 1017.9 L1072.0 1018.2 L1073.0 1016.4 L1074.0 1016.6 L1075.0 1014.9 L1076.0 1015.4 L1077.0 1018.8 L1078.0 1023.8 L1079.0 1027.6 L1080.0 1034.1 L1081.0 1039.2 L1082.0 1045.2 L1083.0 1050.4 L1084.0 1045.5 L1085.0 1039.6 L1086.0 1034.9 L1087.0 1028.7 L1088.0 1023.8 L1089.0 1019.6 L1090.0 1016.8 L1091.0 1012.3 L1092.0 1009.7 L1093.0 997.8 L1094.0 988.4 L1095.0 986.8 L1096.0 987.1 L1097.0 986.2 L1098.0 986.6 L1099.0 985.5 L1100.0 986.5 L1101.0 985.3 L1102.0 985.5 L1103.0 984.3 L1104.0 984.9 L1105.0 980.8 L1106.0 978.5 L1107.0 974.3 L1108.0 971.9 L1109.0 946.7 L1110.0 921.8 L1111.0 828.5 L1112.0 667.8 L1113.0 576.7 L1114.0 542.6 L1115.0 528.7 L1116.0 523.8 L1117.0 514.7 L1118.0 511.0 L1119.0 502.9 L1120.0 516.6 L1121.0 528.6 L1122.0 542.8 L1123.0 570.5 L1124.0 601.2 L1125.0 629.3 L1126.0 652.0 L1127.0 672.9 L1128.0 695.5 L1129.0 681.6 L1130.0 671.1 L1131.0 657.7 L1132.0 659.0 L1133.0 657.8 L1134.0 658.9 L1135.0 668.8 L1136.0 682.1 L1137.0 692.1 L1138.0 700.8 L1139.0 686.4 L1140.0 675.2 L1141.0 660.3 L1142.0 646.8 L1143.0 630.8 L1144.0 617.1 L1145.0 613.4 L1146.0 613.0 L1147.0 609.4 L1148.0 609.5 L1149.0 605.5 L1150.0 607.8 L1151.0 606.8 L1152.0 609.9 L1153.0 608.8 L1154.0 611.0 L1155.0 606.1 L1156.0 603.7 L1157.0 598.3 L1158.0 595.0 L1159.0 565.9 L1160.0 539.7 L1161.0 500.6 L1162.0 465.2 L1163.0 450.0 L1164.0 438.5 L1165.0 462.1 L1166.0 488.4 L1167.0 461.7 L1168.0 439.4 L1169.0 441.5 L1170.0 447.8 L1171.0 450.0 L1172.0 466.4 L1173.0 480.4 L1174.0 475.6 L1175.0 467.0 L1176.0 501.2 L1177.0 532.7 L1178.0 567.6 L1179.0 517.5 L1180.0 472.4 L1181.0 456.8 L1182.0 446.3 L1183.0 431.4 L1184.0 428.2 L1185.0 421.6 L1186.0 418.0 L1187.0 410.5 L1187.6 410.4 L1188.0 408.4 L1189.0 412.9 L1190.0 414.4 L1191.0 430.7 L1192.0 443.8 L1193.0 456.4 L1194.0 466.1 L1195.0 460.7 L1196.0 451.6 L1197.0 447.0 L1198.0 437.8 L1199.0 439.5 L1200.0 437.3 L1201.0 439.7 L1202.0 437.7 L1203.0 440.4 L1204.0 464.5 L1205.0 490.8 L1206.0 518.8 L1207.0 550.4 L1208.0 552.2 L1209.0 558.6 L1210.0 560.5 L1211.0 553.9 L1212.0 544.7 L1213.0 538.7 L1214.0 529.2 L1215.0 539.6 L1216.0 547.7 L1217.0 559.6 L1218.0 561.9 L1219.0 567.2 L1220.0 569.8 L1221.0 613.2 L1222.0 653.1 L1223.0 678.6 L1224.0 678.8 L1225.0 681.2 L1226.0 680.6 L1227.0 683.4 L1228.0 682.9 L1229.0 709.6 L1230.0 733.5 L1231.0 724.2 L1232.0 711.4 L1233.0 701.6 L1234.0 688.7 L1235.0 690.4 L1236.0 688.4 L1237.0 690.0 L1238.0 689.5 L1239.0 692.4 L1240.0 702.0 L1241.0 715.3 L1242.0 724.7 L1243.0 747.3 L1244.0 766.0 L1245.0 766.2 L1246.0 763.2 L1247.0 763.1 L1248.0 759.9 L1249.0 753.4 L1250.0 744.2 L1251.0 737.2 L1252.0 740.4 L1253.0 746.7 L1254.0 749.5 L1255.0 760.4 L1256.0 769.6 L1257.0 780.4 L1258.0 772.1 L1259.0 766.2 L1260.0 757.7 L1261.0 762.7 L1262.0 766.3 L1263.0 771.7 L1264.0 775.5 L1265.0 782.1 L1266.0 786.9 L1267.0 719.2 L1267.2 704.0 L1268.0 706.6 L1269.0 706.3 L1270.0 707.9 L1271.0 708.3 L1272.0 726.7 L1273.0 743.5 L1274.0 762.4 L1275.0 757.1 L1276.0 754.5 L1277.0 750.0 L1278.0 747.1 L1279.0 742.6 L1280.0 740.1 L1281.0 735.1 L1282.0 744.3 L1283.0 750.8 L1284.0 760.4 L1285.0 759.6 L1286.0 761.1 L1287.0 759.4 L1288.0 761.1 L1289.0 760.1 L1290.0 762.0 L1291.0 756.7 L1292.0 754.0 L1293.0 749.6 L1294.0 747.2 L1295.0 741.5 L1296.0 752.1 L1297.0 759.9 L1298.0 770.3 L1299.0 764.1 L1300.0 760.4 L1301.0 753.4 L1302.0 749.5 L1303.0 719.9 L1303.2 715.1 L1304.0 711.2 L1305.0 709.5 L1306.0 704.4 L1307.0 702.8 L1308.0 709.6 L1309.0 718.3 L1310.0 725.4 L1311.0 718.9 L1312.0 710.0 L1313.0 704.2 L1314.0 712.3 L1315.0 723.7 L1316.0 731.7 L1317.0 725.5 L1318.0 717.2 L1319.0 711.3 L1320.0 702.9 L1321.0 704.9 L1322.0 703.7 L1323.0 706.4 L1324.0 705.9 L1325.0 707.5 L1326.0 706.9 L1327.0 708.9 L1328.0 748.3 L1328.4 765.6 L1329.0 761.7 L1330.0 759.7 L1331.0 754.3 L1332.0 752.0 L1333.0 746.9 L1334.0 744.7 L1335.0 753.5 L1336.0 765.2 L1337.0 774.4 L1338.0 774.3 L1339.0 771.8 L1340.0 771.7 L1341.0 769.3 L1342.0 769.2 L1343.0 777.6 L1344.0 788.3 L1345.0 797.4 L1346.0 792.3 L1347.0 785.6 L1348.0 781.2 L1349.0 774.2 L1350.0 797.6 L1351.0 818.7 L1352.0 814.8 L1353.0 809.2 L1354.0 806.1 L1355.0 799.8 L1356.0 801.5 L1357.0 800.8 L1358.0 801.7 L1359.0 800.7 L1360.0 802.0 L1361.0 801.2 L1362.0 823.3 L1363.0 843.4 L1364.0 865.4 L1365.0 837.2 L1366.0 811.8 L1367.0 784.1 L1368.0 791.4 L1369.0 796.6 L1370.0 803.9 L1371.0 793.5 L1372.0 785.1 L1373.0 774.7 L1374.0 766.6 L1375.0 764.6 L1376.0 764.5 L1377.0 762.5 L1378.0 765.0 L1379.0 764.7 L1380.0 799.7 L1381.0 831.6 L1381.6 852.2 L1382.0 845.0 L1383.0 831.1 L1384.0 815.7 L1385.0 801.4 L1386.0 785.5 L1387.0 787.9 L1388.0 787.6 L1389.0 789.3 L1390.0 788.7 L1390.6 801.0"/>
<rect x="-3.3" y="-3.3" width="6.6" height="6.6" fill="#FFA500" transform="translate(1394.5,797.1) rotate(-10)"/>
<rect x="-3.3" y="-1.65" width="6.6" height="3.3" fill="#FFA500" transform="translate(1391.2,810.2) rotate(-5)"/>
<rect x="-3.5" y="-3.3" width="7" height="6.6" fill="#FFA500" transform="translate(1398.7,814.2) rotate(-5)"/>
<rect x="-3.5" y="-3.5" width="7" height="7" fill="#FFA500" transform="translate(1401.6,841.5) rotate(-3)"/>
<rect x="-3.5" y="-2.5" width="7" height="5" fill="#FFA500" transform="translate(1404.0,867.8) rotate(-15)"/>
<rect x="-3.5" y="-3.3" width="7" height="6.6" fill="#FFA500" transform="translate(1407.3,877.1) rotate(-8)"/>
<g stroke="#000" stroke-width="2" fill="none" stroke-linejoin="miter"><path d="M187.05 242.4 V1420.5 H1530 V242.4"/></g>
<g stroke="#404040" stroke-width="2">
<line x1="169" x2="186" y1="1415.5" y2="1415.5"/>
<line x1="169" x2="186" y1="1289.9" y2="1289.9"/>
<line x1="169" x2="186" y1="1164.2" y2="1164.2"/>
<line x1="169" x2="186" y1="1038.7" y2="1038.7"/>
<line x1="169" x2="186" y1="913.1" y2="913.1"/>
<line x1="169" x2="186" y1="787.5" y2="787.5"/>
<line x1="169" x2="186" y1="661.9" y2="661.9"/>
<line x1="169" x2="186" y1="536.3" y2="536.3"/>
<line x1="169" x2="186" y1="410.7" y2="410.7"/>
<line x1="169" x2="186" y1="285.1" y2="285.1"/>
<line x1="1531" x2="1548" y1="1415.5" y2="1415.5"/>
<line x1="1531" x2="1548" y1="1274.2" y2="1274.2"/>
<line x1="1531" x2="1548" y1="1132.8" y2="1132.8"/>
<line x1="1531" x2="1548" y1="991.5" y2="991.5"/>
<line x1="1531" x2="1548" y1="850.2" y2="850.2"/>
<line x1="1531" x2="1548" y1="709.0" y2="709.0"/>
<line x1="1531" x2="1548" y1="567.6" y2="567.6"/>
<line x1="1531" x2="1548" y1="426.3" y2="426.3"/>
<line x1="1531" x2="1548" y1="285.0" y2="285.0"/>
</g><g stroke="#404040" stroke-width="3.2">
<line x1="246.2" x2="246.2" y1="1421.5" y2="1438.8"/>
<line x1="352.6" x2="352.6" y1="1421.5" y2="1438.8"/>
<line x1="459.1" x2="459.1" y1="1421.5" y2="1438.8"/>
<line x1="565.5" x2="565.5" y1="1421.5" y2="1438.8"/>
<line x1="672.0" x2="672.0" y1="1421.5" y2="1438.8"/>
<line x1="778.5" x2="778.5" y1="1421.5" y2="1438.8"/>
<line x1="884.9" x2="884.9" y1="1421.5" y2="1438.8"/>
<line x1="991.3" x2="991.3" y1="1421.5" y2="1438.8"/>
<line x1="1097.8" x2="1097.8" y1="1421.5" y2="1438.8"/>
<line x1="1204.2" x2="1204.2" y1="1421.5" y2="1438.8"/>
<line x1="1310.7" x2="1310.7" y1="1421.5" y2="1438.8"/>
<line x1="1417.2" x2="1417.2" y1="1421.5" y2="1438.8"/>
<line x1="1523.6" x2="1523.6" y1="1421.5" y2="1438.8"/>
</g>
<text class="tk" transform="translate(152.8,1440.0) scale(0.962,1)" text-anchor="end" textLength="132.17" lengthAdjust="spacingAndGlyphs">0.00</text>
<text class="tk" transform="translate(152.8,1314.5) scale(0.962,1)" text-anchor="end" textLength="132.17" lengthAdjust="spacingAndGlyphs">0.05</text>
<text class="tk" transform="translate(152.8,1188.8) scale(0.962,1)" text-anchor="end" textLength="132.17" lengthAdjust="spacingAndGlyphs">0.10</text>
<text class="tk" transform="translate(152.8,1063.2) scale(0.962,1)" text-anchor="end" textLength="132.17" lengthAdjust="spacingAndGlyphs">0.15</text>
<text class="tk" transform="translate(152.8,937.7) scale(0.962,1)" text-anchor="end" textLength="132.17" lengthAdjust="spacingAndGlyphs">0.20</text>
<text class="tk" transform="translate(152.8,812.1) scale(0.962,1)" text-anchor="end" textLength="132.17" lengthAdjust="spacingAndGlyphs">0.25</text>
<text class="tk" transform="translate(152.8,686.5) scale(0.962,1)" text-anchor="end" textLength="132.17" lengthAdjust="spacingAndGlyphs">0.30</text>
<text class="tk" transform="translate(152.8,560.9) scale(0.962,1)" text-anchor="end" textLength="132.17" lengthAdjust="spacingAndGlyphs">0.35</text>
<text class="tk" transform="translate(152.8,435.3) scale(0.962,1)" text-anchor="end" textLength="132.17" lengthAdjust="spacingAndGlyphs">0.40</text>
<text class="tk" transform="translate(152.8,309.7) scale(0.962,1)" text-anchor="end" textLength="132.17" lengthAdjust="spacingAndGlyphs">0.45</text>
<text class="tk" transform="translate(1690.4,1440.0) scale(0.962,1)" text-anchor="end" textLength="94.41" lengthAdjust="spacingAndGlyphs">0.0</text>
<text class="tk" transform="translate(1690.4,1298.8) scale(0.962,1)" text-anchor="end" textLength="94.41" lengthAdjust="spacingAndGlyphs">2.5</text>
<text class="tk" transform="translate(1690.4,1157.4) scale(0.962,1)" text-anchor="end" textLength="94.41" lengthAdjust="spacingAndGlyphs">5.0</text>
<text class="tk" transform="translate(1690.4,1016.1) scale(0.962,1)" text-anchor="end" textLength="94.41" lengthAdjust="spacingAndGlyphs">7.5</text>
<text class="tk" transform="translate(1690.4,874.9) scale(0.962,1)" text-anchor="end" textLength="132.17" lengthAdjust="spacingAndGlyphs">10.0</text>
<text class="tk" transform="translate(1690.4,733.6) scale(0.962,1)" text-anchor="end" textLength="132.17" lengthAdjust="spacingAndGlyphs">12.5</text>
<text class="tk" transform="translate(1690.4,592.2) scale(0.962,1)" text-anchor="end" textLength="132.17" lengthAdjust="spacingAndGlyphs">15.0</text>
<text class="tk" transform="translate(1690.4,450.9) scale(0.962,1)" text-anchor="end" textLength="132.17" lengthAdjust="spacingAndGlyphs">17.5</text>
<text class="tk" transform="translate(1690.4,309.6) scale(0.962,1)" text-anchor="end" textLength="132.17" lengthAdjust="spacingAndGlyphs">20.0</text>
<text class="tk" transform="translate(246.2,1510) scale(0.962,1)" text-anchor="middle" textLength="75.55" lengthAdjust="spacingAndGlyphs">04</text>
<text class="tk" transform="translate(352.6,1510) scale(0.962,1)" text-anchor="middle" textLength="75.55" lengthAdjust="spacingAndGlyphs">06</text>
<text class="tk" transform="translate(459.1,1510) scale(0.962,1)" text-anchor="middle" textLength="75.55" lengthAdjust="spacingAndGlyphs">08</text>
<text class="tk" transform="translate(565.5,1510) scale(0.962,1)" text-anchor="middle" textLength="75.55" lengthAdjust="spacingAndGlyphs">10</text>
<text class="tk" transform="translate(672.0,1510) scale(0.962,1)" text-anchor="middle" textLength="75.55" lengthAdjust="spacingAndGlyphs">12</text>
<text class="tk" transform="translate(778.5,1510) scale(0.962,1)" text-anchor="middle" textLength="75.55" lengthAdjust="spacingAndGlyphs">14</text>
<text class="tk" transform="translate(884.9,1510) scale(0.962,1)" text-anchor="middle" textLength="75.55" lengthAdjust="spacingAndGlyphs">16</text>
<text class="tk" transform="translate(991.3,1510) scale(0.962,1)" text-anchor="middle" textLength="75.55" lengthAdjust="spacingAndGlyphs">18</text>
<text class="tk" transform="translate(1097.8,1510) scale(0.962,1)" text-anchor="middle" textLength="75.55" lengthAdjust="spacingAndGlyphs">20</text>
<text class="tk" transform="translate(1204.2,1510) scale(0.962,1)" text-anchor="middle" textLength="75.55" lengthAdjust="spacingAndGlyphs">22</text>
<text class="tk" transform="translate(1310.7,1510) scale(0.962,1)" text-anchor="middle" textLength="75.55" lengthAdjust="spacingAndGlyphs">24</text>
<text class="tk" transform="translate(1417.2,1510) scale(0.962,1)" text-anchor="middle" textLength="75.55" lengthAdjust="spacingAndGlyphs">26</text>
<text class="tk" transform="translate(1523.6,1510) scale(0.962,1)" text-anchor="middle" textLength="75.55" lengthAdjust="spacingAndGlyphs">28</text>
<text font-size="58.5" fill="#17375E" stroke="#17375E" stroke-width="0.7" x="879.8" y="345" textLength="286.3" lengthAdjust="spacingAndGlyphs">Reserves /</text>
<text font-size="58.5" fill="#17375E" stroke="#17375E" stroke-width="0.7" x="944.2" y="419" textLength="161.6" lengthAdjust="spacingAndGlyphs">Loans</text>
<text font-size="58.5" fill="#00B0F0" stroke="#00B0F0" stroke-width="0.7" x="289.8" y="591" textLength="286.3" lengthAdjust="spacingAndGlyphs">Reserves /</text>
<text font-size="58.5" fill="#00B0F0" stroke="#00B0F0" stroke-width="0.7" x="317.8" y="667" textLength="234.5" lengthAdjust="spacingAndGlyphs">Deposits</text>
<text font-size="58.5" fill="#FFA500" stroke="#FFA500" stroke-width="0.7" x="276.2" y="857" textLength="245.9" lengthAdjust="spacingAndGlyphs">Reserves</text>
<text font-size="58.5" fill="#FFA500" stroke="#FFA500" stroke-width="0.7" x="301.6" y="933" textLength="197.6" lengthAdjust="spacingAndGlyphs">% GDP</text>
<text font-size="58.5" fill="#FF0000" stroke="#FF0000" stroke-width="0.7" x="765.8" y="1241" textLength="286.3" lengthAdjust="spacingAndGlyphs">Reserves /</text>
<text font-size="58.5" fill="#FF0000" stroke="#FF0000" stroke-width="0.7" x="824.2" y="1315.6" textLength="174.6" lengthAdjust="spacingAndGlyphs">Assets</text>
<g fill="#0F243E" stroke="none"><rect x="968" y="461.2" width="109" height="4.8"/><path d="M935 463.6 L968 444.6 L968 482.6 Z"/></g>
<g fill="#00B8F0" stroke="none"><rect x="376.6" y="726.2" width="123.0" height="4.8"/><path d="M344 728.6 L376.6 709.6 L376.6 747.6 Z"/></g>
<g fill="#FFA500" stroke="none"><rect x="313" y="994.6" width="121" height="4.8"/><path d="M467 997 L434 978 L434 1016 Z"/></g>
<g fill="#FF0000" stroke="none"><rect x="868" y="1355.0" width="126.39999999999998" height="4.8"/><path d="M835.4 1357.4 L868 1338.4 L868 1376.4 Z"/></g>
<text id="src" x="35.7" y="1588" font-size="39.5" fill="#404040" textLength="888.3" lengthAdjust="spacingAndGlyphs">Source: Federal Reserve, Macrobond, Satori Insights.</text>
</svg></body></html>
